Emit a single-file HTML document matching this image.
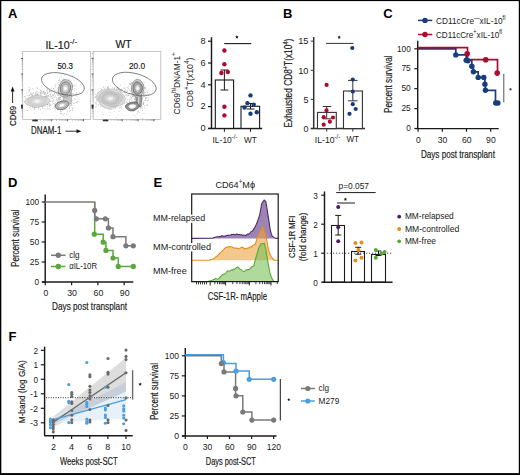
<!DOCTYPE html>
<html><head><meta charset="utf-8"><style>
html,body{margin:0;padding:0;background:#fff;}
svg{display:block;}
text{font-family:"Liberation Sans", sans-serif;} .hv{stroke:#1a1a1a;stroke-width:0.18px;}
</style></head><body>
<svg width="520" height="475" viewBox="0 0 520 475" font-family='"Liberation Sans", sans-serif' fill="#1a1a1a">
<rect x="0" y="0" width="520" height="475" fill="#fff"/>
<text x="7.90" y="18.30" font-size="13" font-weight="bold" fill="#000" >A</text>
<text x="283.10" y="18.10" font-size="13" font-weight="bold" fill="#000" >B</text>
<text x="383.20" y="18.20" font-size="13" font-weight="bold" fill="#000" >C</text>
<text x="8.10" y="187.20" font-size="13" font-weight="bold" fill="#000" >D</text>
<text x="153.40" y="187.20" font-size="13" font-weight="bold" fill="#000" >E</text>
<text x="8.40" y="340.70" font-size="13" font-weight="bold" fill="#000" >F</text>
<rect x="22.70" y="51.50" width="68.00" height="68.00" stroke="#b8b8b8" stroke-width="0.8" fill="none"/>
<line x1="22.70" y1="53.30" x2="21.50" y2="53.30" stroke="#888" stroke-width="0.6" />
<line x1="23.00" y1="58.40" x2="21.10" y2="58.40" stroke="#444" stroke-width="1.0" />
<line x1="22.70" y1="69.23" x2="21.70" y2="69.23" stroke="#888" stroke-width="0.6" />
<line x1="22.70" y1="66.50" x2="21.70" y2="66.50" stroke="#888" stroke-width="0.6" />
<line x1="22.70" y1="64.57" x2="21.70" y2="64.57" stroke="#888" stroke-width="0.6" />
<line x1="22.70" y1="63.07" x2="21.70" y2="63.07" stroke="#888" stroke-width="0.6" />
<line x1="22.70" y1="61.84" x2="21.70" y2="61.84" stroke="#888" stroke-width="0.6" />
<line x1="22.70" y1="60.80" x2="21.70" y2="60.80" stroke="#888" stroke-width="0.6" />
<line x1="22.70" y1="59.90" x2="21.70" y2="59.90" stroke="#888" stroke-width="0.6" />
<line x1="22.70" y1="59.11" x2="21.70" y2="59.11" stroke="#888" stroke-width="0.6" />
<line x1="23.00" y1="74.10" x2="21.10" y2="74.10" stroke="#444" stroke-width="1.0" />
<line x1="22.70" y1="84.93" x2="21.70" y2="84.93" stroke="#888" stroke-width="0.6" />
<line x1="22.70" y1="82.20" x2="21.70" y2="82.20" stroke="#888" stroke-width="0.6" />
<line x1="22.70" y1="80.27" x2="21.70" y2="80.27" stroke="#888" stroke-width="0.6" />
<line x1="22.70" y1="78.77" x2="21.70" y2="78.77" stroke="#888" stroke-width="0.6" />
<line x1="22.70" y1="77.54" x2="21.70" y2="77.54" stroke="#888" stroke-width="0.6" />
<line x1="22.70" y1="76.50" x2="21.70" y2="76.50" stroke="#888" stroke-width="0.6" />
<line x1="22.70" y1="75.60" x2="21.70" y2="75.60" stroke="#888" stroke-width="0.6" />
<line x1="22.70" y1="74.81" x2="21.70" y2="74.81" stroke="#888" stroke-width="0.6" />
<line x1="23.00" y1="89.90" x2="21.10" y2="89.90" stroke="#444" stroke-width="1.0" />
<line x1="22.70" y1="100.73" x2="21.70" y2="100.73" stroke="#888" stroke-width="0.6" />
<line x1="22.70" y1="98.00" x2="21.70" y2="98.00" stroke="#888" stroke-width="0.6" />
<line x1="22.70" y1="96.07" x2="21.70" y2="96.07" stroke="#888" stroke-width="0.6" />
<line x1="22.70" y1="94.57" x2="21.70" y2="94.57" stroke="#888" stroke-width="0.6" />
<line x1="22.70" y1="93.34" x2="21.70" y2="93.34" stroke="#888" stroke-width="0.6" />
<line x1="22.70" y1="92.30" x2="21.70" y2="92.30" stroke="#888" stroke-width="0.6" />
<line x1="22.70" y1="91.40" x2="21.70" y2="91.40" stroke="#888" stroke-width="0.6" />
<line x1="22.70" y1="90.61" x2="21.70" y2="90.61" stroke="#888" stroke-width="0.6" />
<line x1="23.00" y1="105.60" x2="21.10" y2="105.60" stroke="#444" stroke-width="1.0" />
<line x1="22.70" y1="116.43" x2="21.70" y2="116.43" stroke="#888" stroke-width="0.6" />
<line x1="22.70" y1="113.70" x2="21.70" y2="113.70" stroke="#888" stroke-width="0.6" />
<line x1="22.70" y1="111.77" x2="21.70" y2="111.77" stroke="#888" stroke-width="0.6" />
<line x1="22.70" y1="110.27" x2="21.70" y2="110.27" stroke="#888" stroke-width="0.6" />
<line x1="22.70" y1="109.04" x2="21.70" y2="109.04" stroke="#888" stroke-width="0.6" />
<line x1="22.70" y1="108.00" x2="21.70" y2="108.00" stroke="#888" stroke-width="0.6" />
<line x1="22.70" y1="107.10" x2="21.70" y2="107.10" stroke="#888" stroke-width="0.6" />
<line x1="22.70" y1="106.31" x2="21.70" y2="106.31" stroke="#888" stroke-width="0.6" />
<rect x="21.10" y="104.60" width="1.80" height="4.00" stroke="none" stroke-width="0" fill="#333"/>
<line x1="35.80" y1="119.20" x2="35.80" y2="121.30" stroke="#444" stroke-width="0.9" />
<line x1="33.34" y1="119.50" x2="33.34" y2="120.70" stroke="#888" stroke-width="0.6" />
<line x1="34.26" y1="119.50" x2="34.26" y2="120.70" stroke="#888" stroke-width="0.6" />
<line x1="35.07" y1="119.50" x2="35.07" y2="120.70" stroke="#888" stroke-width="0.6" />
<line x1="51.70" y1="119.20" x2="51.70" y2="121.30" stroke="#444" stroke-width="0.9" />
<line x1="40.59" y1="119.50" x2="40.59" y2="120.70" stroke="#888" stroke-width="0.6" />
<line x1="43.39" y1="119.50" x2="43.39" y2="120.70" stroke="#888" stroke-width="0.6" />
<line x1="45.37" y1="119.50" x2="45.37" y2="120.70" stroke="#888" stroke-width="0.6" />
<line x1="46.91" y1="119.50" x2="46.91" y2="120.70" stroke="#888" stroke-width="0.6" />
<line x1="48.17" y1="119.50" x2="48.17" y2="120.70" stroke="#888" stroke-width="0.6" />
<line x1="49.24" y1="119.50" x2="49.24" y2="120.70" stroke="#888" stroke-width="0.6" />
<line x1="50.16" y1="119.50" x2="50.16" y2="120.70" stroke="#888" stroke-width="0.6" />
<line x1="50.97" y1="119.50" x2="50.97" y2="120.70" stroke="#888" stroke-width="0.6" />
<line x1="67.60" y1="119.20" x2="67.60" y2="121.30" stroke="#444" stroke-width="0.9" />
<line x1="56.49" y1="119.50" x2="56.49" y2="120.70" stroke="#888" stroke-width="0.6" />
<line x1="59.29" y1="119.50" x2="59.29" y2="120.70" stroke="#888" stroke-width="0.6" />
<line x1="61.27" y1="119.50" x2="61.27" y2="120.70" stroke="#888" stroke-width="0.6" />
<line x1="62.81" y1="119.50" x2="62.81" y2="120.70" stroke="#888" stroke-width="0.6" />
<line x1="64.07" y1="119.50" x2="64.07" y2="120.70" stroke="#888" stroke-width="0.6" />
<line x1="65.14" y1="119.50" x2="65.14" y2="120.70" stroke="#888" stroke-width="0.6" />
<line x1="66.06" y1="119.50" x2="66.06" y2="120.70" stroke="#888" stroke-width="0.6" />
<line x1="66.87" y1="119.50" x2="66.87" y2="120.70" stroke="#888" stroke-width="0.6" />
<line x1="83.50" y1="119.20" x2="83.50" y2="121.30" stroke="#444" stroke-width="0.9" />
<line x1="72.39" y1="119.50" x2="72.39" y2="120.70" stroke="#888" stroke-width="0.6" />
<line x1="75.19" y1="119.50" x2="75.19" y2="120.70" stroke="#888" stroke-width="0.6" />
<line x1="77.17" y1="119.50" x2="77.17" y2="120.70" stroke="#888" stroke-width="0.6" />
<line x1="78.71" y1="119.50" x2="78.71" y2="120.70" stroke="#888" stroke-width="0.6" />
<line x1="79.97" y1="119.50" x2="79.97" y2="120.70" stroke="#888" stroke-width="0.6" />
<line x1="81.04" y1="119.50" x2="81.04" y2="120.70" stroke="#888" stroke-width="0.6" />
<line x1="81.96" y1="119.50" x2="81.96" y2="120.70" stroke="#888" stroke-width="0.6" />
<line x1="82.77" y1="119.50" x2="82.77" y2="120.70" stroke="#888" stroke-width="0.6" />
<rect x="32.30" y="119.70" width="5.60" height="1.60" stroke="none" stroke-width="0" fill="#333"/>
<rect x="93.20" y="51.50" width="67.60" height="68.00" stroke="#b8b8b8" stroke-width="0.8" fill="none"/>
<line x1="93.20" y1="53.30" x2="92.00" y2="53.30" stroke="#888" stroke-width="0.6" />
<line x1="93.50" y1="58.40" x2="91.60" y2="58.40" stroke="#444" stroke-width="1.0" />
<line x1="93.20" y1="69.23" x2="92.20" y2="69.23" stroke="#888" stroke-width="0.6" />
<line x1="93.20" y1="66.50" x2="92.20" y2="66.50" stroke="#888" stroke-width="0.6" />
<line x1="93.20" y1="64.57" x2="92.20" y2="64.57" stroke="#888" stroke-width="0.6" />
<line x1="93.20" y1="63.07" x2="92.20" y2="63.07" stroke="#888" stroke-width="0.6" />
<line x1="93.20" y1="61.84" x2="92.20" y2="61.84" stroke="#888" stroke-width="0.6" />
<line x1="93.20" y1="60.80" x2="92.20" y2="60.80" stroke="#888" stroke-width="0.6" />
<line x1="93.20" y1="59.90" x2="92.20" y2="59.90" stroke="#888" stroke-width="0.6" />
<line x1="93.20" y1="59.11" x2="92.20" y2="59.11" stroke="#888" stroke-width="0.6" />
<line x1="93.50" y1="74.10" x2="91.60" y2="74.10" stroke="#444" stroke-width="1.0" />
<line x1="93.20" y1="84.93" x2="92.20" y2="84.93" stroke="#888" stroke-width="0.6" />
<line x1="93.20" y1="82.20" x2="92.20" y2="82.20" stroke="#888" stroke-width="0.6" />
<line x1="93.20" y1="80.27" x2="92.20" y2="80.27" stroke="#888" stroke-width="0.6" />
<line x1="93.20" y1="78.77" x2="92.20" y2="78.77" stroke="#888" stroke-width="0.6" />
<line x1="93.20" y1="77.54" x2="92.20" y2="77.54" stroke="#888" stroke-width="0.6" />
<line x1="93.20" y1="76.50" x2="92.20" y2="76.50" stroke="#888" stroke-width="0.6" />
<line x1="93.20" y1="75.60" x2="92.20" y2="75.60" stroke="#888" stroke-width="0.6" />
<line x1="93.20" y1="74.81" x2="92.20" y2="74.81" stroke="#888" stroke-width="0.6" />
<line x1="93.50" y1="89.90" x2="91.60" y2="89.90" stroke="#444" stroke-width="1.0" />
<line x1="93.20" y1="100.73" x2="92.20" y2="100.73" stroke="#888" stroke-width="0.6" />
<line x1="93.20" y1="98.00" x2="92.20" y2="98.00" stroke="#888" stroke-width="0.6" />
<line x1="93.20" y1="96.07" x2="92.20" y2="96.07" stroke="#888" stroke-width="0.6" />
<line x1="93.20" y1="94.57" x2="92.20" y2="94.57" stroke="#888" stroke-width="0.6" />
<line x1="93.20" y1="93.34" x2="92.20" y2="93.34" stroke="#888" stroke-width="0.6" />
<line x1="93.20" y1="92.30" x2="92.20" y2="92.30" stroke="#888" stroke-width="0.6" />
<line x1="93.20" y1="91.40" x2="92.20" y2="91.40" stroke="#888" stroke-width="0.6" />
<line x1="93.20" y1="90.61" x2="92.20" y2="90.61" stroke="#888" stroke-width="0.6" />
<line x1="93.50" y1="105.60" x2="91.60" y2="105.60" stroke="#444" stroke-width="1.0" />
<line x1="93.20" y1="116.43" x2="92.20" y2="116.43" stroke="#888" stroke-width="0.6" />
<line x1="93.20" y1="113.70" x2="92.20" y2="113.70" stroke="#888" stroke-width="0.6" />
<line x1="93.20" y1="111.77" x2="92.20" y2="111.77" stroke="#888" stroke-width="0.6" />
<line x1="93.20" y1="110.27" x2="92.20" y2="110.27" stroke="#888" stroke-width="0.6" />
<line x1="93.20" y1="109.04" x2="92.20" y2="109.04" stroke="#888" stroke-width="0.6" />
<line x1="93.20" y1="108.00" x2="92.20" y2="108.00" stroke="#888" stroke-width="0.6" />
<line x1="93.20" y1="107.10" x2="92.20" y2="107.10" stroke="#888" stroke-width="0.6" />
<line x1="93.20" y1="106.31" x2="92.20" y2="106.31" stroke="#888" stroke-width="0.6" />
<rect x="91.60" y="104.60" width="1.80" height="4.00" stroke="none" stroke-width="0" fill="#333"/>
<line x1="106.30" y1="119.20" x2="106.30" y2="121.30" stroke="#444" stroke-width="0.9" />
<line x1="103.84" y1="119.50" x2="103.84" y2="120.70" stroke="#888" stroke-width="0.6" />
<line x1="104.76" y1="119.50" x2="104.76" y2="120.70" stroke="#888" stroke-width="0.6" />
<line x1="105.57" y1="119.50" x2="105.57" y2="120.70" stroke="#888" stroke-width="0.6" />
<line x1="122.20" y1="119.20" x2="122.20" y2="121.30" stroke="#444" stroke-width="0.9" />
<line x1="111.09" y1="119.50" x2="111.09" y2="120.70" stroke="#888" stroke-width="0.6" />
<line x1="113.89" y1="119.50" x2="113.89" y2="120.70" stroke="#888" stroke-width="0.6" />
<line x1="115.87" y1="119.50" x2="115.87" y2="120.70" stroke="#888" stroke-width="0.6" />
<line x1="117.41" y1="119.50" x2="117.41" y2="120.70" stroke="#888" stroke-width="0.6" />
<line x1="118.67" y1="119.50" x2="118.67" y2="120.70" stroke="#888" stroke-width="0.6" />
<line x1="119.74" y1="119.50" x2="119.74" y2="120.70" stroke="#888" stroke-width="0.6" />
<line x1="120.66" y1="119.50" x2="120.66" y2="120.70" stroke="#888" stroke-width="0.6" />
<line x1="121.47" y1="119.50" x2="121.47" y2="120.70" stroke="#888" stroke-width="0.6" />
<line x1="138.10" y1="119.20" x2="138.10" y2="121.30" stroke="#444" stroke-width="0.9" />
<line x1="126.99" y1="119.50" x2="126.99" y2="120.70" stroke="#888" stroke-width="0.6" />
<line x1="129.79" y1="119.50" x2="129.79" y2="120.70" stroke="#888" stroke-width="0.6" />
<line x1="131.77" y1="119.50" x2="131.77" y2="120.70" stroke="#888" stroke-width="0.6" />
<line x1="133.31" y1="119.50" x2="133.31" y2="120.70" stroke="#888" stroke-width="0.6" />
<line x1="134.57" y1="119.50" x2="134.57" y2="120.70" stroke="#888" stroke-width="0.6" />
<line x1="135.64" y1="119.50" x2="135.64" y2="120.70" stroke="#888" stroke-width="0.6" />
<line x1="136.56" y1="119.50" x2="136.56" y2="120.70" stroke="#888" stroke-width="0.6" />
<line x1="137.37" y1="119.50" x2="137.37" y2="120.70" stroke="#888" stroke-width="0.6" />
<line x1="154.00" y1="119.20" x2="154.00" y2="121.30" stroke="#444" stroke-width="0.9" />
<line x1="142.89" y1="119.50" x2="142.89" y2="120.70" stroke="#888" stroke-width="0.6" />
<line x1="145.69" y1="119.50" x2="145.69" y2="120.70" stroke="#888" stroke-width="0.6" />
<line x1="147.67" y1="119.50" x2="147.67" y2="120.70" stroke="#888" stroke-width="0.6" />
<line x1="149.21" y1="119.50" x2="149.21" y2="120.70" stroke="#888" stroke-width="0.6" />
<line x1="150.47" y1="119.50" x2="150.47" y2="120.70" stroke="#888" stroke-width="0.6" />
<line x1="151.54" y1="119.50" x2="151.54" y2="120.70" stroke="#888" stroke-width="0.6" />
<line x1="152.46" y1="119.50" x2="152.46" y2="120.70" stroke="#888" stroke-width="0.6" />
<line x1="153.27" y1="119.50" x2="153.27" y2="120.70" stroke="#888" stroke-width="0.6" />
<rect x="102.80" y="119.70" width="5.60" height="1.60" stroke="none" stroke-width="0" fill="#333"/>
<circle cx="53.4" cy="99.8" r="0.45" fill="#a8a8a8"/>
<circle cx="57.0" cy="100.9" r="0.45" fill="#a8a8a8"/>
<circle cx="36.0" cy="98.0" r="0.45" fill="#a8a8a8"/>
<circle cx="64.9" cy="108.9" r="0.45" fill="#a8a8a8"/>
<circle cx="30.1" cy="89.8" r="0.45" fill="#a8a8a8"/>
<circle cx="69.1" cy="79.6" r="0.45" fill="#a8a8a8"/>
<circle cx="66.5" cy="102.0" r="0.45" fill="#a8a8a8"/>
<circle cx="58.3" cy="80.3" r="0.45" fill="#a8a8a8"/>
<circle cx="36.4" cy="87.4" r="0.45" fill="#a8a8a8"/>
<circle cx="26.0" cy="96.1" r="0.45" fill="#a8a8a8"/>
<circle cx="57.7" cy="103.0" r="0.45" fill="#a8a8a8"/>
<circle cx="56.5" cy="103.8" r="0.45" fill="#a8a8a8"/>
<circle cx="53.7" cy="88.8" r="0.45" fill="#a8a8a8"/>
<circle cx="73.8" cy="93.6" r="0.45" fill="#a8a8a8"/>
<circle cx="28.7" cy="102.5" r="0.45" fill="#a8a8a8"/>
<circle cx="74.6" cy="88.5" r="0.45" fill="#a8a8a8"/>
<circle cx="29.7" cy="91.0" r="0.45" fill="#a8a8a8"/>
<circle cx="75.8" cy="84.9" r="0.45" fill="#a8a8a8"/>
<circle cx="60.4" cy="95.4" r="0.45" fill="#a8a8a8"/>
<circle cx="36.4" cy="106.5" r="0.45" fill="#a8a8a8"/>
<circle cx="32.5" cy="103.1" r="0.45" fill="#a8a8a8"/>
<circle cx="31.6" cy="94.4" r="0.45" fill="#a8a8a8"/>
<circle cx="37.8" cy="88.5" r="0.45" fill="#a8a8a8"/>
<circle cx="37.7" cy="93.4" r="0.45" fill="#a8a8a8"/>
<circle cx="37.9" cy="88.1" r="0.45" fill="#a8a8a8"/>
<circle cx="74.2" cy="90.8" r="0.45" fill="#a8a8a8"/>
<circle cx="29.9" cy="100.7" r="0.45" fill="#a8a8a8"/>
<circle cx="39.8" cy="101.5" r="0.45" fill="#a8a8a8"/>
<circle cx="48.2" cy="95.7" r="0.45" fill="#a8a8a8"/>
<circle cx="61.3" cy="111.8" r="0.45" fill="#a8a8a8"/>
<circle cx="39.5" cy="105.5" r="0.45" fill="#a8a8a8"/>
<circle cx="40.7" cy="110.1" r="0.45" fill="#a8a8a8"/>
<circle cx="62.8" cy="89.4" r="0.45" fill="#a8a8a8"/>
<circle cx="35.4" cy="106.1" r="0.45" fill="#a8a8a8"/>
<circle cx="60.4" cy="111.2" r="0.45" fill="#a8a8a8"/>
<circle cx="63.9" cy="88.9" r="0.45" fill="#a8a8a8"/>
<circle cx="35.5" cy="92.4" r="0.45" fill="#a8a8a8"/>
<circle cx="61.2" cy="83.1" r="0.45" fill="#a8a8a8"/>
<circle cx="68.9" cy="100.8" r="0.45" fill="#a8a8a8"/>
<circle cx="25.4" cy="102.8" r="0.45" fill="#a8a8a8"/>
<circle cx="55.3" cy="106.5" r="0.45" fill="#a8a8a8"/>
<circle cx="28.9" cy="99.3" r="0.45" fill="#a8a8a8"/>
<circle cx="71.9" cy="105.4" r="0.45" fill="#a8a8a8"/>
<circle cx="46.9" cy="104.7" r="0.45" fill="#a8a8a8"/>
<circle cx="64.6" cy="92.9" r="0.45" fill="#a8a8a8"/>
<circle cx="61.9" cy="101.7" r="0.45" fill="#a8a8a8"/>
<circle cx="29.2" cy="102.9" r="0.45" fill="#a8a8a8"/>
<circle cx="71.3" cy="93.1" r="0.45" fill="#a8a8a8"/>
<circle cx="71.8" cy="100.7" r="0.45" fill="#a8a8a8"/>
<circle cx="29.4" cy="107.3" r="0.45" fill="#a8a8a8"/>
<circle cx="25.9" cy="101.5" r="0.45" fill="#a8a8a8"/>
<circle cx="55.3" cy="87.0" r="0.45" fill="#a8a8a8"/>
<circle cx="69.4" cy="97.4" r="0.45" fill="#a8a8a8"/>
<circle cx="63.9" cy="113.9" r="0.45" fill="#a8a8a8"/>
<circle cx="43.6" cy="104.4" r="0.45" fill="#a8a8a8"/>
<circle cx="45.3" cy="104.0" r="0.45" fill="#a8a8a8"/>
<circle cx="36.9" cy="94.8" r="0.45" fill="#a8a8a8"/>
<circle cx="61.9" cy="90.3" r="0.45" fill="#a8a8a8"/>
<circle cx="32.9" cy="97.4" r="0.45" fill="#a8a8a8"/>
<circle cx="53.3" cy="88.7" r="0.45" fill="#a8a8a8"/>
<circle cx="37.9" cy="94.1" r="0.45" fill="#a8a8a8"/>
<circle cx="64.7" cy="97.3" r="0.45" fill="#a8a8a8"/>
<circle cx="70.1" cy="100.3" r="0.45" fill="#a8a8a8"/>
<circle cx="44.1" cy="108.9" r="0.45" fill="#a8a8a8"/>
<circle cx="64.9" cy="95.4" r="0.45" fill="#a8a8a8"/>
<circle cx="64.9" cy="103.5" r="0.45" fill="#a8a8a8"/>
<circle cx="68.5" cy="85.8" r="0.45" fill="#a8a8a8"/>
<circle cx="54.9" cy="85.0" r="0.45" fill="#a8a8a8"/>
<circle cx="24.7" cy="96.4" r="0.45" fill="#a8a8a8"/>
<circle cx="70.4" cy="85.0" r="0.45" fill="#a8a8a8"/>
<circle cx="41.7" cy="91.5" r="0.45" fill="#a8a8a8"/>
<circle cx="69.3" cy="98.3" r="0.45" fill="#a8a8a8"/>
<circle cx="63.9" cy="107.5" r="0.45" fill="#a8a8a8"/>
<circle cx="49.6" cy="108.9" r="0.45" fill="#a8a8a8"/>
<circle cx="32.4" cy="95.7" r="0.45" fill="#a8a8a8"/>
<circle cx="64.7" cy="113.5" r="0.45" fill="#a8a8a8"/>
<circle cx="48.5" cy="100.2" r="0.45" fill="#a8a8a8"/>
<circle cx="66.3" cy="86.0" r="0.45" fill="#a8a8a8"/>
<circle cx="70.9" cy="109.9" r="0.45" fill="#a8a8a8"/>
<circle cx="65.7" cy="106.0" r="0.45" fill="#a8a8a8"/>
<circle cx="58.9" cy="108.8" r="0.45" fill="#a8a8a8"/>
<circle cx="29.4" cy="95.2" r="0.45" fill="#a8a8a8"/>
<circle cx="59.8" cy="108.0" r="0.45" fill="#a8a8a8"/>
<circle cx="45.8" cy="108.7" r="0.45" fill="#a8a8a8"/>
<circle cx="57.6" cy="106.2" r="0.45" fill="#a8a8a8"/>
<circle cx="38.4" cy="98.5" r="0.45" fill="#a8a8a8"/>
<circle cx="42.9" cy="106.4" r="0.45" fill="#a8a8a8"/>
<circle cx="65.5" cy="98.4" r="0.45" fill="#a8a8a8"/>
<circle cx="44.3" cy="92.9" r="0.45" fill="#a8a8a8"/>
<circle cx="61.2" cy="85.8" r="0.45" fill="#a8a8a8"/>
<circle cx="58.8" cy="97.6" r="0.45" fill="#a8a8a8"/>
<circle cx="63.3" cy="79.1" r="0.45" fill="#a8a8a8"/>
<circle cx="60.6" cy="97.2" r="0.45" fill="#a8a8a8"/>
<circle cx="68.9" cy="80.6" r="0.45" fill="#a8a8a8"/>
<circle cx="59.0" cy="94.1" r="0.45" fill="#a8a8a8"/>
<circle cx="41.5" cy="96.5" r="0.45" fill="#a8a8a8"/>
<circle cx="32.3" cy="94.9" r="0.45" fill="#a8a8a8"/>
<circle cx="55.0" cy="90.4" r="0.45" fill="#a8a8a8"/>
<circle cx="36.4" cy="102.1" r="0.45" fill="#a8a8a8"/>
<circle cx="68.7" cy="90.6" r="0.45" fill="#a8a8a8"/>
<circle cx="47.1" cy="102.2" r="0.45" fill="#a8a8a8"/>
<circle cx="30.8" cy="106.5" r="0.45" fill="#a8a8a8"/>
<circle cx="32.0" cy="97.9" r="0.45" fill="#a8a8a8"/>
<circle cx="58.5" cy="95.0" r="0.45" fill="#a8a8a8"/>
<circle cx="48.4" cy="94.1" r="0.45" fill="#a8a8a8"/>
<circle cx="58.4" cy="84.2" r="0.45" fill="#a8a8a8"/>
<circle cx="37.3" cy="102.6" r="0.45" fill="#a8a8a8"/>
<circle cx="65.5" cy="98.7" r="0.45" fill="#a8a8a8"/>
<circle cx="72.2" cy="109.6" r="0.45" fill="#a8a8a8"/>
<circle cx="39.6" cy="106.3" r="0.45" fill="#a8a8a8"/>
<circle cx="78.1" cy="94.4" r="0.45" fill="#a8a8a8"/>
<circle cx="50.2" cy="104.7" r="0.45" fill="#a8a8a8"/>
<circle cx="56.9" cy="107.6" r="0.45" fill="#a8a8a8"/>
<circle cx="56.7" cy="104.7" r="0.45" fill="#a8a8a8"/>
<circle cx="59.9" cy="98.1" r="0.45" fill="#a8a8a8"/>
<circle cx="61.0" cy="83.7" r="0.45" fill="#a8a8a8"/>
<circle cx="54.0" cy="107.8" r="0.45" fill="#a8a8a8"/>
<circle cx="45.2" cy="96.2" r="0.45" fill="#a8a8a8"/>
<circle cx="57.5" cy="94.8" r="0.45" fill="#a8a8a8"/>
<circle cx="63.1" cy="78.5" r="0.45" fill="#a8a8a8"/>
<circle cx="69.6" cy="110.9" r="0.45" fill="#a8a8a8"/>
<circle cx="35.8" cy="95.7" r="0.45" fill="#a8a8a8"/>
<circle cx="72.1" cy="93.8" r="0.45" fill="#a8a8a8"/>
<circle cx="69.8" cy="111.6" r="0.45" fill="#a8a8a8"/>
<circle cx="64.9" cy="93.8" r="0.45" fill="#a8a8a8"/>
<circle cx="63.0" cy="97.7" r="0.45" fill="#a8a8a8"/>
<circle cx="72.4" cy="108.3" r="0.45" fill="#a8a8a8"/>
<circle cx="77.0" cy="93.8" r="0.45" fill="#a8a8a8"/>
<circle cx="69.2" cy="107.9" r="0.45" fill="#a8a8a8"/>
<circle cx="73.7" cy="93.8" r="0.45" fill="#a8a8a8"/>
<circle cx="71.0" cy="80.8" r="0.45" fill="#a8a8a8"/>
<circle cx="46.2" cy="96.3" r="0.45" fill="#a8a8a8"/>
<circle cx="65.5" cy="102.3" r="0.45" fill="#a8a8a8"/>
<circle cx="67.3" cy="91.2" r="0.45" fill="#a8a8a8"/>
<circle cx="66.9" cy="100.2" r="0.45" fill="#a8a8a8"/>
<circle cx="58.7" cy="93.2" r="0.45" fill="#a8a8a8"/>
<circle cx="69.6" cy="107.7" r="0.45" fill="#a8a8a8"/>
<circle cx="64.0" cy="106.8" r="0.45" fill="#a8a8a8"/>
<circle cx="40.7" cy="93.7" r="0.45" fill="#a8a8a8"/>
<circle cx="59.8" cy="97.8" r="0.45" fill="#a8a8a8"/>
<circle cx="62.8" cy="107.6" r="0.45" fill="#a8a8a8"/>
<circle cx="34.4" cy="96.4" r="0.45" fill="#a8a8a8"/>
<circle cx="35.0" cy="97.3" r="0.45" fill="#a8a8a8"/>
<circle cx="63.7" cy="80.3" r="0.45" fill="#a8a8a8"/>
<circle cx="58.2" cy="101.3" r="0.45" fill="#a8a8a8"/>
<circle cx="47.8" cy="89.1" r="0.45" fill="#a8a8a8"/>
<circle cx="66.6" cy="99.9" r="0.45" fill="#a8a8a8"/>
<circle cx="42.4" cy="105.9" r="0.45" fill="#a8a8a8"/>
<circle cx="34.2" cy="107.4" r="0.45" fill="#a8a8a8"/>
<circle cx="51.9" cy="96.6" r="0.45" fill="#a8a8a8"/>
<circle cx="71.0" cy="96.3" r="0.45" fill="#a8a8a8"/>
<circle cx="63.2" cy="82.5" r="0.45" fill="#a8a8a8"/>
<circle cx="64.6" cy="95.8" r="0.45" fill="#a8a8a8"/>
<circle cx="58.3" cy="82.8" r="0.45" fill="#a8a8a8"/>
<circle cx="52.8" cy="104.0" r="0.45" fill="#a8a8a8"/>
<circle cx="53.6" cy="88.2" r="0.45" fill="#a8a8a8"/>
<circle cx="61.8" cy="94.4" r="0.45" fill="#a8a8a8"/>
<circle cx="74.6" cy="98.7" r="0.45" fill="#a8a8a8"/>
<circle cx="71.7" cy="87.3" r="0.45" fill="#a8a8a8"/>
<circle cx="75.0" cy="102.4" r="0.45" fill="#a8a8a8"/>
<circle cx="47.3" cy="88.6" r="0.45" fill="#a8a8a8"/>
<circle cx="68.5" cy="100.0" r="0.45" fill="#a8a8a8"/>
<circle cx="62.5" cy="102.7" r="0.45" fill="#a8a8a8"/>
<circle cx="73.0" cy="85.4" r="0.45" fill="#a8a8a8"/>
<circle cx="41.6" cy="94.6" r="0.45" fill="#a8a8a8"/>
<circle cx="64.5" cy="82.0" r="0.45" fill="#a8a8a8"/>
<circle cx="59.2" cy="80.8" r="0.45" fill="#a8a8a8"/>
<circle cx="29.6" cy="104.4" r="0.45" fill="#a8a8a8"/>
<circle cx="59.8" cy="102.6" r="0.45" fill="#a8a8a8"/>
<circle cx="48.3" cy="96.7" r="0.45" fill="#a8a8a8"/>
<circle cx="37.7" cy="91.4" r="0.45" fill="#a8a8a8"/>
<circle cx="72.4" cy="110.7" r="0.45" fill="#a8a8a8"/>
<circle cx="76.6" cy="102.3" r="0.45" fill="#a8a8a8"/>
<circle cx="74.0" cy="86.3" r="0.45" fill="#a8a8a8"/>
<circle cx="51.6" cy="88.1" r="0.45" fill="#a8a8a8"/>
<circle cx="76.6" cy="92.4" r="0.45" fill="#a8a8a8"/>
<circle cx="45.2" cy="99.4" r="0.45" fill="#a8a8a8"/>
<circle cx="51.8" cy="92.4" r="0.45" fill="#a8a8a8"/>
<circle cx="60.7" cy="96.9" r="0.45" fill="#a8a8a8"/>
<circle cx="68.5" cy="89.7" r="0.45" fill="#a8a8a8"/>
<circle cx="37.9" cy="103.8" r="0.45" fill="#a8a8a8"/>
<circle cx="29.3" cy="89.8" r="0.45" fill="#a8a8a8"/>
<circle cx="71.1" cy="105.1" r="0.45" fill="#a8a8a8"/>
<circle cx="47.3" cy="106.3" r="0.45" fill="#a8a8a8"/>
<circle cx="70.1" cy="100.2" r="0.45" fill="#a8a8a8"/>
<circle cx="76.2" cy="89.9" r="0.45" fill="#a8a8a8"/>
<circle cx="44.6" cy="93.6" r="0.45" fill="#a8a8a8"/>
<circle cx="40.1" cy="92.1" r="0.45" fill="#a8a8a8"/>
<circle cx="47.8" cy="92.2" r="0.45" fill="#a8a8a8"/>
<circle cx="49.7" cy="93.1" r="0.45" fill="#a8a8a8"/>
<circle cx="36.7" cy="100.0" r="0.45" fill="#a8a8a8"/>
<circle cx="75.8" cy="99.1" r="0.45" fill="#a8a8a8"/>
<circle cx="78.4" cy="99.9" r="0.45" fill="#a8a8a8"/>
<circle cx="35.5" cy="107.6" r="0.45" fill="#a8a8a8"/>
<circle cx="25.4" cy="98.1" r="0.45" fill="#a8a8a8"/>
<circle cx="59.4" cy="100.1" r="0.45" fill="#a8a8a8"/>
<circle cx="59.5" cy="108.7" r="0.45" fill="#a8a8a8"/>
<circle cx="29.5" cy="102.7" r="0.45" fill="#a8a8a8"/>
<circle cx="33.4" cy="107.1" r="0.45" fill="#a8a8a8"/>
<circle cx="66.2" cy="87.6" r="0.45" fill="#a8a8a8"/>
<circle cx="38.3" cy="107.8" r="0.45" fill="#a8a8a8"/>
<circle cx="57.9" cy="107.8" r="0.45" fill="#a8a8a8"/>
<circle cx="49.6" cy="91.2" r="0.45" fill="#a8a8a8"/>
<circle cx="56.1" cy="99.0" r="0.45" fill="#a8a8a8"/>
<circle cx="70.9" cy="105.6" r="0.45" fill="#a8a8a8"/>
<circle cx="58.1" cy="105.7" r="0.45" fill="#a8a8a8"/>
<circle cx="76.1" cy="94.4" r="0.45" fill="#a8a8a8"/>
<circle cx="37.3" cy="94.6" r="0.45" fill="#a8a8a8"/>
<circle cx="31.5" cy="103.3" r="0.45" fill="#a8a8a8"/>
<circle cx="74.4" cy="85.0" r="0.45" fill="#a8a8a8"/>
<circle cx="28.1" cy="95.9" r="0.45" fill="#a8a8a8"/>
<circle cx="62.0" cy="113.5" r="0.45" fill="#a8a8a8"/>
<circle cx="39.3" cy="106.0" r="0.45" fill="#a8a8a8"/>
<circle cx="62.7" cy="86.7" r="0.45" fill="#a8a8a8"/>
<circle cx="36.0" cy="89.0" r="0.45" fill="#a8a8a8"/>
<circle cx="35.2" cy="107.5" r="0.45" fill="#a8a8a8"/>
<circle cx="44.3" cy="99.4" r="0.45" fill="#a8a8a8"/>
<circle cx="77.1" cy="96.7" r="0.45" fill="#a8a8a8"/>
<circle cx="55.4" cy="86.6" r="0.45" fill="#a8a8a8"/>
<circle cx="76.1" cy="93.0" r="0.45" fill="#a8a8a8"/>
<circle cx="58.3" cy="98.1" r="0.45" fill="#a8a8a8"/>
<circle cx="66.7" cy="87.3" r="0.45" fill="#a8a8a8"/>
<circle cx="24.7" cy="96.4" r="0.45" fill="#a8a8a8"/>
<circle cx="48.2" cy="109.1" r="0.45" fill="#a8a8a8"/>
<circle cx="70.4" cy="101.6" r="0.45" fill="#a8a8a8"/>
<circle cx="44.9" cy="88.1" r="0.45" fill="#a8a8a8"/>
<circle cx="41.3" cy="98.8" r="0.45" fill="#a8a8a8"/>
<circle cx="33.8" cy="108.0" r="0.45" fill="#a8a8a8"/>
<circle cx="70.6" cy="81.8" r="0.45" fill="#a8a8a8"/>
<circle cx="55.2" cy="96.3" r="0.45" fill="#a8a8a8"/>
<circle cx="75.3" cy="94.3" r="0.45" fill="#a8a8a8"/>
<circle cx="59.3" cy="98.5" r="0.45" fill="#a8a8a8"/>
<circle cx="44.2" cy="90.1" r="0.45" fill="#a8a8a8"/>
<circle cx="28.9" cy="89.9" r="0.45" fill="#a8a8a8"/>
<circle cx="54.4" cy="105.9" r="0.45" fill="#a8a8a8"/>
<circle cx="47.4" cy="104.8" r="0.45" fill="#a8a8a8"/>
<circle cx="30.9" cy="93.4" r="0.45" fill="#a8a8a8"/>
<circle cx="70.2" cy="87.3" r="0.45" fill="#a8a8a8"/>
<circle cx="60.7" cy="95.9" r="0.45" fill="#a8a8a8"/>
<circle cx="76.0" cy="86.1" r="0.45" fill="#a8a8a8"/>
<circle cx="64.0" cy="89.3" r="0.45" fill="#a8a8a8"/>
<circle cx="48.4" cy="99.1" r="0.45" fill="#a8a8a8"/>
<circle cx="43.4" cy="91.2" r="0.45" fill="#a8a8a8"/>
<circle cx="49.5" cy="104.0" r="0.45" fill="#a8a8a8"/>
<circle cx="71.5" cy="90.8" r="0.45" fill="#a8a8a8"/>
<circle cx="71.0" cy="90.9" r="0.45" fill="#a8a8a8"/>
<circle cx="68.1" cy="105.6" r="0.45" fill="#a8a8a8"/>
<circle cx="35.7" cy="93.7" r="0.45" fill="#a8a8a8"/>
<circle cx="57.3" cy="103.2" r="0.45" fill="#a8a8a8"/>
<circle cx="49.1" cy="90.9" r="0.45" fill="#a8a8a8"/>
<circle cx="50.0" cy="105.3" r="0.45" fill="#a8a8a8"/>
<circle cx="66.9" cy="101.7" r="0.45" fill="#a8a8a8"/>
<circle cx="46.2" cy="103.4" r="0.45" fill="#a8a8a8"/>
<circle cx="30.9" cy="92.7" r="0.45" fill="#a8a8a8"/>
<circle cx="57.1" cy="108.8" r="0.45" fill="#a8a8a8"/>
<circle cx="77.6" cy="101.8" r="0.45" fill="#a8a8a8"/>
<circle cx="34.3" cy="107.9" r="0.45" fill="#a8a8a8"/>
<circle cx="46.9" cy="97.5" r="0.45" fill="#a8a8a8"/>
<circle cx="33.2" cy="105.8" r="0.45" fill="#a8a8a8"/>
<circle cx="70.5" cy="110.6" r="0.45" fill="#a8a8a8"/>
<circle cx="64.8" cy="85.7" r="0.45" fill="#a8a8a8"/>
<circle cx="61.5" cy="105.2" r="0.45" fill="#a8a8a8"/>
<circle cx="47.5" cy="96.1" r="0.45" fill="#a8a8a8"/>
<circle cx="59.3" cy="99.9" r="0.45" fill="#a8a8a8"/>
<circle cx="60.4" cy="88.3" r="0.45" fill="#a8a8a8"/>
<circle cx="77.1" cy="101.5" r="0.45" fill="#a8a8a8"/>
<circle cx="39.7" cy="100.4" r="0.45" fill="#a8a8a8"/>
<circle cx="59.6" cy="81.0" r="0.45" fill="#a8a8a8"/>
<circle cx="66.8" cy="90.0" r="0.45" fill="#a8a8a8"/>
<circle cx="67.6" cy="106.8" r="0.45" fill="#a8a8a8"/>
<circle cx="48.8" cy="101.1" r="0.45" fill="#a8a8a8"/>
<circle cx="37.0" cy="96.3" r="0.45" fill="#a8a8a8"/>
<circle cx="33.3" cy="93.1" r="0.45" fill="#a8a8a8"/>
<circle cx="61.0" cy="84.8" r="0.45" fill="#a8a8a8"/>
<circle cx="57.8" cy="88.3" r="0.45" fill="#a8a8a8"/>
<circle cx="60.9" cy="91.0" r="0.45" fill="#a8a8a8"/>
<circle cx="65.7" cy="79.5" r="0.45" fill="#a8a8a8"/>
<circle cx="67.6" cy="83.6" r="0.45" fill="#a8a8a8"/>
<circle cx="54.5" cy="94.0" r="0.45" fill="#a8a8a8"/>
<circle cx="64.5" cy="104.9" r="0.45" fill="#a8a8a8"/>
<circle cx="73.3" cy="107.3" r="0.45" fill="#a8a8a8"/>
<circle cx="50.6" cy="94.9" r="0.45" fill="#a8a8a8"/>
<circle cx="60.8" cy="113.3" r="0.45" fill="#a8a8a8"/>
<circle cx="58.2" cy="98.5" r="0.45" fill="#a8a8a8"/>
<circle cx="71.6" cy="101.3" r="0.45" fill="#a8a8a8"/>
<circle cx="72.9" cy="89.9" r="0.45" fill="#a8a8a8"/>
<circle cx="62.6" cy="80.7" r="0.45" fill="#a8a8a8"/>
<circle cx="32.1" cy="95.4" r="0.45" fill="#a8a8a8"/>
<circle cx="56.7" cy="93.5" r="0.45" fill="#a8a8a8"/>
<circle cx="27.4" cy="105.1" r="0.45" fill="#a8a8a8"/>
<circle cx="58.2" cy="87.3" r="0.45" fill="#a8a8a8"/>
<circle cx="43.9" cy="93.4" r="0.45" fill="#a8a8a8"/>
<circle cx="67.3" cy="111.8" r="0.45" fill="#a8a8a8"/>
<circle cx="38.4" cy="107.1" r="0.45" fill="#a8a8a8"/>
<circle cx="60.8" cy="113.2" r="0.45" fill="#a8a8a8"/>
<circle cx="30.4" cy="108.9" r="0.45" fill="#a8a8a8"/>
<circle cx="32.0" cy="99.0" r="0.45" fill="#a8a8a8"/>
<circle cx="39.9" cy="89.7" r="0.45" fill="#a8a8a8"/>
<circle cx="49.8" cy="91.9" r="0.45" fill="#a8a8a8"/>
<circle cx="62.1" cy="79.8" r="0.45" fill="#a8a8a8"/>
<circle cx="45.7" cy="100.3" r="0.45" fill="#9c9c9c"/>
<circle cx="55.0" cy="103.3" r="0.45" fill="#9c9c9c"/>
<circle cx="44.1" cy="92.2" r="0.45" fill="#9c9c9c"/>
<circle cx="43.2" cy="92.1" r="0.45" fill="#9c9c9c"/>
<circle cx="56.1" cy="90.3" r="0.45" fill="#9c9c9c"/>
<circle cx="51.7" cy="91.9" r="0.45" fill="#9c9c9c"/>
<circle cx="46.5" cy="95.8" r="0.45" fill="#9c9c9c"/>
<circle cx="58.4" cy="99.0" r="0.45" fill="#9c9c9c"/>
<circle cx="40.3" cy="93.0" r="0.45" fill="#9c9c9c"/>
<circle cx="43.2" cy="103.7" r="0.45" fill="#9c9c9c"/>
<circle cx="57.8" cy="102.5" r="0.45" fill="#9c9c9c"/>
<circle cx="58.2" cy="101.4" r="0.45" fill="#9c9c9c"/>
<circle cx="60.9" cy="102.3" r="0.45" fill="#9c9c9c"/>
<circle cx="45.6" cy="103.3" r="0.45" fill="#9c9c9c"/>
<circle cx="50.7" cy="101.6" r="0.45" fill="#9c9c9c"/>
<circle cx="52.4" cy="95.7" r="0.45" fill="#9c9c9c"/>
<circle cx="48.0" cy="95.7" r="0.45" fill="#9c9c9c"/>
<circle cx="46.9" cy="90.1" r="0.45" fill="#9c9c9c"/>
<circle cx="58.0" cy="102.4" r="0.45" fill="#9c9c9c"/>
<circle cx="61.7" cy="100.4" r="0.45" fill="#9c9c9c"/>
<circle cx="52.2" cy="101.5" r="0.45" fill="#9c9c9c"/>
<circle cx="43.0" cy="100.2" r="0.45" fill="#9c9c9c"/>
<circle cx="49.8" cy="91.2" r="0.45" fill="#9c9c9c"/>
<circle cx="44.5" cy="97.4" r="0.45" fill="#9c9c9c"/>
<circle cx="45.6" cy="96.3" r="0.45" fill="#9c9c9c"/>
<circle cx="53.3" cy="95.1" r="0.45" fill="#9c9c9c"/>
<circle cx="42.9" cy="96.8" r="0.45" fill="#9c9c9c"/>
<circle cx="45.2" cy="92.2" r="0.45" fill="#9c9c9c"/>
<circle cx="44.3" cy="94.6" r="0.45" fill="#9c9c9c"/>
<circle cx="41.6" cy="99.7" r="0.45" fill="#9c9c9c"/>
<circle cx="61.0" cy="95.0" r="0.45" fill="#9c9c9c"/>
<circle cx="55.8" cy="104.8" r="0.45" fill="#9c9c9c"/>
<circle cx="41.0" cy="90.6" r="0.45" fill="#9c9c9c"/>
<circle cx="57.7" cy="103.1" r="0.45" fill="#9c9c9c"/>
<circle cx="54.1" cy="90.9" r="0.45" fill="#9c9c9c"/>
<circle cx="49.1" cy="103.6" r="0.45" fill="#9c9c9c"/>
<circle cx="59.5" cy="102.5" r="0.45" fill="#9c9c9c"/>
<circle cx="44.5" cy="103.4" r="0.45" fill="#9c9c9c"/>
<circle cx="48.2" cy="100.9" r="0.45" fill="#9c9c9c"/>
<circle cx="43.0" cy="105.5" r="0.45" fill="#9c9c9c"/>
<circle cx="53.3" cy="101.0" r="0.45" fill="#9c9c9c"/>
<circle cx="44.7" cy="99.1" r="0.45" fill="#9c9c9c"/>
<circle cx="52.8" cy="98.6" r="0.45" fill="#9c9c9c"/>
<circle cx="47.9" cy="101.1" r="0.45" fill="#9c9c9c"/>
<circle cx="47.5" cy="93.3" r="0.45" fill="#9c9c9c"/>
<circle cx="43.6" cy="100.3" r="0.45" fill="#9c9c9c"/>
<circle cx="42.5" cy="92.1" r="0.45" fill="#9c9c9c"/>
<circle cx="41.5" cy="99.6" r="0.45" fill="#9c9c9c"/>
<circle cx="52.2" cy="97.8" r="0.45" fill="#9c9c9c"/>
<circle cx="40.9" cy="95.9" r="0.45" fill="#9c9c9c"/>
<circle cx="47.5" cy="89.7" r="0.45" fill="#9c9c9c"/>
<circle cx="40.1" cy="106.0" r="0.45" fill="#9c9c9c"/>
<circle cx="42.7" cy="93.4" r="0.45" fill="#9c9c9c"/>
<circle cx="45.9" cy="98.8" r="0.45" fill="#9c9c9c"/>
<circle cx="41.7" cy="96.5" r="0.45" fill="#9c9c9c"/>
<circle cx="48.1" cy="103.0" r="0.45" fill="#9c9c9c"/>
<circle cx="40.1" cy="94.0" r="0.45" fill="#9c9c9c"/>
<circle cx="50.9" cy="105.5" r="0.45" fill="#9c9c9c"/>
<circle cx="51.4" cy="96.5" r="0.45" fill="#9c9c9c"/>
<circle cx="54.7" cy="93.3" r="0.45" fill="#9c9c9c"/>
<circle cx="40.7" cy="97.0" r="0.45" fill="#9c9c9c"/>
<circle cx="60.0" cy="101.3" r="0.45" fill="#9c9c9c"/>
<circle cx="45.7" cy="100.3" r="0.45" fill="#9c9c9c"/>
<circle cx="58.7" cy="92.7" r="0.45" fill="#9c9c9c"/>
<circle cx="52.9" cy="94.4" r="0.45" fill="#9c9c9c"/>
<circle cx="45.4" cy="93.2" r="0.45" fill="#9c9c9c"/>
<circle cx="44.5" cy="94.3" r="0.45" fill="#9c9c9c"/>
<circle cx="40.8" cy="95.2" r="0.45" fill="#9c9c9c"/>
<circle cx="41.9" cy="101.6" r="0.45" fill="#9c9c9c"/>
<circle cx="53.2" cy="88.1" r="0.45" fill="#9c9c9c"/>
<circle cx="57.0" cy="91.4" r="0.45" fill="#9c9c9c"/>
<circle cx="50.6" cy="98.0" r="0.45" fill="#9c9c9c"/>
<circle cx="47.3" cy="93.2" r="0.45" fill="#9c9c9c"/>
<circle cx="49.6" cy="90.5" r="0.45" fill="#9c9c9c"/>
<circle cx="59.0" cy="90.0" r="0.45" fill="#9c9c9c"/>
<circle cx="58.1" cy="91.9" r="0.45" fill="#9c9c9c"/>
<circle cx="46.7" cy="95.0" r="0.45" fill="#9c9c9c"/>
<circle cx="40.7" cy="90.3" r="0.45" fill="#9c9c9c"/>
<circle cx="47.9" cy="96.0" r="0.45" fill="#9c9c9c"/>
<circle cx="59.3" cy="105.8" r="0.45" fill="#9c9c9c"/>
<circle cx="41.0" cy="97.6" r="0.45" fill="#9c9c9c"/>
<circle cx="42.8" cy="102.5" r="0.45" fill="#9c9c9c"/>
<circle cx="47.1" cy="104.1" r="0.45" fill="#9c9c9c"/>
<circle cx="52.0" cy="90.3" r="0.45" fill="#9c9c9c"/>
<circle cx="40.1" cy="92.5" r="0.45" fill="#9c9c9c"/>
<circle cx="59.1" cy="90.7" r="0.45" fill="#9c9c9c"/>
<circle cx="50.5" cy="94.7" r="0.45" fill="#9c9c9c"/>
<circle cx="47.6" cy="102.4" r="0.45" fill="#9c9c9c"/>
<circle cx="44.7" cy="100.9" r="0.45" fill="#9c9c9c"/>
<circle cx="54.7" cy="104.8" r="0.45" fill="#9c9c9c"/>
<circle cx="32.6" cy="98.9" r="0.42" fill="#a0a0a0"/>
<circle cx="56.3" cy="98.0" r="0.42" fill="#a0a0a0"/>
<circle cx="25.2" cy="102.0" r="0.42" fill="#a0a0a0"/>
<circle cx="38.8" cy="104.0" r="0.42" fill="#a0a0a0"/>
<circle cx="34.4" cy="108.0" r="0.42" fill="#a0a0a0"/>
<circle cx="42.8" cy="113.4" r="0.42" fill="#a0a0a0"/>
<circle cx="42.5" cy="101.9" r="0.42" fill="#a0a0a0"/>
<circle cx="49.9" cy="105.0" r="0.42" fill="#a0a0a0"/>
<circle cx="31.1" cy="104.7" r="0.42" fill="#a0a0a0"/>
<circle cx="31.9" cy="106.8" r="0.42" fill="#a0a0a0"/>
<circle cx="32.7" cy="102.4" r="0.42" fill="#a0a0a0"/>
<circle cx="30.9" cy="102.3" r="0.42" fill="#a0a0a0"/>
<circle cx="49.6" cy="106.5" r="0.42" fill="#a0a0a0"/>
<circle cx="32.2" cy="93.8" r="0.42" fill="#a0a0a0"/>
<circle cx="43.8" cy="97.1" r="0.42" fill="#a0a0a0"/>
<circle cx="31.0" cy="104.1" r="0.42" fill="#a0a0a0"/>
<circle cx="27.1" cy="104.7" r="0.42" fill="#a0a0a0"/>
<circle cx="47.0" cy="100.7" r="0.42" fill="#a0a0a0"/>
<circle cx="29.9" cy="99.5" r="0.42" fill="#a0a0a0"/>
<circle cx="50.6" cy="101.6" r="0.42" fill="#a0a0a0"/>
<circle cx="48.4" cy="100.9" r="0.42" fill="#a0a0a0"/>
<circle cx="38.8" cy="101.6" r="0.42" fill="#a0a0a0"/>
<circle cx="38.8" cy="102.2" r="0.42" fill="#a0a0a0"/>
<circle cx="45.0" cy="106.7" r="0.42" fill="#a0a0a0"/>
<circle cx="36.4" cy="95.8" r="0.42" fill="#a0a0a0"/>
<circle cx="31.9" cy="95.9" r="0.42" fill="#a0a0a0"/>
<circle cx="31.0" cy="109.9" r="0.42" fill="#a0a0a0"/>
<circle cx="32.8" cy="93.4" r="0.42" fill="#a0a0a0"/>
<circle cx="41.1" cy="100.6" r="0.42" fill="#a0a0a0"/>
<circle cx="45.2" cy="101.4" r="0.42" fill="#a0a0a0"/>
<circle cx="53.9" cy="97.1" r="0.42" fill="#a0a0a0"/>
<circle cx="39.8" cy="98.4" r="0.42" fill="#a0a0a0"/>
<circle cx="33.5" cy="92.2" r="0.42" fill="#a0a0a0"/>
<circle cx="43.0" cy="92.2" r="0.42" fill="#a0a0a0"/>
<circle cx="40.9" cy="102.9" r="0.42" fill="#a0a0a0"/>
<circle cx="41.2" cy="92.6" r="0.42" fill="#a0a0a0"/>
<circle cx="44.7" cy="97.1" r="0.42" fill="#a0a0a0"/>
<circle cx="41.1" cy="98.7" r="0.42" fill="#a0a0a0"/>
<circle cx="54.5" cy="97.7" r="0.42" fill="#a0a0a0"/>
<circle cx="35.8" cy="102.1" r="0.42" fill="#a0a0a0"/>
<circle cx="25.1" cy="98.2" r="0.42" fill="#a0a0a0"/>
<circle cx="35.8" cy="101.9" r="0.42" fill="#a0a0a0"/>
<circle cx="34.7" cy="109.7" r="0.42" fill="#a0a0a0"/>
<circle cx="54.3" cy="106.8" r="0.42" fill="#a0a0a0"/>
<circle cx="37.5" cy="103.9" r="0.42" fill="#a0a0a0"/>
<circle cx="55.7" cy="109.6" r="0.42" fill="#a0a0a0"/>
<circle cx="43.6" cy="97.9" r="0.42" fill="#a0a0a0"/>
<circle cx="47.7" cy="104.6" r="0.42" fill="#a0a0a0"/>
<circle cx="38.5" cy="100.0" r="0.42" fill="#a0a0a0"/>
<circle cx="26.3" cy="93.2" r="0.42" fill="#a0a0a0"/>
<circle cx="26.8" cy="102.2" r="0.42" fill="#a0a0a0"/>
<circle cx="39.6" cy="97.0" r="0.42" fill="#a0a0a0"/>
<circle cx="35.7" cy="107.8" r="0.42" fill="#a0a0a0"/>
<circle cx="27.5" cy="98.5" r="0.42" fill="#a0a0a0"/>
<circle cx="27.4" cy="110.6" r="0.42" fill="#a0a0a0"/>
<circle cx="34.5" cy="107.8" r="0.42" fill="#a0a0a0"/>
<circle cx="44.3" cy="97.4" r="0.42" fill="#a0a0a0"/>
<circle cx="43.2" cy="101.7" r="0.42" fill="#a0a0a0"/>
<circle cx="41.9" cy="101.6" r="0.42" fill="#a0a0a0"/>
<circle cx="43.2" cy="103.6" r="0.42" fill="#a0a0a0"/>
<circle cx="31.2" cy="104.5" r="0.42" fill="#a0a0a0"/>
<circle cx="31.0" cy="94.0" r="0.42" fill="#a0a0a0"/>
<circle cx="34.4" cy="96.1" r="0.42" fill="#a0a0a0"/>
<circle cx="31.9" cy="95.1" r="0.42" fill="#a0a0a0"/>
<circle cx="44.9" cy="105.0" r="0.42" fill="#a0a0a0"/>
<circle cx="32.2" cy="107.3" r="0.42" fill="#a0a0a0"/>
<circle cx="36.9" cy="96.8" r="0.42" fill="#a0a0a0"/>
<circle cx="28.9" cy="102.7" r="0.42" fill="#a0a0a0"/>
<circle cx="36.8" cy="101.9" r="0.42" fill="#a0a0a0"/>
<circle cx="62.9" cy="105.3" r="0.42" fill="#a0a0a0"/>
<circle cx="36.9" cy="95.1" r="0.42" fill="#a0a0a0"/>
<circle cx="34.1" cy="97.1" r="0.42" fill="#a0a0a0"/>
<circle cx="32.4" cy="88.6" r="0.42" fill="#a0a0a0"/>
<circle cx="38.9" cy="95.0" r="0.42" fill="#a0a0a0"/>
<circle cx="56.6" cy="99.3" r="0.42" fill="#a0a0a0"/>
<circle cx="45.7" cy="102.3" r="0.42" fill="#a0a0a0"/>
<circle cx="31.0" cy="101.7" r="0.42" fill="#a0a0a0"/>
<circle cx="34.0" cy="98.6" r="0.42" fill="#a0a0a0"/>
<circle cx="37.2" cy="90.6" r="0.42" fill="#a0a0a0"/>
<circle cx="49.6" cy="103.4" r="0.42" fill="#a0a0a0"/>
<circle cx="36.3" cy="107.6" r="0.42" fill="#a0a0a0"/>
<circle cx="29.1" cy="87.7" r="0.42" fill="#a0a0a0"/>
<circle cx="39.8" cy="96.2" r="0.42" fill="#a0a0a0"/>
<circle cx="36.9" cy="97.7" r="0.42" fill="#a0a0a0"/>
<circle cx="35.5" cy="95.4" r="0.42" fill="#a0a0a0"/>
<circle cx="36.9" cy="104.2" r="0.42" fill="#a0a0a0"/>
<circle cx="40.6" cy="109.2" r="0.42" fill="#a0a0a0"/>
<circle cx="42.6" cy="102.6" r="0.42" fill="#a0a0a0"/>
<circle cx="39.3" cy="103.2" r="0.42" fill="#a0a0a0"/>
<circle cx="36.1" cy="93.9" r="0.42" fill="#a0a0a0"/>
<circle cx="28.2" cy="91.3" r="0.42" fill="#a0a0a0"/>
<circle cx="35.3" cy="100.9" r="0.42" fill="#a0a0a0"/>
<circle cx="41.3" cy="106.1" r="0.42" fill="#a0a0a0"/>
<circle cx="33.4" cy="89.6" r="0.42" fill="#a0a0a0"/>
<circle cx="31.4" cy="100.2" r="0.42" fill="#a0a0a0"/>
<circle cx="27.7" cy="110.5" r="0.42" fill="#a0a0a0"/>
<circle cx="46.7" cy="96.8" r="0.42" fill="#a0a0a0"/>
<circle cx="33.1" cy="100.8" r="0.42" fill="#a0a0a0"/>
<circle cx="39.4" cy="101.4" r="0.42" fill="#a0a0a0"/>
<circle cx="27.2" cy="95.4" r="0.42" fill="#a0a0a0"/>
<circle cx="49.0" cy="100.2" r="0.42" fill="#a0a0a0"/>
<circle cx="46.1" cy="100.3" r="0.42" fill="#a0a0a0"/>
<circle cx="39.5" cy="101.8" r="0.42" fill="#a0a0a0"/>
<circle cx="35.0" cy="106.5" r="0.42" fill="#a0a0a0"/>
<circle cx="44.6" cy="100.1" r="0.42" fill="#a0a0a0"/>
<circle cx="38.8" cy="108.5" r="0.42" fill="#a0a0a0"/>
<circle cx="29.2" cy="104.6" r="0.42" fill="#a0a0a0"/>
<circle cx="47.2" cy="108.5" r="0.42" fill="#a0a0a0"/>
<circle cx="50.0" cy="96.4" r="0.42" fill="#a0a0a0"/>
<circle cx="44.5" cy="98.7" r="0.42" fill="#a0a0a0"/>
<circle cx="44.6" cy="101.4" r="0.42" fill="#a0a0a0"/>
<circle cx="45.2" cy="97.1" r="0.42" fill="#a0a0a0"/>
<circle cx="39.0" cy="103.2" r="0.42" fill="#a0a0a0"/>
<circle cx="42.2" cy="105.1" r="0.42" fill="#a0a0a0"/>
<circle cx="53.3" cy="95.8" r="0.42" fill="#a0a0a0"/>
<circle cx="38.2" cy="92.1" r="0.42" fill="#a0a0a0"/>
<circle cx="42.9" cy="108.6" r="0.42" fill="#a0a0a0"/>
<circle cx="39.2" cy="106.5" r="0.42" fill="#a0a0a0"/>
<circle cx="55.1" cy="102.7" r="0.42" fill="#a0a0a0"/>
<circle cx="45.4" cy="105.3" r="0.42" fill="#a0a0a0"/>
<circle cx="31.1" cy="94.4" r="0.42" fill="#a0a0a0"/>
<circle cx="34.1" cy="96.1" r="0.42" fill="#a0a0a0"/>
<circle cx="42.8" cy="89.1" r="0.42" fill="#a0a0a0"/>
<circle cx="39.2" cy="99.1" r="0.42" fill="#a0a0a0"/>
<circle cx="35.7" cy="98.6" r="0.42" fill="#a0a0a0"/>
<circle cx="33.2" cy="96.4" r="0.42" fill="#a0a0a0"/>
<circle cx="39.1" cy="99.3" r="0.42" fill="#a0a0a0"/>
<circle cx="39.9" cy="100.0" r="0.42" fill="#a0a0a0"/>
<circle cx="38.1" cy="100.6" r="0.42" fill="#a0a0a0"/>
<circle cx="55.0" cy="110.9" r="0.42" fill="#a0a0a0"/>
<circle cx="47.2" cy="90.9" r="0.42" fill="#a0a0a0"/>
<circle cx="42.5" cy="107.5" r="0.42" fill="#a0a0a0"/>
<circle cx="41.3" cy="92.8" r="0.42" fill="#a0a0a0"/>
<circle cx="34.7" cy="113.7" r="0.42" fill="#a0a0a0"/>
<circle cx="35.7" cy="93.0" r="0.42" fill="#a0a0a0"/>
<circle cx="35.7" cy="105.4" r="0.42" fill="#a0a0a0"/>
<circle cx="38.0" cy="94.5" r="0.42" fill="#a0a0a0"/>
<circle cx="47.5" cy="102.3" r="0.42" fill="#a0a0a0"/>
<circle cx="37.2" cy="99.8" r="0.42" fill="#a0a0a0"/>
<circle cx="35.2" cy="96.6" r="0.42" fill="#a0a0a0"/>
<circle cx="29.1" cy="95.5" r="0.42" fill="#a0a0a0"/>
<circle cx="50.8" cy="109.6" r="0.42" fill="#a0a0a0"/>
<circle cx="37.7" cy="103.2" r="0.42" fill="#a0a0a0"/>
<circle cx="34.6" cy="101.1" r="0.42" fill="#a0a0a0"/>
<circle cx="49.1" cy="105.5" r="0.42" fill="#a0a0a0"/>
<circle cx="46.2" cy="104.1" r="0.42" fill="#a0a0a0"/>
<circle cx="44.5" cy="96.9" r="0.42" fill="#a0a0a0"/>
<circle cx="43.8" cy="91.8" r="0.42" fill="#a0a0a0"/>
<circle cx="39.2" cy="102.2" r="0.42" fill="#a0a0a0"/>
<circle cx="41.1" cy="90.7" r="0.42" fill="#a0a0a0"/>
<circle cx="45.6" cy="94.2" r="0.42" fill="#a0a0a0"/>
<circle cx="36.6" cy="92.0" r="0.42" fill="#a0a0a0"/>
<circle cx="39.9" cy="99.6" r="0.42" fill="#a0a0a0"/>
<circle cx="36.9" cy="93.9" r="0.42" fill="#a0a0a0"/>
<circle cx="44.0" cy="100.8" r="0.42" fill="#a0a0a0"/>
<circle cx="35.3" cy="94.5" r="0.42" fill="#a0a0a0"/>
<circle cx="31.0" cy="98.9" r="0.42" fill="#a0a0a0"/>
<circle cx="48.2" cy="99.7" r="0.42" fill="#a0a0a0"/>
<circle cx="37.1" cy="98.4" r="0.42" fill="#a0a0a0"/>
<circle cx="44.4" cy="105.4" r="0.42" fill="#a0a0a0"/>
<circle cx="69.5" cy="106.0" r="0.42" fill="#a0a0a0"/>
<circle cx="69.2" cy="108.4" r="0.42" fill="#a0a0a0"/>
<circle cx="60.8" cy="90.4" r="0.42" fill="#a0a0a0"/>
<circle cx="59.7" cy="88.2" r="0.42" fill="#a0a0a0"/>
<circle cx="71.5" cy="99.0" r="0.42" fill="#a0a0a0"/>
<circle cx="60.1" cy="88.6" r="0.42" fill="#a0a0a0"/>
<circle cx="71.5" cy="85.9" r="0.42" fill="#a0a0a0"/>
<circle cx="62.2" cy="100.5" r="0.42" fill="#a0a0a0"/>
<circle cx="72.0" cy="107.8" r="0.42" fill="#a0a0a0"/>
<circle cx="62.2" cy="84.5" r="0.42" fill="#a0a0a0"/>
<circle cx="58.9" cy="99.8" r="0.42" fill="#a0a0a0"/>
<circle cx="66.2" cy="106.9" r="0.42" fill="#a0a0a0"/>
<circle cx="69.7" cy="105.9" r="0.42" fill="#a0a0a0"/>
<circle cx="59.4" cy="86.2" r="0.42" fill="#a0a0a0"/>
<circle cx="65.1" cy="100.0" r="0.42" fill="#a0a0a0"/>
<circle cx="60.8" cy="107.9" r="0.42" fill="#a0a0a0"/>
<circle cx="55.9" cy="95.1" r="0.42" fill="#a0a0a0"/>
<circle cx="60.0" cy="99.8" r="0.42" fill="#a0a0a0"/>
<circle cx="67.8" cy="93.0" r="0.42" fill="#a0a0a0"/>
<circle cx="66.9" cy="107.6" r="0.42" fill="#a0a0a0"/>
<circle cx="61.0" cy="89.0" r="0.42" fill="#a0a0a0"/>
<circle cx="59.5" cy="92.5" r="0.42" fill="#a0a0a0"/>
<circle cx="59.4" cy="79.5" r="0.42" fill="#a0a0a0"/>
<circle cx="68.6" cy="84.6" r="0.42" fill="#a0a0a0"/>
<circle cx="51.9" cy="100.1" r="0.42" fill="#a0a0a0"/>
<circle cx="57.7" cy="100.1" r="0.42" fill="#a0a0a0"/>
<circle cx="70.7" cy="86.0" r="0.42" fill="#a0a0a0"/>
<circle cx="58.0" cy="105.4" r="0.42" fill="#a0a0a0"/>
<circle cx="55.1" cy="84.2" r="0.42" fill="#a0a0a0"/>
<circle cx="60.1" cy="88.2" r="0.42" fill="#a0a0a0"/>
<circle cx="71.6" cy="94.2" r="0.42" fill="#a0a0a0"/>
<circle cx="54.6" cy="108.6" r="0.42" fill="#a0a0a0"/>
<circle cx="68.2" cy="94.1" r="0.42" fill="#a0a0a0"/>
<circle cx="74.8" cy="103.8" r="0.42" fill="#a0a0a0"/>
<circle cx="69.0" cy="90.0" r="0.42" fill="#a0a0a0"/>
<circle cx="64.8" cy="109.7" r="0.42" fill="#a0a0a0"/>
<circle cx="68.5" cy="93.7" r="0.42" fill="#a0a0a0"/>
<circle cx="57.3" cy="100.3" r="0.42" fill="#a0a0a0"/>
<circle cx="66.0" cy="105.2" r="0.42" fill="#a0a0a0"/>
<circle cx="68.9" cy="104.0" r="0.42" fill="#a0a0a0"/>
<circle cx="65.3" cy="99.7" r="0.42" fill="#a0a0a0"/>
<circle cx="62.6" cy="99.3" r="0.42" fill="#a0a0a0"/>
<circle cx="67.3" cy="99.5" r="0.42" fill="#a0a0a0"/>
<circle cx="60.8" cy="99.9" r="0.42" fill="#a0a0a0"/>
<circle cx="64.2" cy="86.8" r="0.42" fill="#a0a0a0"/>
<circle cx="65.2" cy="101.8" r="0.42" fill="#a0a0a0"/>
<circle cx="62.4" cy="110.2" r="0.42" fill="#a0a0a0"/>
<circle cx="66.8" cy="105.6" r="0.42" fill="#a0a0a0"/>
<circle cx="68.6" cy="80.1" r="0.42" fill="#a0a0a0"/>
<circle cx="54.7" cy="100.1" r="0.42" fill="#a0a0a0"/>
<circle cx="62.5" cy="91.0" r="0.42" fill="#a0a0a0"/>
<circle cx="67.8" cy="99.0" r="0.42" fill="#a0a0a0"/>
<circle cx="66.4" cy="87.3" r="0.42" fill="#a0a0a0"/>
<circle cx="72.5" cy="75.9" r="0.42" fill="#a0a0a0"/>
<circle cx="70.4" cy="91.1" r="0.42" fill="#a0a0a0"/>
<circle cx="69.4" cy="96.3" r="0.42" fill="#a0a0a0"/>
<circle cx="66.5" cy="108.8" r="0.42" fill="#a0a0a0"/>
<circle cx="61.3" cy="76.6" r="0.42" fill="#a0a0a0"/>
<circle cx="61.1" cy="74.1" r="0.42" fill="#a0a0a0"/>
<circle cx="61.0" cy="88.2" r="0.42" fill="#a0a0a0"/>
<circle cx="67.3" cy="89.8" r="0.42" fill="#a0a0a0"/>
<circle cx="66.6" cy="81.7" r="0.42" fill="#a0a0a0"/>
<circle cx="66.3" cy="93.6" r="0.42" fill="#a0a0a0"/>
<circle cx="70.1" cy="116.4" r="0.42" fill="#a0a0a0"/>
<circle cx="68.8" cy="103.7" r="0.42" fill="#a0a0a0"/>
<circle cx="59.9" cy="89.8" r="0.42" fill="#a0a0a0"/>
<circle cx="75.0" cy="80.6" r="0.42" fill="#a0a0a0"/>
<circle cx="63.4" cy="100.1" r="0.42" fill="#a0a0a0"/>
<circle cx="70.2" cy="90.9" r="0.42" fill="#a0a0a0"/>
<circle cx="65.0" cy="100.9" r="0.42" fill="#a0a0a0"/>
<circle cx="72.3" cy="96.7" r="0.42" fill="#a0a0a0"/>
<circle cx="63.6" cy="107.3" r="0.42" fill="#a0a0a0"/>
<circle cx="70.6" cy="91.3" r="0.42" fill="#a0a0a0"/>
<circle cx="67.0" cy="95.0" r="0.42" fill="#a0a0a0"/>
<circle cx="65.5" cy="80.9" r="0.42" fill="#a0a0a0"/>
<circle cx="66.3" cy="95.4" r="0.42" fill="#a0a0a0"/>
<circle cx="58.0" cy="95.5" r="0.42" fill="#a0a0a0"/>
<circle cx="59.9" cy="90.1" r="0.42" fill="#a0a0a0"/>
<circle cx="63.3" cy="115.2" r="0.42" fill="#a0a0a0"/>
<circle cx="71.2" cy="86.3" r="0.42" fill="#a0a0a0"/>
<circle cx="71.8" cy="93.1" r="0.42" fill="#a0a0a0"/>
<circle cx="72.4" cy="102.6" r="0.42" fill="#a0a0a0"/>
<circle cx="72.2" cy="105.2" r="0.42" fill="#a0a0a0"/>
<circle cx="62.8" cy="91.1" r="0.42" fill="#a0a0a0"/>
<circle cx="66.2" cy="98.8" r="0.42" fill="#a0a0a0"/>
<circle cx="71.7" cy="118.3" r="0.42" fill="#a0a0a0"/>
<circle cx="66.6" cy="114.5" r="0.42" fill="#a0a0a0"/>
<circle cx="68.3" cy="102.1" r="0.42" fill="#a0a0a0"/>
<circle cx="59.9" cy="97.5" r="0.42" fill="#a0a0a0"/>
<circle cx="69.0" cy="94.5" r="0.42" fill="#a0a0a0"/>
<circle cx="61.3" cy="96.6" r="0.42" fill="#a0a0a0"/>
<circle cx="71.5" cy="104.7" r="0.42" fill="#a0a0a0"/>
<circle cx="61.6" cy="104.8" r="0.42" fill="#a0a0a0"/>
<circle cx="64.2" cy="92.4" r="0.42" fill="#a0a0a0"/>
<circle cx="72.9" cy="100.6" r="0.42" fill="#a0a0a0"/>
<circle cx="66.1" cy="95.9" r="0.42" fill="#a0a0a0"/>
<circle cx="48.0" cy="104.6" r="0.42" fill="#a0a0a0"/>
<circle cx="73.3" cy="72.5" r="0.42" fill="#a0a0a0"/>
<circle cx="50.6" cy="91.6" r="0.42" fill="#a0a0a0"/>
<circle cx="70.8" cy="99.5" r="0.42" fill="#a0a0a0"/>
<circle cx="68.2" cy="88.7" r="0.42" fill="#a0a0a0"/>
<circle cx="59.4" cy="99.6" r="0.42" fill="#a0a0a0"/>
<circle cx="57.7" cy="107.3" r="0.42" fill="#a0a0a0"/>
<circle cx="68.9" cy="94.9" r="0.42" fill="#a0a0a0"/>
<circle cx="60.6" cy="110.6" r="0.42" fill="#a0a0a0"/>
<circle cx="64.6" cy="79.5" r="0.42" fill="#a0a0a0"/>
<circle cx="59.9" cy="77.8" r="0.42" fill="#a0a0a0"/>
<circle cx="69.4" cy="85.4" r="0.42" fill="#a0a0a0"/>
<circle cx="64.5" cy="99.7" r="0.42" fill="#a0a0a0"/>
<circle cx="71.9" cy="82.3" r="0.42" fill="#a0a0a0"/>
<circle cx="68.4" cy="91.6" r="0.42" fill="#a0a0a0"/>
<circle cx="64.1" cy="75.3" r="0.42" fill="#a0a0a0"/>
<circle cx="65.3" cy="97.9" r="0.42" fill="#a0a0a0"/>
<circle cx="66.8" cy="101.6" r="0.42" fill="#a0a0a0"/>
<circle cx="60.7" cy="80.9" r="0.42" fill="#a0a0a0"/>
<circle cx="68.5" cy="83.5" r="0.42" fill="#a0a0a0"/>
<circle cx="79.6" cy="92.7" r="0.42" fill="#a0a0a0"/>
<circle cx="53.5" cy="103.5" r="0.42" fill="#a0a0a0"/>
<circle cx="64.2" cy="89.4" r="0.42" fill="#a0a0a0"/>
<circle cx="62.1" cy="93.2" r="0.42" fill="#a0a0a0"/>
<circle cx="56.9" cy="105.7" r="0.42" fill="#a0a0a0"/>
<circle cx="71.8" cy="96.7" r="0.42" fill="#a0a0a0"/>
<circle cx="60.9" cy="98.9" r="0.42" fill="#a0a0a0"/>
<circle cx="71.2" cy="100.3" r="0.42" fill="#a0a0a0"/>
<circle cx="63.8" cy="99.5" r="0.42" fill="#a0a0a0"/>
<circle cx="58.2" cy="103.9" r="0.42" fill="#a0a0a0"/>
<circle cx="73.5" cy="103.6" r="0.42" fill="#a0a0a0"/>
<circle cx="70.4" cy="101.1" r="0.42" fill="#a0a0a0"/>
<circle cx="57.7" cy="109.2" r="0.42" fill="#a0a0a0"/>
<circle cx="72.0" cy="86.8" r="0.42" fill="#a0a0a0"/>
<circle cx="63.7" cy="103.7" r="0.42" fill="#a0a0a0"/>
<circle cx="68.0" cy="86.4" r="0.42" fill="#a0a0a0"/>
<circle cx="59.2" cy="85.2" r="0.42" fill="#a0a0a0"/>
<circle cx="66.9" cy="104.3" r="0.42" fill="#a0a0a0"/>
<circle cx="69.7" cy="93.7" r="0.42" fill="#a0a0a0"/>
<circle cx="66.8" cy="91.7" r="0.42" fill="#a0a0a0"/>
<circle cx="71.5" cy="96.9" r="0.42" fill="#a0a0a0"/>
<circle cx="63.5" cy="107.9" r="0.42" fill="#a0a0a0"/>
<circle cx="65.2" cy="93.5" r="0.42" fill="#a0a0a0"/>
<circle cx="59.7" cy="96.0" r="0.42" fill="#a0a0a0"/>
<path d="M 49.75,100.42 L 49.53,101.25 L 48.99,102.05 L 48.22,102.79 L 47.32,103.47 L 46.36,104.10 L 45.36,104.69 L 44.33,105.27 L 43.22,105.82 L 41.99,106.32 L 40.62,106.74 L 39.14,107.03 L 37.61,107.16 L 36.09,107.14 L 34.65,106.97 L 33.32,106.71 L 32.10,106.38 L 30.96,106.02 L 29.83,105.65 L 28.71,105.26 L 27.60,104.81 L 26.55,104.29 L 25.66,103.68 L 25.02,102.96 L 24.71,102.17 L 24.76,101.35 L 25.15,100.54 L 25.82,99.76 L 26.70,99.05 L 27.70,98.40 L 28.78,97.80 L 29.93,97.26 L 31.15,96.76 L 32.46,96.33 L 33.86,95.99 L 35.32,95.76 L 36.81,95.65 L 38.27,95.67 L 39.67,95.80 L 41.00,96.00 L 42.27,96.25 L 43.51,96.53 L 44.75,96.84 L 45.98,97.21 L 47.17,97.65 L 48.23,98.20 L 49.07,98.86 L 49.60,99.61 Z" stroke="#b0b0b0" stroke-width="0.7" fill="#e0e0e0" />
<path d="M 46.64,100.64 L 46.34,101.26 L 45.99,101.86 L 45.62,102.44 L 45.22,103.02 L 44.75,103.61 L 44.13,104.18 L 43.34,104.72 L 42.37,105.18 L 41.24,105.53 L 40.01,105.76 L 38.75,105.87 L 37.52,105.87 L 36.35,105.79 L 35.24,105.67 L 34.18,105.51 L 33.16,105.32 L 32.18,105.09 L 31.24,104.82 L 30.38,104.48 L 29.61,104.08 L 28.97,103.61 L 28.45,103.10 L 28.06,102.55 L 27.77,101.96 L 27.60,101.34 L 27.57,100.69 L 27.72,100.02 L 28.09,99.35 L 28.72,98.71 L 29.62,98.15 L 30.75,97.71 L 32.02,97.41 L 33.35,97.27 L 34.64,97.24 L 35.84,97.29 L 36.92,97.35 L 37.94,97.39 L 38.96,97.38 L 40.05,97.33 L 41.23,97.29 L 42.49,97.30 L 43.75,97.43 L 44.90,97.71 L 45.83,98.14 L 46.47,98.69 L 46.79,99.33 L 46.82,99.99 Z" stroke="#bdbdbd" stroke-width="0.5" fill="#d4d4d4" />
<path d="M 43.66,100.85 L 43.79,101.27 L 43.76,101.72 L 43.58,102.16 L 43.24,102.59 L 42.76,103.00 L 42.16,103.36 L 41.46,103.67 L 40.70,103.93 L 39.90,104.13 L 39.07,104.27 L 38.24,104.36 L 37.42,104.41 L 36.61,104.42 L 35.81,104.38 L 35.04,104.32 L 34.28,104.21 L 33.56,104.05 L 32.90,103.84 L 32.31,103.58 L 31.82,103.27 L 31.45,102.92 L 31.22,102.53 L 31.10,102.13 L 31.09,101.73 L 31.17,101.32 L 31.29,100.93 L 31.47,100.53 L 31.70,100.12 L 31.99,99.71 L 32.37,99.29 L 32.88,98.89 L 33.51,98.53 L 34.27,98.23 L 35.13,98.01 L 36.05,97.90 L 36.96,97.89 L 37.83,97.97 L 38.63,98.13 L 39.33,98.33 L 39.95,98.56 L 40.51,98.80 L 41.04,99.03 L 41.56,99.27 L 42.07,99.52 L 42.56,99.79 L 43.01,100.10 L 43.39,100.46 Z" stroke="#c4c4c4" stroke-width="0.5" fill="#dcdcdc" />
<path d="M 40.13,101.10 L 40.10,101.29 L 40.00,101.48 L 39.84,101.66 L 39.64,101.82 L 39.43,101.98 L 39.20,102.13 L 38.97,102.28 L 38.72,102.44 L 38.43,102.59 L 38.10,102.73 L 37.72,102.84 L 37.31,102.90 L 36.89,102.91 L 36.50,102.87 L 36.14,102.78 L 35.84,102.65 L 35.60,102.51 L 35.39,102.37 L 35.20,102.23 L 35.01,102.10 L 34.81,101.97 L 34.60,101.84 L 34.41,101.68 L 34.27,101.50 L 34.21,101.31 L 34.23,101.11 L 34.34,100.91 L 34.53,100.73 L 34.78,100.56 L 35.06,100.41 L 35.36,100.28 L 35.68,100.16 L 36.01,100.05 L 36.35,99.96 L 36.72,99.88 L 37.10,99.83 L 37.48,99.81 L 37.86,99.82 L 38.22,99.87 L 38.56,99.95 L 38.86,100.05 L 39.13,100.16 L 39.38,100.28 L 39.61,100.42 L 39.81,100.57 L 39.98,100.73 L 40.09,100.91 Z" stroke="none" stroke-width="0" fill="#f4f4f4" />
<path d="M 63.5 93 L 71.6 93 L 71.2 104 L 63.5 104 Z" stroke="#a0a0a0" stroke-width="0.6" fill="#c6c6c6" />
<path d="M 72.08,89.34 L 71.78,90.37 L 71.42,91.37 L 71.02,92.33 L 70.56,93.27 L 70.03,94.18 L 69.40,95.02 L 68.67,95.74 L 67.85,96.32 L 66.96,96.73 L 66.04,96.95 L 65.12,97.02 L 64.20,96.94 L 63.30,96.76 L 62.42,96.47 L 61.56,96.07 L 60.73,95.54 L 59.98,94.87 L 59.33,94.03 L 58.83,93.06 L 58.50,91.97 L 58.36,90.82 L 58.40,89.66 L 58.57,88.54 L 58.83,87.48 L 59.14,86.46 L 59.48,85.49 L 59.85,84.52 L 60.27,83.56 L 60.77,82.62 L 61.38,81.74 L 62.09,80.97 L 62.91,80.36 L 63.81,79.93 L 64.75,79.71 L 65.69,79.68 L 66.61,79.80 L 67.50,80.04 L 68.37,80.38 L 69.20,80.82 L 70.00,81.37 L 70.73,82.04 L 71.38,82.85 L 71.90,83.80 L 72.25,84.86 L 72.43,85.98 L 72.45,87.13 L 72.32,88.26 Z" stroke="#888888" stroke-width="0.8" fill="#cdcdcd" />
<path d="M 70.41,89.10 L 70.22,89.89 L 69.96,90.65 L 69.64,91.36 L 69.26,92.04 L 68.82,92.67 L 68.33,93.25 L 67.79,93.77 L 67.20,94.22 L 66.56,94.58 L 65.88,94.84 L 65.18,94.98 L 64.47,94.99 L 63.78,94.86 L 63.11,94.58 L 62.50,94.18 L 61.96,93.66 L 61.50,93.05 L 61.13,92.37 L 60.84,91.63 L 60.63,90.87 L 60.49,90.09 L 60.42,89.30 L 60.42,88.50 L 60.49,87.71 L 60.61,86.92 L 60.81,86.14 L 61.09,85.39 L 61.44,84.66 L 61.87,84.00 L 62.38,83.40 L 62.95,82.88 L 63.57,82.47 L 64.23,82.17 L 64.92,81.99 L 65.61,81.92 L 66.30,81.97 L 66.98,82.13 L 67.62,82.40 L 68.22,82.77 L 68.78,83.23 L 69.27,83.78 L 69.70,84.41 L 70.04,85.11 L 70.30,85.87 L 70.46,86.66 L 70.54,87.47 L 70.52,88.29 Z" stroke="#6a6a6a" stroke-width="0.8" fill="#b6b6b6" />
<path d="M 68.77,88.87 L 68.67,89.41 L 68.51,89.93 L 68.28,90.42 L 68.00,90.85 L 67.67,91.24 L 67.31,91.57 L 66.93,91.84 L 66.53,92.06 L 66.12,92.23 L 65.70,92.37 L 65.27,92.46 L 64.83,92.49 L 64.38,92.46 L 63.94,92.34 L 63.52,92.14 L 63.15,91.85 L 62.83,91.47 L 62.57,91.03 L 62.38,90.54 L 62.25,90.03 L 62.18,89.51 L 62.15,88.99 L 62.16,88.47 L 62.20,87.95 L 62.27,87.43 L 62.38,86.91 L 62.55,86.41 L 62.78,85.92 L 63.06,85.48 L 63.41,85.10 L 63.79,84.79 L 64.21,84.55 L 64.65,84.40 L 65.09,84.31 L 65.53,84.30 L 65.97,84.34 L 66.39,84.45 L 66.80,84.61 L 67.19,84.84 L 67.54,85.12 L 67.87,85.46 L 68.15,85.85 L 68.39,86.28 L 68.57,86.76 L 68.71,87.26 L 68.79,87.79 L 68.81,88.33 Z" stroke="#8a8a8a" stroke-width="0.6" fill="#d4d4d4" />
<path d="M 66.79,88.60 L 66.75,88.82 L 66.67,89.03 L 66.58,89.22 L 66.47,89.41 L 66.35,89.58 L 66.21,89.75 L 66.06,89.89 L 65.90,90.01 L 65.72,90.09 L 65.53,90.14 L 65.34,90.14 L 65.16,90.11 L 64.99,90.04 L 64.83,89.95 L 64.68,89.84 L 64.54,89.72 L 64.40,89.59 L 64.27,89.45 L 64.15,89.29 L 64.04,89.10 L 63.96,88.89 L 63.92,88.67 L 63.92,88.43 L 63.96,88.20 L 64.04,87.98 L 64.14,87.78 L 64.25,87.60 L 64.38,87.43 L 64.50,87.28 L 64.63,87.13 L 64.77,86.98 L 64.92,86.85 L 65.09,86.73 L 65.27,86.65 L 65.46,86.61 L 65.65,86.62 L 65.83,86.67 L 66.00,86.77 L 66.16,86.89 L 66.29,87.04 L 66.41,87.19 L 66.52,87.36 L 66.62,87.54 L 66.70,87.73 L 66.76,87.93 L 66.80,88.15 L 66.81,88.37 Z" stroke="none" stroke-width="0" fill="#ffffff" />
<path d="M 68.56,103.54 L 68.59,104.07 L 68.51,104.61 L 68.34,105.16 L 68.08,105.70 L 67.73,106.24 L 67.29,106.76 L 66.77,107.27 L 66.16,107.76 L 65.48,108.21 L 64.73,108.61 L 63.91,108.96 L 63.06,109.24 L 62.17,109.45 L 61.28,109.58 L 60.41,109.63 L 59.58,109.59 L 58.80,109.47 L 58.09,109.28 L 57.46,109.02 L 56.91,108.70 L 56.46,108.33 L 56.08,107.93 L 55.79,107.49 L 55.57,107.02 L 55.45,106.52 L 55.42,106.00 L 55.51,105.45 L 55.71,104.89 L 56.04,104.33 L 56.50,103.78 L 57.08,103.26 L 57.75,102.79 L 58.50,102.38 L 59.30,102.02 L 60.13,101.73 L 60.98,101.49 L 61.83,101.31 L 62.69,101.18 L 63.54,101.11 L 64.37,101.10 L 65.19,101.15 L 65.95,101.28 L 66.65,101.49 L 67.26,101.78 L 67.77,102.14 L 68.16,102.56 L 68.42,103.04 Z" stroke="#686868" stroke-width="1.0" fill="#bfbfbf" />
<path d="M 66.10,104.20 L 66.15,104.53 L 66.16,104.86 L 66.11,105.21 L 66.00,105.56 L 65.81,105.92 L 65.54,106.28 L 65.19,106.62 L 64.76,106.93 L 64.28,107.20 L 63.75,107.42 L 63.21,107.61 L 62.65,107.74 L 62.11,107.85 L 61.56,107.91 L 61.03,107.95 L 60.50,107.95 L 59.99,107.91 L 59.51,107.83 L 59.07,107.70 L 58.68,107.52 L 58.35,107.30 L 58.10,107.03 L 57.91,106.74 L 57.79,106.43 L 57.74,106.10 L 57.75,105.75 L 57.83,105.40 L 57.98,105.04 L 58.21,104.68 L 58.51,104.34 L 58.88,104.01 L 59.31,103.71 L 59.78,103.45 L 60.29,103.22 L 60.81,103.03 L 61.35,102.87 L 61.89,102.74 L 62.44,102.64 L 62.99,102.59 L 63.54,102.58 L 64.06,102.62 L 64.54,102.72 L 64.97,102.87 L 65.33,103.07 L 65.62,103.32 L 65.84,103.59 L 66.00,103.89 Z" stroke="#8a8a8a" stroke-width="0.6" fill="#d6d6d6" />
<path d="M 63.99,104.77 L 64.04,104.92 L 64.05,105.08 L 64.03,105.25 L 63.95,105.43 L 63.83,105.60 L 63.67,105.76 L 63.48,105.91 L 63.26,106.04 L 63.02,106.15 L 62.78,106.25 L 62.54,106.33 L 62.29,106.39 L 62.05,106.45 L 61.80,106.50 L 61.55,106.53 L 61.30,106.54 L 61.05,106.54 L 60.81,106.51 L 60.60,106.45 L 60.40,106.37 L 60.25,106.26 L 60.12,106.13 L 60.04,105.99 L 59.99,105.84 L 59.97,105.68 L 59.99,105.51 L 60.04,105.34 L 60.12,105.18 L 60.24,105.01 L 60.39,104.85 L 60.56,104.70 L 60.76,104.57 L 60.97,104.44 L 61.20,104.33 L 61.44,104.24 L 61.69,104.16 L 61.95,104.10 L 62.21,104.06 L 62.46,104.04 L 62.71,104.04 L 62.94,104.07 L 63.16,104.12 L 63.36,104.19 L 63.53,104.28 L 63.68,104.38 L 63.81,104.50 L 63.91,104.63 Z" stroke="none" stroke-width="0" fill="#ffffff" />
<circle cx="124.8" cy="103.6" r="0.45" fill="#a8a8a8"/>
<circle cx="137.3" cy="83.6" r="0.45" fill="#a8a8a8"/>
<circle cx="111.8" cy="109.6" r="0.45" fill="#a8a8a8"/>
<circle cx="138.9" cy="101.5" r="0.45" fill="#a8a8a8"/>
<circle cx="130.3" cy="103.8" r="0.45" fill="#a8a8a8"/>
<circle cx="103.4" cy="95.2" r="0.45" fill="#a8a8a8"/>
<circle cx="98.8" cy="104.8" r="0.45" fill="#a8a8a8"/>
<circle cx="115.9" cy="93.8" r="0.45" fill="#a8a8a8"/>
<circle cx="101.3" cy="94.5" r="0.45" fill="#a8a8a8"/>
<circle cx="102.8" cy="90.2" r="0.45" fill="#a8a8a8"/>
<circle cx="134.4" cy="84.4" r="0.45" fill="#a8a8a8"/>
<circle cx="139.3" cy="80.0" r="0.45" fill="#a8a8a8"/>
<circle cx="120.0" cy="94.3" r="0.45" fill="#a8a8a8"/>
<circle cx="132.7" cy="96.6" r="0.45" fill="#a8a8a8"/>
<circle cx="117.2" cy="92.2" r="0.45" fill="#a8a8a8"/>
<circle cx="138.9" cy="104.3" r="0.45" fill="#a8a8a8"/>
<circle cx="117.6" cy="97.9" r="0.45" fill="#a8a8a8"/>
<circle cx="146.7" cy="97.5" r="0.45" fill="#a8a8a8"/>
<circle cx="122.0" cy="98.2" r="0.45" fill="#a8a8a8"/>
<circle cx="108.4" cy="94.7" r="0.45" fill="#a8a8a8"/>
<circle cx="119.2" cy="108.1" r="0.45" fill="#a8a8a8"/>
<circle cx="100.7" cy="99.4" r="0.45" fill="#a8a8a8"/>
<circle cx="105.6" cy="105.1" r="0.45" fill="#a8a8a8"/>
<circle cx="116.4" cy="102.8" r="0.45" fill="#a8a8a8"/>
<circle cx="97.4" cy="95.9" r="0.45" fill="#a8a8a8"/>
<circle cx="107.6" cy="89.0" r="0.45" fill="#a8a8a8"/>
<circle cx="144.1" cy="91.3" r="0.45" fill="#a8a8a8"/>
<circle cx="96.6" cy="102.1" r="0.45" fill="#a8a8a8"/>
<circle cx="115.0" cy="108.7" r="0.45" fill="#a8a8a8"/>
<circle cx="108.9" cy="98.6" r="0.45" fill="#a8a8a8"/>
<circle cx="125.0" cy="102.5" r="0.45" fill="#a8a8a8"/>
<circle cx="127.5" cy="105.1" r="0.45" fill="#a8a8a8"/>
<circle cx="139.8" cy="86.3" r="0.45" fill="#a8a8a8"/>
<circle cx="112.5" cy="87.9" r="0.45" fill="#a8a8a8"/>
<circle cx="138.4" cy="105.1" r="0.45" fill="#a8a8a8"/>
<circle cx="130.4" cy="102.4" r="0.45" fill="#a8a8a8"/>
<circle cx="143.4" cy="94.3" r="0.45" fill="#a8a8a8"/>
<circle cx="145.3" cy="100.6" r="0.45" fill="#a8a8a8"/>
<circle cx="116.6" cy="92.4" r="0.45" fill="#a8a8a8"/>
<circle cx="141.8" cy="100.0" r="0.45" fill="#a8a8a8"/>
<circle cx="117.0" cy="90.2" r="0.45" fill="#a8a8a8"/>
<circle cx="129.2" cy="102.3" r="0.45" fill="#a8a8a8"/>
<circle cx="102.1" cy="98.8" r="0.45" fill="#a8a8a8"/>
<circle cx="139.5" cy="93.4" r="0.45" fill="#a8a8a8"/>
<circle cx="110.0" cy="93.9" r="0.45" fill="#a8a8a8"/>
<circle cx="115.0" cy="104.7" r="0.45" fill="#a8a8a8"/>
<circle cx="114.3" cy="105.1" r="0.45" fill="#a8a8a8"/>
<circle cx="143.4" cy="103.7" r="0.45" fill="#a8a8a8"/>
<circle cx="95.9" cy="97.0" r="0.45" fill="#a8a8a8"/>
<circle cx="137.4" cy="91.3" r="0.45" fill="#a8a8a8"/>
<circle cx="109.5" cy="90.8" r="0.45" fill="#a8a8a8"/>
<circle cx="117.4" cy="88.9" r="0.45" fill="#a8a8a8"/>
<circle cx="107.1" cy="94.9" r="0.45" fill="#a8a8a8"/>
<circle cx="104.6" cy="96.1" r="0.45" fill="#a8a8a8"/>
<circle cx="133.4" cy="110.9" r="0.45" fill="#a8a8a8"/>
<circle cx="110.2" cy="95.9" r="0.45" fill="#a8a8a8"/>
<circle cx="108.8" cy="99.0" r="0.45" fill="#a8a8a8"/>
<circle cx="143.5" cy="93.4" r="0.45" fill="#a8a8a8"/>
<circle cx="137.8" cy="103.9" r="0.45" fill="#a8a8a8"/>
<circle cx="138.3" cy="91.7" r="0.45" fill="#a8a8a8"/>
<circle cx="141.6" cy="90.6" r="0.45" fill="#a8a8a8"/>
<circle cx="126.5" cy="92.1" r="0.45" fill="#a8a8a8"/>
<circle cx="108.7" cy="99.2" r="0.45" fill="#a8a8a8"/>
<circle cx="146.2" cy="89.1" r="0.45" fill="#a8a8a8"/>
<circle cx="102.2" cy="103.0" r="0.45" fill="#a8a8a8"/>
<circle cx="145.0" cy="94.1" r="0.45" fill="#a8a8a8"/>
<circle cx="134.2" cy="88.3" r="0.45" fill="#a8a8a8"/>
<circle cx="120.4" cy="92.8" r="0.45" fill="#a8a8a8"/>
<circle cx="119.0" cy="93.6" r="0.45" fill="#a8a8a8"/>
<circle cx="107.3" cy="87.9" r="0.45" fill="#a8a8a8"/>
<circle cx="117.3" cy="106.7" r="0.45" fill="#a8a8a8"/>
<circle cx="104.6" cy="105.9" r="0.45" fill="#a8a8a8"/>
<circle cx="106.0" cy="90.2" r="0.45" fill="#a8a8a8"/>
<circle cx="100.7" cy="104.7" r="0.45" fill="#a8a8a8"/>
<circle cx="128.9" cy="95.5" r="0.45" fill="#a8a8a8"/>
<circle cx="128.3" cy="103.4" r="0.45" fill="#a8a8a8"/>
<circle cx="146.0" cy="97.7" r="0.45" fill="#a8a8a8"/>
<circle cx="135.3" cy="96.2" r="0.45" fill="#a8a8a8"/>
<circle cx="135.2" cy="93.2" r="0.45" fill="#a8a8a8"/>
<circle cx="121.0" cy="98.1" r="0.45" fill="#a8a8a8"/>
<circle cx="140.5" cy="88.9" r="0.45" fill="#a8a8a8"/>
<circle cx="121.7" cy="93.8" r="0.45" fill="#a8a8a8"/>
<circle cx="133.5" cy="107.4" r="0.45" fill="#a8a8a8"/>
<circle cx="101.4" cy="104.7" r="0.45" fill="#a8a8a8"/>
<circle cx="143.2" cy="94.5" r="0.45" fill="#a8a8a8"/>
<circle cx="129.3" cy="90.3" r="0.45" fill="#a8a8a8"/>
<circle cx="133.0" cy="104.1" r="0.45" fill="#a8a8a8"/>
<circle cx="116.1" cy="92.9" r="0.45" fill="#a8a8a8"/>
<circle cx="134.6" cy="98.9" r="0.45" fill="#a8a8a8"/>
<circle cx="117.5" cy="87.0" r="0.45" fill="#a8a8a8"/>
<circle cx="119.0" cy="101.9" r="0.45" fill="#a8a8a8"/>
<circle cx="102.2" cy="99.1" r="0.45" fill="#a8a8a8"/>
<circle cx="110.4" cy="94.3" r="0.45" fill="#a8a8a8"/>
<circle cx="100.7" cy="106.7" r="0.45" fill="#a8a8a8"/>
<circle cx="135.1" cy="84.7" r="0.45" fill="#a8a8a8"/>
<circle cx="129.6" cy="101.2" r="0.45" fill="#a8a8a8"/>
<circle cx="131.5" cy="92.8" r="0.45" fill="#a8a8a8"/>
<circle cx="114.1" cy="91.8" r="0.45" fill="#a8a8a8"/>
<circle cx="126.7" cy="95.9" r="0.45" fill="#a8a8a8"/>
<circle cx="105.2" cy="93.6" r="0.45" fill="#a8a8a8"/>
<circle cx="107.3" cy="90.6" r="0.45" fill="#a8a8a8"/>
<circle cx="117.9" cy="91.6" r="0.45" fill="#a8a8a8"/>
<circle cx="115.6" cy="103.6" r="0.45" fill="#a8a8a8"/>
<circle cx="119.8" cy="98.1" r="0.45" fill="#a8a8a8"/>
<circle cx="136.1" cy="80.9" r="0.45" fill="#a8a8a8"/>
<circle cx="137.7" cy="81.9" r="0.45" fill="#a8a8a8"/>
<circle cx="110.3" cy="109.6" r="0.45" fill="#a8a8a8"/>
<circle cx="105.2" cy="95.1" r="0.45" fill="#a8a8a8"/>
<circle cx="135.5" cy="102.9" r="0.45" fill="#a8a8a8"/>
<circle cx="132.3" cy="96.7" r="0.45" fill="#a8a8a8"/>
<circle cx="124.2" cy="92.0" r="0.45" fill="#a8a8a8"/>
<circle cx="140.5" cy="107.3" r="0.45" fill="#a8a8a8"/>
<circle cx="109.5" cy="98.5" r="0.45" fill="#a8a8a8"/>
<circle cx="141.2" cy="97.6" r="0.45" fill="#a8a8a8"/>
<circle cx="137.1" cy="102.0" r="0.45" fill="#a8a8a8"/>
<circle cx="140.4" cy="91.9" r="0.45" fill="#a8a8a8"/>
<circle cx="148.4" cy="94.4" r="0.45" fill="#a8a8a8"/>
<circle cx="114.4" cy="88.1" r="0.45" fill="#a8a8a8"/>
<circle cx="118.7" cy="97.1" r="0.45" fill="#a8a8a8"/>
<circle cx="129.9" cy="108.9" r="0.45" fill="#a8a8a8"/>
<circle cx="110.9" cy="98.8" r="0.45" fill="#a8a8a8"/>
<circle cx="134.1" cy="85.2" r="0.45" fill="#a8a8a8"/>
<circle cx="135.9" cy="95.0" r="0.45" fill="#a8a8a8"/>
<circle cx="95.4" cy="97.3" r="0.45" fill="#a8a8a8"/>
<circle cx="117.3" cy="93.6" r="0.45" fill="#a8a8a8"/>
<circle cx="127.9" cy="99.9" r="0.45" fill="#a8a8a8"/>
<circle cx="129.7" cy="99.2" r="0.45" fill="#a8a8a8"/>
<circle cx="145.7" cy="98.6" r="0.45" fill="#a8a8a8"/>
<circle cx="108.3" cy="93.9" r="0.45" fill="#a8a8a8"/>
<circle cx="146.0" cy="107.1" r="0.45" fill="#a8a8a8"/>
<circle cx="138.0" cy="111.9" r="0.45" fill="#a8a8a8"/>
<circle cx="136.3" cy="92.2" r="0.45" fill="#a8a8a8"/>
<circle cx="133.2" cy="83.2" r="0.45" fill="#a8a8a8"/>
<circle cx="108.5" cy="93.7" r="0.45" fill="#a8a8a8"/>
<circle cx="137.0" cy="89.0" r="0.45" fill="#a8a8a8"/>
<circle cx="131.0" cy="105.3" r="0.45" fill="#a8a8a8"/>
<circle cx="142.9" cy="110.1" r="0.45" fill="#a8a8a8"/>
<circle cx="142.8" cy="89.1" r="0.45" fill="#a8a8a8"/>
<circle cx="143.1" cy="94.9" r="0.45" fill="#a8a8a8"/>
<circle cx="134.4" cy="92.0" r="0.45" fill="#a8a8a8"/>
<circle cx="100.1" cy="97.1" r="0.45" fill="#a8a8a8"/>
<circle cx="121.0" cy="90.7" r="0.45" fill="#a8a8a8"/>
<circle cx="130.8" cy="99.0" r="0.45" fill="#a8a8a8"/>
<circle cx="137.0" cy="105.6" r="0.45" fill="#a8a8a8"/>
<circle cx="105.4" cy="94.8" r="0.45" fill="#a8a8a8"/>
<circle cx="147.2" cy="104.5" r="0.45" fill="#a8a8a8"/>
<circle cx="136.9" cy="96.7" r="0.45" fill="#a8a8a8"/>
<circle cx="107.2" cy="86.6" r="0.45" fill="#a8a8a8"/>
<circle cx="137.8" cy="96.2" r="0.45" fill="#a8a8a8"/>
<circle cx="144.5" cy="105.5" r="0.45" fill="#a8a8a8"/>
<circle cx="138.1" cy="101.0" r="0.45" fill="#a8a8a8"/>
<circle cx="105.0" cy="96.4" r="0.45" fill="#a8a8a8"/>
<circle cx="107.1" cy="94.0" r="0.45" fill="#a8a8a8"/>
<circle cx="105.4" cy="102.3" r="0.45" fill="#a8a8a8"/>
<circle cx="138.5" cy="98.1" r="0.45" fill="#a8a8a8"/>
<circle cx="122.2" cy="93.3" r="0.45" fill="#a8a8a8"/>
<circle cx="136.3" cy="83.6" r="0.45" fill="#a8a8a8"/>
<circle cx="129.2" cy="84.5" r="0.45" fill="#a8a8a8"/>
<circle cx="115.1" cy="100.9" r="0.45" fill="#a8a8a8"/>
<circle cx="105.1" cy="87.1" r="0.45" fill="#a8a8a8"/>
<circle cx="141.5" cy="96.9" r="0.45" fill="#a8a8a8"/>
<circle cx="133.6" cy="105.0" r="0.45" fill="#a8a8a8"/>
<circle cx="130.2" cy="83.8" r="0.45" fill="#a8a8a8"/>
<circle cx="111.9" cy="99.4" r="0.45" fill="#a8a8a8"/>
<circle cx="104.6" cy="88.6" r="0.45" fill="#a8a8a8"/>
<circle cx="137.5" cy="94.6" r="0.45" fill="#a8a8a8"/>
<circle cx="141.7" cy="83.5" r="0.45" fill="#a8a8a8"/>
<circle cx="148.6" cy="98.9" r="0.45" fill="#a8a8a8"/>
<circle cx="113.2" cy="109.0" r="0.45" fill="#a8a8a8"/>
<circle cx="111.1" cy="106.1" r="0.45" fill="#a8a8a8"/>
<circle cx="101.7" cy="103.7" r="0.45" fill="#a8a8a8"/>
<circle cx="105.0" cy="101.2" r="0.45" fill="#a8a8a8"/>
<circle cx="100.9" cy="88.7" r="0.45" fill="#a8a8a8"/>
<circle cx="139.2" cy="112.5" r="0.45" fill="#a8a8a8"/>
<circle cx="110.7" cy="108.0" r="0.45" fill="#a8a8a8"/>
<circle cx="138.2" cy="111.7" r="0.45" fill="#a8a8a8"/>
<circle cx="139.3" cy="103.5" r="0.45" fill="#a8a8a8"/>
<circle cx="139.0" cy="81.6" r="0.45" fill="#a8a8a8"/>
<circle cx="122.9" cy="104.8" r="0.45" fill="#a8a8a8"/>
<circle cx="142.4" cy="110.2" r="0.45" fill="#a8a8a8"/>
<circle cx="114.3" cy="89.6" r="0.45" fill="#a8a8a8"/>
<circle cx="119.5" cy="90.2" r="0.45" fill="#a8a8a8"/>
<circle cx="140.4" cy="84.8" r="0.45" fill="#a8a8a8"/>
<circle cx="102.5" cy="102.3" r="0.45" fill="#a8a8a8"/>
<circle cx="124.0" cy="91.9" r="0.45" fill="#a8a8a8"/>
<circle cx="114.1" cy="91.4" r="0.45" fill="#a8a8a8"/>
<circle cx="101.0" cy="94.5" r="0.45" fill="#a8a8a8"/>
<circle cx="141.0" cy="83.6" r="0.45" fill="#a8a8a8"/>
<circle cx="145.5" cy="98.9" r="0.45" fill="#a8a8a8"/>
<circle cx="142.8" cy="91.7" r="0.45" fill="#a8a8a8"/>
<circle cx="105.6" cy="97.4" r="0.45" fill="#a8a8a8"/>
<circle cx="103.8" cy="95.3" r="0.45" fill="#a8a8a8"/>
<circle cx="141.7" cy="107.9" r="0.45" fill="#a8a8a8"/>
<circle cx="104.8" cy="94.5" r="0.45" fill="#a8a8a8"/>
<circle cx="144.6" cy="100.6" r="0.45" fill="#a8a8a8"/>
<circle cx="136.1" cy="96.8" r="0.45" fill="#a8a8a8"/>
<circle cx="129.6" cy="93.8" r="0.45" fill="#a8a8a8"/>
<circle cx="134.8" cy="100.9" r="0.45" fill="#a8a8a8"/>
<circle cx="115.4" cy="106.1" r="0.45" fill="#a8a8a8"/>
<circle cx="109.2" cy="96.8" r="0.45" fill="#a8a8a8"/>
<circle cx="128.2" cy="106.4" r="0.45" fill="#a8a8a8"/>
<circle cx="105.9" cy="102.2" r="0.45" fill="#a8a8a8"/>
<circle cx="105.1" cy="99.8" r="0.45" fill="#a8a8a8"/>
<circle cx="108.5" cy="101.3" r="0.45" fill="#a8a8a8"/>
<circle cx="120.7" cy="95.0" r="0.45" fill="#a8a8a8"/>
<circle cx="105.6" cy="104.6" r="0.45" fill="#a8a8a8"/>
<circle cx="145.3" cy="88.0" r="0.45" fill="#a8a8a8"/>
<circle cx="140.5" cy="100.0" r="0.45" fill="#a8a8a8"/>
<circle cx="123.4" cy="102.4" r="0.45" fill="#a8a8a8"/>
<circle cx="123.7" cy="103.6" r="0.45" fill="#a8a8a8"/>
<circle cx="135.5" cy="105.5" r="0.45" fill="#a8a8a8"/>
<circle cx="129.2" cy="83.7" r="0.45" fill="#a8a8a8"/>
<circle cx="102.0" cy="93.0" r="0.45" fill="#a8a8a8"/>
<circle cx="100.8" cy="104.1" r="0.45" fill="#a8a8a8"/>
<circle cx="135.5" cy="88.9" r="0.45" fill="#a8a8a8"/>
<circle cx="130.3" cy="104.8" r="0.45" fill="#a8a8a8"/>
<circle cx="107.5" cy="87.5" r="0.45" fill="#a8a8a8"/>
<circle cx="125.8" cy="95.7" r="0.45" fill="#a8a8a8"/>
<circle cx="143.6" cy="102.4" r="0.45" fill="#a8a8a8"/>
<circle cx="131.3" cy="94.9" r="0.45" fill="#a8a8a8"/>
<circle cx="143.1" cy="92.7" r="0.45" fill="#a8a8a8"/>
<circle cx="101.9" cy="93.0" r="0.45" fill="#a8a8a8"/>
<circle cx="148.0" cy="97.4" r="0.45" fill="#a8a8a8"/>
<circle cx="137.5" cy="80.2" r="0.45" fill="#a8a8a8"/>
<circle cx="108.4" cy="88.4" r="0.45" fill="#a8a8a8"/>
<circle cx="126.6" cy="102.0" r="0.45" fill="#a8a8a8"/>
<circle cx="127.4" cy="103.2" r="0.45" fill="#a8a8a8"/>
<circle cx="133.1" cy="96.6" r="0.45" fill="#a8a8a8"/>
<circle cx="138.8" cy="81.9" r="0.45" fill="#a8a8a8"/>
<circle cx="143.0" cy="84.8" r="0.45" fill="#a8a8a8"/>
<circle cx="132.4" cy="102.3" r="0.45" fill="#a8a8a8"/>
<circle cx="118.3" cy="100.0" r="0.45" fill="#a8a8a8"/>
<circle cx="100.8" cy="95.7" r="0.45" fill="#a8a8a8"/>
<circle cx="145.6" cy="94.3" r="0.45" fill="#a8a8a8"/>
<circle cx="143.6" cy="104.5" r="0.45" fill="#a8a8a8"/>
<circle cx="101.6" cy="89.6" r="0.45" fill="#a8a8a8"/>
<circle cx="119.7" cy="89.7" r="0.45" fill="#a8a8a8"/>
<circle cx="103.2" cy="105.0" r="0.45" fill="#a8a8a8"/>
<circle cx="108.9" cy="108.9" r="0.45" fill="#a8a8a8"/>
<circle cx="142.5" cy="108.0" r="0.45" fill="#a8a8a8"/>
<circle cx="131.9" cy="82.8" r="0.45" fill="#a8a8a8"/>
<circle cx="111.4" cy="96.7" r="0.45" fill="#a8a8a8"/>
<circle cx="137.9" cy="103.2" r="0.45" fill="#a8a8a8"/>
<circle cx="115.0" cy="94.2" r="0.45" fill="#a8a8a8"/>
<circle cx="105.3" cy="104.5" r="0.45" fill="#a8a8a8"/>
<circle cx="142.2" cy="85.7" r="0.45" fill="#a8a8a8"/>
<circle cx="131.5" cy="107.3" r="0.45" fill="#a8a8a8"/>
<circle cx="126.8" cy="102.5" r="0.45" fill="#a8a8a8"/>
<circle cx="101.6" cy="95.9" r="0.45" fill="#a8a8a8"/>
<circle cx="144.9" cy="92.6" r="0.45" fill="#a8a8a8"/>
<circle cx="142.3" cy="101.4" r="0.45" fill="#a8a8a8"/>
<circle cx="147.1" cy="94.7" r="0.45" fill="#a8a8a8"/>
<circle cx="140.7" cy="94.2" r="0.45" fill="#a8a8a8"/>
<circle cx="131.4" cy="90.7" r="0.45" fill="#a8a8a8"/>
<circle cx="133.9" cy="98.4" r="0.45" fill="#a8a8a8"/>
<circle cx="136.0" cy="95.4" r="0.45" fill="#a8a8a8"/>
<circle cx="116.4" cy="98.0" r="0.45" fill="#a8a8a8"/>
<circle cx="102.5" cy="103.3" r="0.45" fill="#a8a8a8"/>
<circle cx="144.9" cy="92.3" r="0.45" fill="#a8a8a8"/>
<circle cx="134.3" cy="90.4" r="0.45" fill="#a8a8a8"/>
<circle cx="99.9" cy="100.4" r="0.45" fill="#a8a8a8"/>
<circle cx="140.6" cy="88.8" r="0.45" fill="#a8a8a8"/>
<circle cx="108.6" cy="99.8" r="0.45" fill="#a8a8a8"/>
<circle cx="118.5" cy="88.9" r="0.45" fill="#a8a8a8"/>
<circle cx="122.9" cy="101.9" r="0.45" fill="#a8a8a8"/>
<circle cx="132.8" cy="103.6" r="0.45" fill="#a8a8a8"/>
<circle cx="130.4" cy="84.2" r="0.45" fill="#a8a8a8"/>
<circle cx="102.7" cy="97.3" r="0.45" fill="#a8a8a8"/>
<circle cx="121.5" cy="102.9" r="0.45" fill="#a8a8a8"/>
<circle cx="108.7" cy="87.4" r="0.45" fill="#a8a8a8"/>
<circle cx="108.8" cy="99.8" r="0.45" fill="#a8a8a8"/>
<circle cx="131.3" cy="108.5" r="0.45" fill="#a8a8a8"/>
<circle cx="120.3" cy="91.3" r="0.45" fill="#a8a8a8"/>
<circle cx="99.8" cy="98.1" r="0.45" fill="#a8a8a8"/>
<circle cx="137.2" cy="82.0" r="0.45" fill="#a8a8a8"/>
<circle cx="121.7" cy="100.2" r="0.45" fill="#a8a8a8"/>
<circle cx="127.2" cy="91.2" r="0.45" fill="#a8a8a8"/>
<circle cx="127.0" cy="90.3" r="0.45" fill="#a8a8a8"/>
<circle cx="137.0" cy="79.2" r="0.45" fill="#a8a8a8"/>
<circle cx="116.4" cy="103.4" r="0.45" fill="#a8a8a8"/>
<circle cx="128.0" cy="106.5" r="0.45" fill="#a8a8a8"/>
<circle cx="134.7" cy="109.7" r="0.45" fill="#a8a8a8"/>
<circle cx="147.7" cy="101.0" r="0.45" fill="#a8a8a8"/>
<circle cx="128.2" cy="86.7" r="0.45" fill="#a8a8a8"/>
<circle cx="133.5" cy="84.2" r="0.45" fill="#a8a8a8"/>
<circle cx="115.3" cy="108.0" r="0.45" fill="#a8a8a8"/>
<circle cx="131.7" cy="83.2" r="0.45" fill="#a8a8a8"/>
<circle cx="120.8" cy="105.8" r="0.45" fill="#a8a8a8"/>
<circle cx="131.8" cy="103.4" r="0.45" fill="#a8a8a8"/>
<circle cx="127.0" cy="87.8" r="0.45" fill="#a8a8a8"/>
<circle cx="133.0" cy="96.1" r="0.45" fill="#a8a8a8"/>
<circle cx="134.9" cy="109.2" r="0.45" fill="#a8a8a8"/>
<circle cx="126.6" cy="94.5" r="0.45" fill="#a8a8a8"/>
<circle cx="130.2" cy="84.6" r="0.45" fill="#a8a8a8"/>
<circle cx="140.0" cy="98.7" r="0.45" fill="#a8a8a8"/>
<circle cx="130.6" cy="104.1" r="0.45" fill="#a8a8a8"/>
<circle cx="113.0" cy="103.8" r="0.45" fill="#a8a8a8"/>
<circle cx="130.5" cy="91.3" r="0.45" fill="#a8a8a8"/>
<circle cx="116.5" cy="87.9" r="0.45" fill="#a8a8a8"/>
<circle cx="130.2" cy="97.3" r="0.45" fill="#a8a8a8"/>
<circle cx="142.4" cy="90.9" r="0.45" fill="#a8a8a8"/>
<circle cx="142.5" cy="84.7" r="0.45" fill="#a8a8a8"/>
<circle cx="133.4" cy="82.3" r="0.45" fill="#a8a8a8"/>
<circle cx="98.8" cy="92.9" r="0.45" fill="#a8a8a8"/>
<circle cx="135.0" cy="86.9" r="0.45" fill="#a8a8a8"/>
<circle cx="145.4" cy="88.2" r="0.45" fill="#a8a8a8"/>
<circle cx="117.7" cy="93.8" r="0.45" fill="#a8a8a8"/>
<circle cx="142.8" cy="98.1" r="0.45" fill="#a8a8a8"/>
<circle cx="137.6" cy="104.8" r="0.45" fill="#a8a8a8"/>
<circle cx="140.4" cy="108.7" r="0.45" fill="#a8a8a8"/>
<circle cx="101.5" cy="97.3" r="0.45" fill="#a8a8a8"/>
<circle cx="127.4" cy="87.9" r="0.45" fill="#a8a8a8"/>
<circle cx="115.1" cy="97.2" r="0.45" fill="#a8a8a8"/>
<circle cx="144.9" cy="87.9" r="0.45" fill="#a8a8a8"/>
<circle cx="107.9" cy="98.6" r="0.45" fill="#a8a8a8"/>
<circle cx="102.4" cy="101.7" r="0.45" fill="#a8a8a8"/>
<circle cx="106.0" cy="100.8" r="0.45" fill="#a8a8a8"/>
<circle cx="114.7" cy="103.2" r="0.45" fill="#a8a8a8"/>
<circle cx="146.6" cy="105.6" r="0.45" fill="#a8a8a8"/>
<circle cx="134.6" cy="99.9" r="0.45" fill="#a8a8a8"/>
<circle cx="141.7" cy="91.0" r="0.45" fill="#a8a8a8"/>
<circle cx="147.0" cy="91.6" r="0.45" fill="#a8a8a8"/>
<circle cx="134.0" cy="110.9" r="0.45" fill="#a8a8a8"/>
<circle cx="148.0" cy="90.0" r="0.45" fill="#a8a8a8"/>
<circle cx="103.5" cy="100.6" r="0.45" fill="#a8a8a8"/>
<circle cx="121.1" cy="106.8" r="0.45" fill="#a8a8a8"/>
<circle cx="105.7" cy="97.9" r="0.45" fill="#a8a8a8"/>
<circle cx="119.3" cy="93.4" r="0.45" fill="#a8a8a8"/>
<circle cx="114.4" cy="99.4" r="0.45" fill="#a8a8a8"/>
<circle cx="102.9" cy="102.7" r="0.45" fill="#a8a8a8"/>
<circle cx="118.3" cy="89.7" r="0.45" fill="#a8a8a8"/>
<circle cx="127.1" cy="103.3" r="0.45" fill="#a8a8a8"/>
<circle cx="143.4" cy="103.8" r="0.45" fill="#a8a8a8"/>
<circle cx="114.2" cy="88.6" r="0.45" fill="#a8a8a8"/>
<circle cx="98.7" cy="89.9" r="0.45" fill="#a8a8a8"/>
<circle cx="127.3" cy="95.4" r="0.45" fill="#a8a8a8"/>
<circle cx="126.1" cy="92.1" r="0.45" fill="#a8a8a8"/>
<circle cx="136.0" cy="105.3" r="0.45" fill="#a8a8a8"/>
<circle cx="110.6" cy="106.6" r="0.45" fill="#a8a8a8"/>
<circle cx="119.0" cy="107.7" r="0.45" fill="#a8a8a8"/>
<circle cx="120.9" cy="97.6" r="0.42" fill="#a0a0a0"/>
<circle cx="107.5" cy="88.1" r="0.42" fill="#a0a0a0"/>
<circle cx="111.3" cy="101.1" r="0.42" fill="#a0a0a0"/>
<circle cx="106.6" cy="96.5" r="0.42" fill="#a0a0a0"/>
<circle cx="95.8" cy="107.7" r="0.42" fill="#a0a0a0"/>
<circle cx="113.8" cy="96.1" r="0.42" fill="#a0a0a0"/>
<circle cx="116.4" cy="100.8" r="0.42" fill="#a0a0a0"/>
<circle cx="111.5" cy="97.2" r="0.42" fill="#a0a0a0"/>
<circle cx="111.2" cy="101.6" r="0.42" fill="#a0a0a0"/>
<circle cx="118.5" cy="104.2" r="0.42" fill="#a0a0a0"/>
<circle cx="114.5" cy="104.6" r="0.42" fill="#a0a0a0"/>
<circle cx="108.9" cy="88.1" r="0.42" fill="#a0a0a0"/>
<circle cx="96.1" cy="104.3" r="0.42" fill="#a0a0a0"/>
<circle cx="94.5" cy="93.1" r="0.42" fill="#a0a0a0"/>
<circle cx="110.6" cy="104.7" r="0.42" fill="#a0a0a0"/>
<circle cx="102.6" cy="93.5" r="0.42" fill="#a0a0a0"/>
<circle cx="110.5" cy="103.8" r="0.42" fill="#a0a0a0"/>
<circle cx="116.4" cy="117.1" r="0.42" fill="#a0a0a0"/>
<circle cx="125.7" cy="89.5" r="0.42" fill="#a0a0a0"/>
<circle cx="95.8" cy="96.7" r="0.42" fill="#a0a0a0"/>
<circle cx="107.4" cy="105.6" r="0.42" fill="#a0a0a0"/>
<circle cx="116.6" cy="103.9" r="0.42" fill="#a0a0a0"/>
<circle cx="110.4" cy="101.5" r="0.42" fill="#a0a0a0"/>
<circle cx="114.2" cy="97.1" r="0.42" fill="#a0a0a0"/>
<circle cx="116.2" cy="89.2" r="0.42" fill="#a0a0a0"/>
<circle cx="119.7" cy="102.5" r="0.42" fill="#a0a0a0"/>
<circle cx="138.5" cy="98.0" r="0.42" fill="#a0a0a0"/>
<circle cx="95.4" cy="94.2" r="0.42" fill="#a0a0a0"/>
<circle cx="108.5" cy="93.3" r="0.42" fill="#a0a0a0"/>
<circle cx="98.3" cy="95.8" r="0.42" fill="#a0a0a0"/>
<circle cx="96.7" cy="105.9" r="0.42" fill="#a0a0a0"/>
<circle cx="95.7" cy="102.2" r="0.42" fill="#a0a0a0"/>
<circle cx="120.0" cy="101.3" r="0.42" fill="#a0a0a0"/>
<circle cx="123.7" cy="101.1" r="0.42" fill="#a0a0a0"/>
<circle cx="118.8" cy="92.7" r="0.42" fill="#a0a0a0"/>
<circle cx="98.3" cy="94.9" r="0.42" fill="#a0a0a0"/>
<circle cx="111.7" cy="104.9" r="0.42" fill="#a0a0a0"/>
<circle cx="98.4" cy="94.1" r="0.42" fill="#a0a0a0"/>
<circle cx="102.6" cy="103.6" r="0.42" fill="#a0a0a0"/>
<circle cx="104.6" cy="105.7" r="0.42" fill="#a0a0a0"/>
<circle cx="106.7" cy="93.3" r="0.42" fill="#a0a0a0"/>
<circle cx="103.2" cy="86.9" r="0.42" fill="#a0a0a0"/>
<circle cx="102.7" cy="112.1" r="0.42" fill="#a0a0a0"/>
<circle cx="114.2" cy="104.1" r="0.42" fill="#a0a0a0"/>
<circle cx="111.5" cy="97.0" r="0.42" fill="#a0a0a0"/>
<circle cx="96.0" cy="89.8" r="0.42" fill="#a0a0a0"/>
<circle cx="124.0" cy="95.1" r="0.42" fill="#a0a0a0"/>
<circle cx="105.7" cy="103.3" r="0.42" fill="#a0a0a0"/>
<circle cx="108.1" cy="96.7" r="0.42" fill="#a0a0a0"/>
<circle cx="129.8" cy="100.9" r="0.42" fill="#a0a0a0"/>
<circle cx="106.5" cy="95.7" r="0.42" fill="#a0a0a0"/>
<circle cx="103.4" cy="100.8" r="0.42" fill="#a0a0a0"/>
<circle cx="115.8" cy="94.6" r="0.42" fill="#a0a0a0"/>
<circle cx="108.0" cy="87.9" r="0.42" fill="#a0a0a0"/>
<circle cx="107.5" cy="103.0" r="0.42" fill="#a0a0a0"/>
<circle cx="101.0" cy="97.6" r="0.42" fill="#a0a0a0"/>
<circle cx="103.5" cy="95.3" r="0.42" fill="#a0a0a0"/>
<circle cx="113.2" cy="92.0" r="0.42" fill="#a0a0a0"/>
<circle cx="121.3" cy="107.0" r="0.42" fill="#a0a0a0"/>
<circle cx="121.9" cy="92.5" r="0.42" fill="#a0a0a0"/>
<circle cx="111.7" cy="98.1" r="0.42" fill="#a0a0a0"/>
<circle cx="108.6" cy="98.6" r="0.42" fill="#a0a0a0"/>
<circle cx="107.0" cy="102.7" r="0.42" fill="#a0a0a0"/>
<circle cx="96.6" cy="100.8" r="0.42" fill="#a0a0a0"/>
<circle cx="115.2" cy="94.6" r="0.42" fill="#a0a0a0"/>
<circle cx="145.8" cy="100.3" r="0.42" fill="#a0a0a0"/>
<circle cx="112.9" cy="90.4" r="0.42" fill="#a0a0a0"/>
<circle cx="112.9" cy="99.9" r="0.42" fill="#a0a0a0"/>
<circle cx="121.2" cy="95.3" r="0.42" fill="#a0a0a0"/>
<circle cx="121.1" cy="89.7" r="0.42" fill="#a0a0a0"/>
<circle cx="110.6" cy="86.7" r="0.42" fill="#a0a0a0"/>
<circle cx="110.3" cy="103.4" r="0.42" fill="#a0a0a0"/>
<circle cx="95.7" cy="103.0" r="0.42" fill="#a0a0a0"/>
<circle cx="114.9" cy="88.0" r="0.42" fill="#a0a0a0"/>
<circle cx="101.0" cy="95.0" r="0.42" fill="#a0a0a0"/>
<circle cx="115.3" cy="107.5" r="0.42" fill="#a0a0a0"/>
<circle cx="104.0" cy="92.1" r="0.42" fill="#a0a0a0"/>
<circle cx="106.7" cy="80.6" r="0.42" fill="#a0a0a0"/>
<circle cx="114.7" cy="97.4" r="0.42" fill="#a0a0a0"/>
<circle cx="107.4" cy="107.2" r="0.42" fill="#a0a0a0"/>
<circle cx="107.6" cy="93.6" r="0.42" fill="#a0a0a0"/>
<circle cx="120.1" cy="95.5" r="0.42" fill="#a0a0a0"/>
<circle cx="110.8" cy="96.4" r="0.42" fill="#a0a0a0"/>
<circle cx="110.1" cy="99.9" r="0.42" fill="#a0a0a0"/>
<circle cx="113.4" cy="90.9" r="0.42" fill="#a0a0a0"/>
<circle cx="122.9" cy="95.9" r="0.42" fill="#a0a0a0"/>
<circle cx="106.4" cy="103.9" r="0.42" fill="#a0a0a0"/>
<circle cx="106.0" cy="101.6" r="0.42" fill="#a0a0a0"/>
<circle cx="121.2" cy="104.4" r="0.42" fill="#a0a0a0"/>
<circle cx="106.4" cy="105.1" r="0.42" fill="#a0a0a0"/>
<circle cx="108.6" cy="93.5" r="0.42" fill="#a0a0a0"/>
<circle cx="102.7" cy="100.6" r="0.42" fill="#a0a0a0"/>
<circle cx="104.2" cy="107.1" r="0.42" fill="#a0a0a0"/>
<circle cx="118.3" cy="102.3" r="0.42" fill="#a0a0a0"/>
<circle cx="121.4" cy="104.7" r="0.42" fill="#a0a0a0"/>
<circle cx="103.2" cy="114.6" r="0.42" fill="#a0a0a0"/>
<circle cx="96.6" cy="99.5" r="0.42" fill="#a0a0a0"/>
<circle cx="106.4" cy="89.6" r="0.42" fill="#a0a0a0"/>
<circle cx="115.7" cy="99.2" r="0.42" fill="#a0a0a0"/>
<circle cx="110.6" cy="91.8" r="0.42" fill="#a0a0a0"/>
<circle cx="123.8" cy="97.1" r="0.42" fill="#a0a0a0"/>
<circle cx="117.5" cy="88.9" r="0.42" fill="#a0a0a0"/>
<circle cx="124.0" cy="96.3" r="0.42" fill="#a0a0a0"/>
<circle cx="119.7" cy="95.9" r="0.42" fill="#a0a0a0"/>
<circle cx="110.0" cy="101.6" r="0.42" fill="#a0a0a0"/>
<circle cx="110.2" cy="112.3" r="0.42" fill="#a0a0a0"/>
<circle cx="109.0" cy="96.9" r="0.42" fill="#a0a0a0"/>
<circle cx="120.9" cy="99.8" r="0.42" fill="#a0a0a0"/>
<circle cx="101.9" cy="96.8" r="0.42" fill="#a0a0a0"/>
<circle cx="117.8" cy="99.1" r="0.42" fill="#a0a0a0"/>
<circle cx="121.4" cy="91.2" r="0.42" fill="#a0a0a0"/>
<circle cx="113.6" cy="93.8" r="0.42" fill="#a0a0a0"/>
<circle cx="107.4" cy="94.8" r="0.42" fill="#a0a0a0"/>
<circle cx="102.9" cy="113.9" r="0.42" fill="#a0a0a0"/>
<circle cx="112.3" cy="103.8" r="0.42" fill="#a0a0a0"/>
<circle cx="114.4" cy="111.3" r="0.42" fill="#a0a0a0"/>
<circle cx="105.6" cy="90.5" r="0.42" fill="#a0a0a0"/>
<circle cx="116.8" cy="92.7" r="0.42" fill="#a0a0a0"/>
<circle cx="124.7" cy="92.8" r="0.42" fill="#a0a0a0"/>
<circle cx="108.4" cy="103.0" r="0.42" fill="#a0a0a0"/>
<circle cx="100.5" cy="96.9" r="0.42" fill="#a0a0a0"/>
<circle cx="113.9" cy="89.3" r="0.42" fill="#a0a0a0"/>
<circle cx="109.9" cy="89.7" r="0.42" fill="#a0a0a0"/>
<circle cx="109.1" cy="109.2" r="0.42" fill="#a0a0a0"/>
<circle cx="123.9" cy="97.4" r="0.42" fill="#a0a0a0"/>
<circle cx="108.8" cy="93.9" r="0.42" fill="#a0a0a0"/>
<circle cx="118.1" cy="103.3" r="0.42" fill="#a0a0a0"/>
<circle cx="97.8" cy="92.7" r="0.42" fill="#a0a0a0"/>
<circle cx="98.8" cy="99.8" r="0.42" fill="#a0a0a0"/>
<circle cx="113.0" cy="99.6" r="0.42" fill="#a0a0a0"/>
<circle cx="116.5" cy="102.4" r="0.42" fill="#a0a0a0"/>
<circle cx="110.7" cy="102.1" r="0.42" fill="#a0a0a0"/>
<circle cx="106.0" cy="103.5" r="0.42" fill="#a0a0a0"/>
<circle cx="120.5" cy="84.9" r="0.42" fill="#a0a0a0"/>
<circle cx="126.0" cy="98.1" r="0.42" fill="#a0a0a0"/>
<circle cx="117.5" cy="98.8" r="0.42" fill="#a0a0a0"/>
<circle cx="125.2" cy="98.4" r="0.42" fill="#a0a0a0"/>
<circle cx="114.5" cy="95.1" r="0.42" fill="#a0a0a0"/>
<circle cx="110.8" cy="101.4" r="0.42" fill="#a0a0a0"/>
<circle cx="101.5" cy="97.5" r="0.42" fill="#a0a0a0"/>
<circle cx="105.4" cy="99.1" r="0.42" fill="#a0a0a0"/>
<circle cx="119.8" cy="99.5" r="0.42" fill="#a0a0a0"/>
<circle cx="122.9" cy="94.3" r="0.42" fill="#a0a0a0"/>
<circle cx="107.4" cy="97.5" r="0.42" fill="#a0a0a0"/>
<circle cx="102.2" cy="101.0" r="0.42" fill="#a0a0a0"/>
<circle cx="103.9" cy="93.7" r="0.42" fill="#a0a0a0"/>
<circle cx="112.9" cy="93.6" r="0.42" fill="#a0a0a0"/>
<circle cx="110.4" cy="97.9" r="0.42" fill="#a0a0a0"/>
<circle cx="120.8" cy="107.7" r="0.42" fill="#a0a0a0"/>
<circle cx="115.4" cy="94.1" r="0.42" fill="#a0a0a0"/>
<circle cx="118.2" cy="114.2" r="0.42" fill="#a0a0a0"/>
<circle cx="107.1" cy="97.0" r="0.42" fill="#a0a0a0"/>
<circle cx="122.7" cy="97.9" r="0.42" fill="#a0a0a0"/>
<circle cx="107.1" cy="105.8" r="0.42" fill="#a0a0a0"/>
<circle cx="102.0" cy="104.7" r="0.42" fill="#a0a0a0"/>
<circle cx="102.6" cy="101.8" r="0.42" fill="#a0a0a0"/>
<circle cx="109.6" cy="93.0" r="0.42" fill="#a0a0a0"/>
<circle cx="118.1" cy="89.1" r="0.42" fill="#a0a0a0"/>
<circle cx="115.7" cy="97.2" r="0.42" fill="#a0a0a0"/>
<circle cx="120.2" cy="90.6" r="0.42" fill="#a0a0a0"/>
<circle cx="119.1" cy="111.5" r="0.42" fill="#a0a0a0"/>
<circle cx="104.6" cy="98.4" r="0.42" fill="#a0a0a0"/>
<circle cx="112.7" cy="94.0" r="0.42" fill="#a0a0a0"/>
<circle cx="112.6" cy="97.4" r="0.42" fill="#a0a0a0"/>
<circle cx="106.1" cy="89.8" r="0.42" fill="#a0a0a0"/>
<circle cx="124.6" cy="88.1" r="0.42" fill="#a0a0a0"/>
<circle cx="108.4" cy="86.1" r="0.42" fill="#a0a0a0"/>
<circle cx="96.6" cy="103.0" r="0.42" fill="#a0a0a0"/>
<circle cx="110.6" cy="91.9" r="0.42" fill="#a0a0a0"/>
<circle cx="116.9" cy="89.1" r="0.42" fill="#a0a0a0"/>
<circle cx="117.3" cy="105.8" r="0.42" fill="#a0a0a0"/>
<circle cx="97.8" cy="99.3" r="0.42" fill="#a0a0a0"/>
<circle cx="125.0" cy="100.3" r="0.42" fill="#a0a0a0"/>
<circle cx="98.1" cy="104.9" r="0.42" fill="#a0a0a0"/>
<circle cx="110.6" cy="99.8" r="0.42" fill="#a0a0a0"/>
<circle cx="97.3" cy="100.5" r="0.42" fill="#a0a0a0"/>
<circle cx="112.6" cy="90.5" r="0.42" fill="#a0a0a0"/>
<circle cx="114.7" cy="95.8" r="0.42" fill="#a0a0a0"/>
<circle cx="117.4" cy="103.1" r="0.42" fill="#a0a0a0"/>
<circle cx="101.6" cy="89.2" r="0.42" fill="#a0a0a0"/>
<circle cx="122.3" cy="102.0" r="0.42" fill="#a0a0a0"/>
<circle cx="103.7" cy="105.0" r="0.42" fill="#a0a0a0"/>
<circle cx="115.1" cy="100.7" r="0.42" fill="#a0a0a0"/>
<circle cx="104.8" cy="94.0" r="0.42" fill="#a0a0a0"/>
<circle cx="121.7" cy="97.3" r="0.42" fill="#a0a0a0"/>
<circle cx="106.9" cy="101.9" r="0.42" fill="#a0a0a0"/>
<circle cx="99.3" cy="97.2" r="0.42" fill="#a0a0a0"/>
<circle cx="109.5" cy="115.6" r="0.42" fill="#a0a0a0"/>
<circle cx="94.2" cy="97.9" r="0.42" fill="#a0a0a0"/>
<circle cx="103.3" cy="87.2" r="0.42" fill="#a0a0a0"/>
<circle cx="129.9" cy="108.6" r="0.42" fill="#a0a0a0"/>
<circle cx="105.8" cy="96.2" r="0.42" fill="#a0a0a0"/>
<circle cx="107.8" cy="97.2" r="0.42" fill="#a0a0a0"/>
<circle cx="106.7" cy="99.9" r="0.42" fill="#a0a0a0"/>
<circle cx="120.4" cy="100.6" r="0.42" fill="#a0a0a0"/>
<circle cx="119.0" cy="89.2" r="0.42" fill="#a0a0a0"/>
<circle cx="125.7" cy="94.0" r="0.42" fill="#a0a0a0"/>
<circle cx="101.0" cy="92.6" r="0.42" fill="#a0a0a0"/>
<circle cx="115.3" cy="97.6" r="0.42" fill="#a0a0a0"/>
<circle cx="98.7" cy="97.5" r="0.42" fill="#a0a0a0"/>
<circle cx="147.8" cy="92.5" r="0.42" fill="#a0a0a0"/>
<circle cx="136.6" cy="90.6" r="0.42" fill="#a0a0a0"/>
<circle cx="132.8" cy="109.4" r="0.42" fill="#a0a0a0"/>
<circle cx="137.4" cy="95.5" r="0.42" fill="#a0a0a0"/>
<circle cx="142.8" cy="113.6" r="0.42" fill="#a0a0a0"/>
<circle cx="142.9" cy="105.9" r="0.42" fill="#a0a0a0"/>
<circle cx="133.2" cy="108.4" r="0.42" fill="#a0a0a0"/>
<circle cx="141.7" cy="88.0" r="0.42" fill="#a0a0a0"/>
<circle cx="133.2" cy="102.0" r="0.42" fill="#a0a0a0"/>
<circle cx="131.4" cy="88.2" r="0.42" fill="#a0a0a0"/>
<circle cx="131.8" cy="102.4" r="0.42" fill="#a0a0a0"/>
<circle cx="132.9" cy="95.4" r="0.42" fill="#a0a0a0"/>
<circle cx="140.0" cy="107.6" r="0.42" fill="#a0a0a0"/>
<circle cx="143.0" cy="104.2" r="0.42" fill="#a0a0a0"/>
<circle cx="140.3" cy="81.0" r="0.42" fill="#a0a0a0"/>
<circle cx="136.9" cy="106.3" r="0.42" fill="#a0a0a0"/>
<circle cx="141.5" cy="93.1" r="0.42" fill="#a0a0a0"/>
<circle cx="140.7" cy="96.7" r="0.42" fill="#a0a0a0"/>
<circle cx="137.9" cy="94.8" r="0.42" fill="#a0a0a0"/>
<circle cx="132.1" cy="82.8" r="0.42" fill="#a0a0a0"/>
<circle cx="129.6" cy="93.2" r="0.42" fill="#a0a0a0"/>
<circle cx="152.8" cy="81.5" r="0.42" fill="#a0a0a0"/>
<circle cx="139.9" cy="106.9" r="0.42" fill="#a0a0a0"/>
<circle cx="142.2" cy="99.2" r="0.42" fill="#a0a0a0"/>
<circle cx="139.0" cy="101.2" r="0.42" fill="#a0a0a0"/>
<circle cx="135.4" cy="94.3" r="0.42" fill="#a0a0a0"/>
<circle cx="137.4" cy="98.0" r="0.42" fill="#a0a0a0"/>
<circle cx="138.6" cy="90.8" r="0.42" fill="#a0a0a0"/>
<circle cx="143.9" cy="102.5" r="0.42" fill="#a0a0a0"/>
<circle cx="135.4" cy="84.6" r="0.42" fill="#a0a0a0"/>
<circle cx="130.5" cy="93.7" r="0.42" fill="#a0a0a0"/>
<circle cx="136.1" cy="89.4" r="0.42" fill="#a0a0a0"/>
<circle cx="141.7" cy="85.4" r="0.42" fill="#a0a0a0"/>
<circle cx="144.3" cy="82.3" r="0.42" fill="#a0a0a0"/>
<circle cx="140.6" cy="87.8" r="0.42" fill="#a0a0a0"/>
<circle cx="128.1" cy="95.0" r="0.42" fill="#a0a0a0"/>
<circle cx="135.8" cy="96.0" r="0.42" fill="#a0a0a0"/>
<circle cx="140.2" cy="94.0" r="0.42" fill="#a0a0a0"/>
<circle cx="131.0" cy="98.0" r="0.42" fill="#a0a0a0"/>
<circle cx="143.0" cy="103.5" r="0.42" fill="#a0a0a0"/>
<circle cx="128.5" cy="88.1" r="0.42" fill="#a0a0a0"/>
<circle cx="133.4" cy="92.0" r="0.42" fill="#a0a0a0"/>
<circle cx="124.2" cy="88.0" r="0.42" fill="#a0a0a0"/>
<circle cx="130.1" cy="83.9" r="0.42" fill="#a0a0a0"/>
<circle cx="145.4" cy="98.0" r="0.42" fill="#a0a0a0"/>
<circle cx="137.8" cy="102.2" r="0.42" fill="#a0a0a0"/>
<circle cx="135.3" cy="101.9" r="0.42" fill="#a0a0a0"/>
<circle cx="140.3" cy="100.2" r="0.42" fill="#a0a0a0"/>
<circle cx="137.5" cy="103.8" r="0.42" fill="#a0a0a0"/>
<circle cx="137.7" cy="93.4" r="0.42" fill="#a0a0a0"/>
<circle cx="137.6" cy="99.9" r="0.42" fill="#a0a0a0"/>
<circle cx="133.0" cy="96.7" r="0.42" fill="#a0a0a0"/>
<circle cx="133.0" cy="95.7" r="0.42" fill="#a0a0a0"/>
<circle cx="139.1" cy="106.8" r="0.42" fill="#a0a0a0"/>
<circle cx="147.3" cy="105.1" r="0.42" fill="#a0a0a0"/>
<circle cx="131.9" cy="93.5" r="0.42" fill="#a0a0a0"/>
<circle cx="124.3" cy="90.3" r="0.42" fill="#a0a0a0"/>
<circle cx="131.5" cy="97.3" r="0.42" fill="#a0a0a0"/>
<circle cx="138.1" cy="105.6" r="0.42" fill="#a0a0a0"/>
<circle cx="138.1" cy="84.7" r="0.42" fill="#a0a0a0"/>
<circle cx="135.1" cy="116.0" r="0.42" fill="#a0a0a0"/>
<circle cx="140.5" cy="103.3" r="0.42" fill="#a0a0a0"/>
<circle cx="139.0" cy="77.3" r="0.42" fill="#a0a0a0"/>
<circle cx="136.2" cy="97.3" r="0.42" fill="#a0a0a0"/>
<circle cx="131.6" cy="93.5" r="0.42" fill="#a0a0a0"/>
<circle cx="142.0" cy="98.5" r="0.42" fill="#a0a0a0"/>
<circle cx="138.1" cy="95.3" r="0.42" fill="#a0a0a0"/>
<circle cx="138.5" cy="101.9" r="0.42" fill="#a0a0a0"/>
<circle cx="138.4" cy="89.6" r="0.42" fill="#a0a0a0"/>
<circle cx="133.7" cy="84.6" r="0.42" fill="#a0a0a0"/>
<circle cx="142.9" cy="97.7" r="0.42" fill="#a0a0a0"/>
<circle cx="144.2" cy="108.0" r="0.42" fill="#a0a0a0"/>
<circle cx="131.7" cy="97.6" r="0.42" fill="#a0a0a0"/>
<circle cx="140.9" cy="81.5" r="0.42" fill="#a0a0a0"/>
<circle cx="139.2" cy="98.7" r="0.42" fill="#a0a0a0"/>
<circle cx="134.9" cy="104.0" r="0.42" fill="#a0a0a0"/>
<circle cx="131.6" cy="100.5" r="0.42" fill="#a0a0a0"/>
<circle cx="145.1" cy="94.7" r="0.42" fill="#a0a0a0"/>
<circle cx="144.4" cy="94.0" r="0.42" fill="#a0a0a0"/>
<circle cx="137.7" cy="108.6" r="0.42" fill="#a0a0a0"/>
<circle cx="140.9" cy="107.1" r="0.42" fill="#a0a0a0"/>
<circle cx="144.9" cy="113.3" r="0.42" fill="#a0a0a0"/>
<circle cx="133.2" cy="115.0" r="0.42" fill="#a0a0a0"/>
<circle cx="137.7" cy="103.0" r="0.42" fill="#a0a0a0"/>
<circle cx="137.2" cy="113.8" r="0.42" fill="#a0a0a0"/>
<circle cx="141.3" cy="83.9" r="0.42" fill="#a0a0a0"/>
<circle cx="134.2" cy="94.7" r="0.42" fill="#a0a0a0"/>
<circle cx="137.1" cy="99.3" r="0.42" fill="#a0a0a0"/>
<circle cx="139.6" cy="95.0" r="0.42" fill="#a0a0a0"/>
<circle cx="137.0" cy="96.7" r="0.42" fill="#a0a0a0"/>
<circle cx="135.4" cy="108.9" r="0.42" fill="#a0a0a0"/>
<circle cx="137.9" cy="100.1" r="0.42" fill="#a0a0a0"/>
<circle cx="140.6" cy="92.5" r="0.42" fill="#a0a0a0"/>
<circle cx="145.6" cy="97.6" r="0.42" fill="#a0a0a0"/>
<circle cx="143.9" cy="96.2" r="0.42" fill="#a0a0a0"/>
<circle cx="142.6" cy="99.1" r="0.42" fill="#a0a0a0"/>
<circle cx="133.8" cy="92.7" r="0.42" fill="#a0a0a0"/>
<circle cx="129.2" cy="104.4" r="0.42" fill="#a0a0a0"/>
<circle cx="131.3" cy="82.8" r="0.42" fill="#a0a0a0"/>
<circle cx="143.3" cy="93.7" r="0.42" fill="#a0a0a0"/>
<circle cx="139.7" cy="96.5" r="0.42" fill="#a0a0a0"/>
<circle cx="128.8" cy="95.5" r="0.42" fill="#a0a0a0"/>
<circle cx="142.6" cy="92.6" r="0.42" fill="#a0a0a0"/>
<circle cx="126.3" cy="104.4" r="0.42" fill="#a0a0a0"/>
<circle cx="135.1" cy="97.6" r="0.42" fill="#a0a0a0"/>
<circle cx="132.8" cy="99.1" r="0.42" fill="#a0a0a0"/>
<circle cx="131.4" cy="83.2" r="0.42" fill="#a0a0a0"/>
<circle cx="141.6" cy="99.3" r="0.42" fill="#a0a0a0"/>
<circle cx="145.1" cy="87.3" r="0.42" fill="#a0a0a0"/>
<circle cx="138.1" cy="88.3" r="0.42" fill="#a0a0a0"/>
<circle cx="147.2" cy="92.0" r="0.42" fill="#a0a0a0"/>
<circle cx="139.9" cy="86.8" r="0.42" fill="#a0a0a0"/>
<circle cx="135.2" cy="93.3" r="0.42" fill="#a0a0a0"/>
<circle cx="137.9" cy="97.3" r="0.42" fill="#a0a0a0"/>
<circle cx="143.2" cy="100.6" r="0.42" fill="#a0a0a0"/>
<circle cx="143.8" cy="93.0" r="0.42" fill="#a0a0a0"/>
<circle cx="139.2" cy="82.3" r="0.42" fill="#a0a0a0"/>
<circle cx="141.2" cy="94.5" r="0.42" fill="#a0a0a0"/>
<circle cx="124.5" cy="97.4" r="0.42" fill="#a0a0a0"/>
<circle cx="132.9" cy="109.2" r="0.42" fill="#a0a0a0"/>
<circle cx="134.3" cy="99.7" r="0.42" fill="#a0a0a0"/>
<circle cx="138.5" cy="105.1" r="0.42" fill="#a0a0a0"/>
<circle cx="148.2" cy="100.3" r="0.42" fill="#a0a0a0"/>
<circle cx="134.5" cy="102.3" r="0.42" fill="#a0a0a0"/>
<circle cx="137.2" cy="96.1" r="0.42" fill="#a0a0a0"/>
<circle cx="137.5" cy="87.2" r="0.42" fill="#a0a0a0"/>
<circle cx="141.7" cy="101.9" r="0.42" fill="#a0a0a0"/>
<circle cx="138.6" cy="96.8" r="0.42" fill="#a0a0a0"/>
<circle cx="136.3" cy="102.5" r="0.42" fill="#a0a0a0"/>
<circle cx="133.9" cy="93.7" r="0.42" fill="#a0a0a0"/>
<circle cx="140.0" cy="90.0" r="0.42" fill="#a0a0a0"/>
<circle cx="139.7" cy="95.6" r="0.42" fill="#a0a0a0"/>
<circle cx="137.2" cy="99.1" r="0.42" fill="#a0a0a0"/>
<circle cx="140.4" cy="98.6" r="0.42" fill="#a0a0a0"/>
<circle cx="131.1" cy="91.0" r="0.42" fill="#a0a0a0"/>
<circle cx="136.4" cy="90.5" r="0.42" fill="#a0a0a0"/>
<circle cx="124.1" cy="81.9" r="0.42" fill="#a0a0a0"/>
<circle cx="135.3" cy="102.9" r="0.42" fill="#a0a0a0"/>
<circle cx="142.6" cy="118.4" r="0.42" fill="#a0a0a0"/>
<circle cx="132.8" cy="89.1" r="0.42" fill="#a0a0a0"/>
<circle cx="134.8" cy="97.1" r="0.42" fill="#a0a0a0"/>
<circle cx="138.3" cy="110.8" r="0.42" fill="#a0a0a0"/>
<circle cx="136.9" cy="107.8" r="0.42" fill="#a0a0a0"/>
<circle cx="139.9" cy="93.8" r="0.42" fill="#a0a0a0"/>
<circle cx="127.8" cy="99.6" r="0.42" fill="#a0a0a0"/>
<circle cx="136.6" cy="80.2" r="0.42" fill="#a0a0a0"/>
<circle cx="143.1" cy="90.7" r="0.42" fill="#a0a0a0"/>
<circle cx="138.0" cy="107.6" r="0.42" fill="#a0a0a0"/>
<circle cx="140.3" cy="94.4" r="0.42" fill="#a0a0a0"/>
<circle cx="136.0" cy="102.7" r="0.42" fill="#a0a0a0"/>
<path d="M 125.16,98.50 L 125.21,99.83 L 124.85,101.14 L 124.09,102.36 L 123.00,103.45 L 121.67,104.38 L 120.22,105.17 L 118.72,105.85 L 117.21,106.47 L 115.66,107.05 L 114.05,107.59 L 112.33,108.05 L 110.50,108.36 L 108.59,108.46 L 106.68,108.27 L 104.88,107.80 L 103.28,107.07 L 101.95,106.14 L 100.87,105.10 L 100.01,104.02 L 99.29,102.94 L 98.63,101.87 L 97.99,100.80 L 97.37,99.68 L 96.86,98.50 L 96.54,97.24 L 96.52,95.93 L 96.86,94.63 L 97.58,93.39 L 98.66,92.27 L 100.02,91.31 L 101.59,90.53 L 103.28,89.92 L 105.05,89.47 L 106.85,89.16 L 108.67,88.99 L 110.50,88.97 L 112.30,89.12 L 114.04,89.43 L 115.69,89.91 L 117.20,90.54 L 118.59,91.27 L 119.86,92.08 L 121.03,92.96 L 122.13,93.89 L 123.15,94.91 L 124.05,96.01 L 124.75,97.21 Z" stroke="#bcbcbc" stroke-width="0.7" fill="#dcdcdc" />
<path d="M 122.28,98.50 L 121.92,99.53 L 121.35,100.49 L 120.68,101.39 L 119.97,102.25 L 119.24,103.10 L 118.45,103.95 L 117.53,104.78 L 116.42,105.54 L 115.11,106.14 L 113.63,106.51 L 112.06,106.62 L 110.50,106.46 L 109.04,106.09 L 107.74,105.58 L 106.57,105.01 L 105.50,104.44 L 104.45,103.91 L 103.38,103.38 L 102.28,102.83 L 101.19,102.18 L 100.22,101.42 L 99.45,100.53 L 98.96,99.54 L 98.79,98.50 L 98.91,97.45 L 99.28,96.44 L 99.83,95.47 L 100.50,94.54 L 101.30,93.66 L 102.22,92.82 L 103.29,92.06 L 104.54,91.43 L 105.95,90.97 L 107.47,90.74 L 109.01,90.74 L 110.50,90.95 L 111.88,91.31 L 113.14,91.74 L 114.32,92.18 L 115.47,92.59 L 116.66,93.00 L 117.89,93.43 L 119.15,93.95 L 120.33,94.61 L 121.32,95.43 L 122.01,96.39 L 122.33,97.43 Z" stroke="#a8a8a8" stroke-width="0.5" fill="#cdcdcd" />
<path d="M 118.81,98.50 L 118.56,99.23 L 118.24,99.92 L 117.89,100.60 L 117.52,101.28 L 117.08,101.96 L 116.53,102.63 L 115.82,103.25 L 114.94,103.77 L 113.91,104.15 L 112.78,104.34 L 111.63,104.37 L 110.50,104.27 L 109.43,104.07 L 108.42,103.82 L 107.44,103.56 L 106.47,103.28 L 105.50,102.96 L 104.56,102.57 L 103.69,102.08 L 102.97,101.48 L 102.45,100.79 L 102.18,100.03 L 102.13,99.26 L 102.27,98.50 L 102.53,97.78 L 102.83,97.09 L 103.16,96.41 L 103.50,95.73 L 103.91,95.03 L 104.44,94.34 L 105.14,93.71 L 106.02,93.18 L 107.06,92.80 L 108.20,92.61 L 109.37,92.59 L 110.50,92.72 L 111.57,92.94 L 112.57,93.21 L 113.53,93.48 L 114.48,93.77 L 115.44,94.08 L 116.39,94.46 L 117.27,94.94 L 118.02,95.52 L 118.56,96.21 L 118.87,96.96 L 118.94,97.74 Z" stroke="#ababab" stroke-width="0.5" fill="#c6c6c6" />
<path d="M 116.53,98.50 L 116.36,99.03 L 116.06,99.52 L 115.69,99.97 L 115.28,100.39 L 114.86,100.80 L 114.42,101.19 L 113.93,101.56 L 113.37,101.91 L 112.72,102.18 L 112.01,102.36 L 111.25,102.42 L 110.50,102.37 L 109.79,102.21 L 109.14,101.99 L 108.54,101.74 L 107.98,101.49 L 107.42,101.26 L 106.83,101.01 L 106.23,100.74 L 105.65,100.42 L 105.13,100.02 L 104.74,99.56 L 104.52,99.04 L 104.48,98.50 L 104.62,97.97 L 104.89,97.47 L 105.25,97.01 L 105.65,96.58 L 106.08,96.17 L 106.54,95.79 L 107.05,95.42 L 107.63,95.09 L 108.28,94.83 L 109.00,94.67 L 109.76,94.62 L 110.50,94.69 L 111.20,94.84 L 111.85,95.05 L 112.44,95.28 L 113.02,95.51 L 113.60,95.73 L 114.20,95.96 L 114.82,96.23 L 115.42,96.55 L 115.94,96.96 L 116.32,97.43 L 116.52,97.96 Z" stroke="#b8b8b8" stroke-width="0.4" fill="#d6d6d6" />
<path d="M 113.06,98.50 L 113.01,98.73 L 112.93,98.95 L 112.82,99.16 L 112.66,99.36 L 112.46,99.53 L 112.22,99.68 L 111.96,99.80 L 111.67,99.89 L 111.38,99.96 L 111.09,100.02 L 110.80,100.08 L 110.50,100.13 L 110.18,100.17 L 109.84,100.20 L 109.48,100.19 L 109.12,100.14 L 108.79,100.03 L 108.51,99.87 L 108.29,99.66 L 108.16,99.43 L 108.10,99.18 L 108.09,98.94 L 108.12,98.72 L 108.15,98.50 L 108.18,98.29 L 108.22,98.08 L 108.27,97.87 L 108.35,97.65 L 108.49,97.44 L 108.68,97.25 L 108.93,97.10 L 109.22,96.98 L 109.54,96.91 L 109.86,96.87 L 110.19,96.86 L 110.50,96.86 L 110.81,96.88 L 111.13,96.90 L 111.45,96.93 L 111.77,96.99 L 112.09,97.08 L 112.38,97.21 L 112.63,97.38 L 112.83,97.58 L 112.96,97.80 L 113.04,98.03 L 113.07,98.27 Z" stroke="none" stroke-width="0" fill="#f0f0f0" />
<path d="M 135.6 94 L 141.8 94 L 141.2 106.5 L 136.2 106.5 Z" stroke="#6a6a6a" stroke-width="0.6" fill="#9a9a9a" />
<path d="M 138.2 95 L 139.4 95 L 139.2 105 L 138.3 105 Z" stroke="none" stroke-width="1.0" fill="#e8e8e8" />
<path d="M 144.02,88.42 L 143.89,89.60 L 143.62,90.73 L 143.23,91.78 L 142.75,92.73 L 142.20,93.58 L 141.61,94.34 L 140.99,95.04 L 140.34,95.67 L 139.64,96.23 L 138.90,96.70 L 138.11,97.04 L 137.29,97.20 L 136.45,97.17 L 135.63,96.93 L 134.87,96.48 L 134.17,95.86 L 133.56,95.09 L 133.03,94.23 L 132.58,93.30 L 132.20,92.32 L 131.90,91.29 L 131.66,90.22 L 131.51,89.12 L 131.46,87.99 L 131.51,86.84 L 131.68,85.71 L 131.96,84.61 L 132.34,83.58 L 132.83,82.62 L 133.39,81.76 L 134.03,81.01 L 134.73,80.39 L 135.49,79.90 L 136.28,79.56 L 137.09,79.38 L 137.91,79.38 L 138.71,79.55 L 139.48,79.87 L 140.20,80.32 L 140.88,80.88 L 141.51,81.53 L 142.10,82.27 L 142.64,83.09 L 143.12,83.99 L 143.52,84.99 L 143.82,86.08 L 143.99,87.23 Z" stroke="#8e8e8e" stroke-width="0.8" fill="#c8c8c8" />
<path d="M 142.37,88.37 L 142.30,89.25 L 142.11,90.10 L 141.83,90.89 L 141.46,91.60 L 141.04,92.21 L 140.57,92.74 L 140.07,93.18 L 139.56,93.55 L 139.04,93.85 L 138.50,94.09 L 137.95,94.25 L 137.39,94.33 L 136.82,94.32 L 136.25,94.21 L 135.69,93.98 L 135.16,93.64 L 134.68,93.18 L 134.25,92.62 L 133.89,91.97 L 133.60,91.25 L 133.39,90.48 L 133.25,89.68 L 133.17,88.87 L 133.16,88.05 L 133.21,87.22 L 133.33,86.40 L 133.51,85.60 L 133.76,84.82 L 134.08,84.09 L 134.49,83.43 L 134.96,82.87 L 135.48,82.43 L 136.06,82.13 L 136.65,81.96 L 137.24,81.94 L 137.82,82.03 L 138.37,82.22 L 138.89,82.49 L 139.38,82.81 L 139.85,83.17 L 140.31,83.57 L 140.76,84.03 L 141.18,84.56 L 141.57,85.17 L 141.91,85.87 L 142.17,86.64 L 142.33,87.49 Z" stroke="#5c5c5c" stroke-width="0.8" fill="#a6a6a6" />
<path d="M 140.48,88.30 L 140.39,88.82 L 140.24,89.31 L 140.05,89.75 L 139.83,90.16 L 139.60,90.54 L 139.37,90.90 L 139.12,91.26 L 138.85,91.62 L 138.55,91.94 L 138.21,92.21 L 137.84,92.38 L 137.45,92.43 L 137.07,92.36 L 136.71,92.17 L 136.38,91.88 L 136.10,91.54 L 135.86,91.16 L 135.64,90.78 L 135.44,90.39 L 135.25,90.00 L 135.06,89.57 L 134.91,89.12 L 134.79,88.62 L 134.74,88.10 L 134.76,87.57 L 134.85,87.04 L 135.01,86.55 L 135.22,86.11 L 135.47,85.71 L 135.74,85.35 L 136.03,85.04 L 136.34,84.76 L 136.67,84.53 L 137.01,84.35 L 137.37,84.25 L 137.74,84.22 L 138.10,84.28 L 138.45,84.42 L 138.78,84.63 L 139.09,84.88 L 139.37,85.18 L 139.64,85.51 L 139.89,85.87 L 140.12,86.28 L 140.30,86.74 L 140.43,87.23 L 140.49,87.76 Z" stroke="#858585" stroke-width="0.5" fill="#cdcdcd" />
<path d="M 138.85,88.24 L 138.80,88.47 L 138.74,88.68 L 138.67,88.88 L 138.60,89.08 L 138.52,89.27 L 138.43,89.46 L 138.31,89.64 L 138.18,89.79 L 138.03,89.90 L 137.87,89.97 L 137.70,89.99 L 137.54,89.97 L 137.38,89.92 L 137.23,89.84 L 137.09,89.75 L 136.95,89.65 L 136.82,89.54 L 136.69,89.41 L 136.57,89.25 L 136.47,89.06 L 136.40,88.85 L 136.35,88.63 L 136.34,88.39 L 136.36,88.16 L 136.40,87.93 L 136.45,87.72 L 136.51,87.51 L 136.58,87.31 L 136.67,87.11 L 136.76,86.92 L 136.88,86.74 L 137.01,86.60 L 137.17,86.49 L 137.33,86.43 L 137.50,86.42 L 137.66,86.45 L 137.82,86.51 L 137.96,86.58 L 138.11,86.67 L 138.25,86.76 L 138.38,86.86 L 138.52,86.99 L 138.64,87.14 L 138.75,87.33 L 138.82,87.54 L 138.86,87.77 L 138.87,88.01 Z" stroke="none" stroke-width="0" fill="#ffffff" />
<path d="M 138.97,105.24 L 139.01,105.80 L 138.92,106.36 L 138.71,106.93 L 138.38,107.47 L 137.95,107.99 L 137.43,108.48 L 136.85,108.94 L 136.22,109.36 L 135.53,109.75 L 134.78,110.10 L 133.99,110.39 L 133.15,110.63 L 132.27,110.77 L 131.39,110.82 L 130.54,110.76 L 129.76,110.60 L 129.05,110.35 L 128.43,110.04 L 127.88,109.69 L 127.39,109.31 L 126.95,108.91 L 126.54,108.50 L 126.17,108.04 L 125.88,107.55 L 125.69,107.01 L 125.64,106.44 L 125.77,105.85 L 126.07,105.26 L 126.53,104.71 L 127.13,104.22 L 127.82,103.79 L 128.56,103.42 L 129.32,103.11 L 130.10,102.84 L 130.89,102.61 L 131.70,102.42 L 132.52,102.27 L 133.36,102.18 L 134.20,102.16 L 135.03,102.23 L 135.81,102.39 L 136.52,102.62 L 137.16,102.94 L 137.71,103.31 L 138.18,103.74 L 138.54,104.20 L 138.81,104.71 Z" stroke="#5a5a5a" stroke-width="1.0" fill="#9a9a9a" />
<path d="M 136.86,105.61 L 136.87,105.99 L 136.79,106.38 L 136.62,106.75 L 136.38,107.11 L 136.09,107.46 L 135.74,107.78 L 135.36,108.08 L 134.93,108.36 L 134.47,108.61 L 133.97,108.83 L 133.44,109.01 L 132.88,109.14 L 132.32,109.22 L 131.75,109.25 L 131.20,109.22 L 130.68,109.13 L 130.19,109.00 L 129.75,108.82 L 129.36,108.61 L 129.02,108.37 L 128.72,108.10 L 128.48,107.80 L 128.29,107.49 L 128.15,107.15 L 128.07,106.80 L 128.06,106.42 L 128.13,106.04 L 128.29,105.66 L 128.53,105.29 L 128.86,104.94 L 129.27,104.62 L 129.75,104.34 L 130.27,104.12 L 130.81,103.94 L 131.37,103.82 L 131.93,103.75 L 132.48,103.72 L 133.01,103.72 L 133.53,103.75 L 134.04,103.80 L 134.53,103.89 L 135.02,104.01 L 135.47,104.16 L 135.89,104.37 L 136.26,104.62 L 136.55,104.92 L 136.76,105.25 Z" stroke="#606060" stroke-width="0.7" fill="#e6e6e6" />
<path d="M 134.74,105.99 L 134.76,106.19 L 134.73,106.39 L 134.66,106.59 L 134.56,106.79 L 134.43,106.98 L 134.26,107.17 L 134.05,107.34 L 133.82,107.50 L 133.56,107.64 L 133.27,107.75 L 132.97,107.84 L 132.66,107.89 L 132.35,107.93 L 132.05,107.93 L 131.76,107.91 L 131.47,107.87 L 131.20,107.81 L 130.95,107.72 L 130.73,107.62 L 130.53,107.49 L 130.35,107.34 L 130.22,107.18 L 130.12,107.00 L 130.06,106.81 L 130.04,106.62 L 130.06,106.41 L 130.12,106.21 L 130.22,106.01 L 130.36,105.81 L 130.53,105.63 L 130.74,105.45 L 130.98,105.30 L 131.25,105.17 L 131.53,105.06 L 131.83,104.97 L 132.14,104.92 L 132.44,104.88 L 132.75,104.88 L 133.04,104.89 L 133.33,104.93 L 133.60,104.99 L 133.85,105.07 L 134.08,105.18 L 134.29,105.30 L 134.46,105.45 L 134.60,105.61 L 134.69,105.80 Z" stroke="none" stroke-width="0" fill="#ffffff" />
<ellipse cx="62.9" cy="84" rx="22" ry="10.2" transform="rotate(15 62.9 84)" fill="none" stroke="#5a5a5a" stroke-width="0.7"/>
<ellipse cx="134.3" cy="84.05" rx="22.5" ry="10.6" transform="rotate(15 134.3 84.05)" fill="none" stroke="#5a5a5a" stroke-width="0.7"/>
<text x="0" y="0" font-size="10.6" fill="#1a1a1a" transform="translate(45.40 48.50) scale(1.0085 1)" class="hv">IL-10<tspan font-size="7.6" dy="-4.2">-/-</tspan></text>
<text x="115.40" y="47.90" font-size="10.6" class="hv" textLength="16.20" lengthAdjust="spacingAndGlyphs" >WT</text>
<text x="57.40" y="69.20" font-size="9.3" class="hv" textLength="15.60" lengthAdjust="spacingAndGlyphs" >50.3</text>
<text x="128.90" y="68.90" font-size="9.3" class="hv" textLength="16.20" lengthAdjust="spacingAndGlyphs" >20.0</text>
<text x="15.80" y="126.00" font-size="9.6" class="hv" textLength="20.20" lengthAdjust="spacingAndGlyphs" transform="rotate(-90 15.80 126.00)" >CD69</text>
<line x1="12.60" y1="103.00" x2="12.60" y2="90.00" stroke="#1a1a1a" stroke-width="0.9" />
<path d="M 12.6 86.5 L 10.6 91.5 L 14.6 91.5 Z" stroke="none" stroke-width="1.0" fill="#1a1a1a" />
<text x="31.00" y="133.80" font-size="10" class="hv" textLength="30.40" lengthAdjust="spacingAndGlyphs" >DNAM-1</text>
<line x1="65.40" y1="131.20" x2="78.00" y2="131.20" stroke="#1a1a1a" stroke-width="0.9" />
<path d="M 81.5 131.2 L 76.5 129.2 L 76.5 133.2 Z" stroke="none" stroke-width="1.0" fill="#1a1a1a" />
<line x1="211.50" y1="37.20" x2="211.50" y2="128.40" stroke="#1a1a1a" stroke-width="1.45" />
<line x1="208.00" y1="128.40" x2="211.50" y2="128.40" stroke="#1a1a1a" stroke-width="1.2" />
<text x="205.60" y="131.10" font-size="9.2" text-anchor="end" >0</text>
<line x1="208.00" y1="106.60" x2="211.50" y2="106.60" stroke="#1a1a1a" stroke-width="1.2" />
<text x="205.60" y="109.30" font-size="9.2" text-anchor="end" >2</text>
<line x1="208.00" y1="84.80" x2="211.50" y2="84.80" stroke="#1a1a1a" stroke-width="1.2" />
<text x="205.60" y="87.50" font-size="9.2" text-anchor="end" >4</text>
<line x1="208.00" y1="63.00" x2="211.50" y2="63.00" stroke="#1a1a1a" stroke-width="1.2" />
<text x="205.60" y="65.70" font-size="9.2" text-anchor="end" >6</text>
<line x1="208.00" y1="41.20" x2="211.50" y2="41.20" stroke="#1a1a1a" stroke-width="1.2" />
<text x="205.60" y="43.90" font-size="9.2" text-anchor="end" >8</text>
<line x1="208.40" y1="128.40" x2="262.20" y2="128.40" stroke="#1a1a1a" stroke-width="1.45" />
<rect x="215.30" y="80.00" width="18.30" height="48.40" stroke="#1a1a1a" stroke-width="1.1" fill="#fff"/>
<rect x="241.00" y="106.30" width="18.60" height="22.10" stroke="#1a1a1a" stroke-width="1.1" fill="#fff"/>
<line x1="224.40" y1="128.40" x2="224.40" y2="131.80" stroke="#1a1a1a" stroke-width="1.0" />
<line x1="250.50" y1="128.40" x2="250.50" y2="131.80" stroke="#1a1a1a" stroke-width="1.0" />
<line x1="224.40" y1="70.00" x2="224.40" y2="90.00" stroke="#1a1a1a" stroke-width="1.0" />
<line x1="220.50" y1="70.00" x2="228.30" y2="70.00" stroke="#1a1a1a" stroke-width="1.0" />
<line x1="220.50" y1="90.00" x2="228.30" y2="90.00" stroke="#1a1a1a" stroke-width="1.0" />
<line x1="250.50" y1="103.50" x2="250.50" y2="109.00" stroke="#1a1a1a" stroke-width="1.0" />
<line x1="246.50" y1="103.50" x2="254.50" y2="103.50" stroke="#1a1a1a" stroke-width="1.0" />
<line x1="246.50" y1="109.00" x2="254.50" y2="109.00" stroke="#1a1a1a" stroke-width="1.0" />
<circle cx="224.40" cy="50.50" r="2.2" fill="#ad0a32"/>
<circle cx="224.40" cy="64.20" r="2.2" fill="#ad0a32"/>
<circle cx="221.40" cy="73.00" r="2.2" fill="#ad0a32"/>
<circle cx="227.80" cy="72.00" r="2.2" fill="#ad0a32"/>
<circle cx="224.40" cy="106.80" r="2.2" fill="#ad0a32"/>
<circle cx="224.40" cy="115.40" r="2.2" fill="#ad0a32"/>
<circle cx="250.50" cy="95.40" r="2.2" fill="#193c7c"/>
<circle cx="247.40" cy="103.10" r="2.2" fill="#193c7c"/>
<circle cx="253.70" cy="104.60" r="2.2" fill="#193c7c"/>
<circle cx="244.50" cy="107.50" r="2.2" fill="#193c7c"/>
<circle cx="250.50" cy="113.70" r="2.2" fill="#193c7c"/>
<circle cx="256.80" cy="112.20" r="2.2" fill="#193c7c"/>
<line x1="224.20" y1="43.60" x2="251.20" y2="43.60" stroke="#1a1a1a" stroke-width="1.1" />
<path d="M 236.90,35.20 L 237.43,36.27 L 238.61,36.44 L 237.76,37.28 L 237.96,38.46 L 236.90,37.90 L 235.84,38.46 L 236.04,37.28 L 235.19,36.44 L 236.37,36.27 Z" fill="#1a1a1a"/>
<text x="0" y="0" font-size="9.0" fill="#1a1a1a" transform="translate(212.50 142.80) scale(0.9414 1)">IL-10<tspan font-size="6.4" dy="-3.8">-/-</tspan></text>
<text x="244.00" y="142.50" font-size="8.7" textLength="12.80" lengthAdjust="spacingAndGlyphs" >WT</text>
<text x="0" y="0" font-size="9.6" fill="#1a1a1a" transform="translate(179.90 114.40) rotate(-90) scale(0.8722 1)">CD69<tspan font-size="7.4" dy="-4.0">hi</tspan><tspan dy="4.0">DNAM-1</tspan><tspan font-size="7.4" dy="-4.0">+</tspan></text>
<text x="0" y="0" font-size="9.6" fill="#1a1a1a" transform="translate(192.60 107.50) rotate(-90) scale(0.9066 1)">CD8<tspan font-size="7.2" dy="-4.0">+</tspan><tspan dy="4.0">T(x10</tspan><tspan font-size="7.2" dy="-4.0">4</tspan><tspan dy="4.0">)</tspan></text>
<line x1="313.70" y1="37.00" x2="313.70" y2="128.60" stroke="#333" stroke-width="1.5" />
<line x1="310.80" y1="128.60" x2="313.70" y2="128.60" stroke="#333" stroke-width="1.0" />
<text x="308.50" y="131.90" font-size="9.2" text-anchor="end" textLength="5.00" lengthAdjust="spacingAndGlyphs" >0</text>
<line x1="310.80" y1="99.45" x2="313.70" y2="99.45" stroke="#333" stroke-width="1.0" />
<text x="308.50" y="102.75" font-size="9.2" text-anchor="end" textLength="5.00" lengthAdjust="spacingAndGlyphs" >5</text>
<line x1="310.80" y1="70.30" x2="313.70" y2="70.30" stroke="#333" stroke-width="1.0" />
<text x="308.50" y="73.60" font-size="9.2" text-anchor="end" textLength="10.30" lengthAdjust="spacingAndGlyphs" >10</text>
<line x1="310.80" y1="41.15" x2="313.70" y2="41.15" stroke="#333" stroke-width="1.0" />
<text x="308.50" y="44.45" font-size="9.2" text-anchor="end" textLength="10.30" lengthAdjust="spacingAndGlyphs" >15</text>
<line x1="310.80" y1="128.60" x2="365.00" y2="128.60" stroke="#333" stroke-width="1.5" />
<rect x="317.50" y="112.40" width="18.80" height="16.20" stroke="#333" stroke-width="1.1" fill="#fff"/>
<rect x="343.50" y="91.00" width="18.90" height="37.60" stroke="#333" stroke-width="1.1" fill="#fff"/>
<line x1="326.70" y1="128.60" x2="326.70" y2="131.60" stroke="#333" stroke-width="1.0" />
<line x1="352.80" y1="128.60" x2="352.80" y2="131.60" stroke="#333" stroke-width="1.0" />
<line x1="326.70" y1="106.50" x2="326.70" y2="118.80" stroke="#333" stroke-width="1.0" />
<line x1="322.80" y1="106.50" x2="331.30" y2="106.50" stroke="#333" stroke-width="1.0" />
<line x1="322.80" y1="118.80" x2="331.30" y2="118.80" stroke="#333" stroke-width="1.0" />
<line x1="352.80" y1="80.40" x2="352.80" y2="100.80" stroke="#333" stroke-width="1.0" />
<line x1="348.00" y1="80.40" x2="357.50" y2="80.40" stroke="#333" stroke-width="1.0" />
<line x1="348.00" y1="100.80" x2="357.50" y2="100.80" stroke="#333" stroke-width="1.0" />
<circle cx="326.60" cy="84.90" r="2.1" fill="#ad0a32"/>
<circle cx="326.50" cy="110.40" r="2.1" fill="#ad0a32"/>
<circle cx="323.70" cy="117.20" r="2.1" fill="#ad0a32"/>
<circle cx="333.00" cy="117.50" r="2.1" fill="#ad0a32"/>
<circle cx="329.90" cy="121.70" r="2.1" fill="#ad0a32"/>
<circle cx="323.70" cy="124.70" r="2.1" fill="#ad0a32"/>
<circle cx="352.30" cy="48.00" r="2.1" fill="#193c7c"/>
<circle cx="352.80" cy="79.60" r="2.1" fill="#193c7c"/>
<circle cx="352.80" cy="91.60" r="2.1" fill="#193c7c"/>
<circle cx="352.80" cy="104.20" r="2.1" fill="#193c7c"/>
<circle cx="355.70" cy="109.00" r="2.1" fill="#193c7c"/>
<circle cx="349.50" cy="113.80" r="2.1" fill="#193c7c"/>
<line x1="326.00" y1="43.40" x2="353.50" y2="43.40" stroke="#333" stroke-width="1.0" />
<path d="M 339.20,35.50 L 339.73,36.57 L 340.91,36.74 L 340.06,37.58 L 340.26,38.76 L 339.20,38.20 L 338.14,38.76 L 338.34,37.58 L 337.49,36.74 L 338.67,36.57 Z" fill="#1a1a1a"/>
<text x="0" y="0" font-size="9.0" fill="#1a1a1a" transform="translate(314.80 142.50) scale(0.9640 1)">IL-10<tspan font-size="6.4" dy="-3.8">-/-</tspan></text>
<text x="346.40" y="141.60" font-size="8.7" textLength="12.60" lengthAdjust="spacingAndGlyphs" >WT</text>
<text x="0" y="0" font-size="10.6" fill="#1a1a1a" transform="translate(291.70 127.60) rotate(-90) scale(0.7878 1)" class="hv">Exhausted CD8<tspan font-size="7.0" dy="-4.2">+</tspan><tspan dy="4.2">T(x10</tspan><tspan font-size="7.0" dy="-4.2">4</tspan><tspan dy="4.2">)</tspan></text>
<line x1="418.00" y1="20.40" x2="432.30" y2="20.40" stroke="#193c7c" stroke-width="1.5" />
<circle cx="425.00" cy="20.40" r="2.7" fill="#193c7c"/>
<line x1="418.00" y1="34.50" x2="432.30" y2="34.50" stroke="#ad0a32" stroke-width="1.5" />
<circle cx="425.00" cy="34.50" r="2.7" fill="#ad0a32"/>
<text x="0" y="0" font-size="9.4" fill="#1a1a1a" transform="translate(436.00 24.00) scale(0.8808 1)">CD11cCre<tspan font-size="6.4" dy="-4.0">&#8212;</tspan><tspan dy="4.0">xIL-10</tspan><tspan font-size="6.4" dy="-4.0">fl</tspan></text>
<text x="0" y="0" font-size="9.4" fill="#1a1a1a" transform="translate(436.00 37.90) scale(0.8656 1)">CD11cCre<tspan font-size="6.4" dy="-4.0">+</tspan><tspan dy="4.0">xIL-10</tspan><tspan font-size="6.4" dy="-4.0">fl</tspan></text>
<line x1="417.70" y1="40.70" x2="417.70" y2="128.60" stroke="#1a1a1a" stroke-width="1.45" />
<line x1="414.30" y1="128.50" x2="417.70" y2="128.50" stroke="#1a1a1a" stroke-width="1.2" />
<text x="410.80" y="131.20" font-size="9.2" text-anchor="end" textLength="4.60" lengthAdjust="spacingAndGlyphs" >0</text>
<line x1="414.30" y1="108.58" x2="417.70" y2="108.58" stroke="#1a1a1a" stroke-width="1.2" />
<text x="410.80" y="111.28" font-size="9.2" text-anchor="end" textLength="9.40" lengthAdjust="spacingAndGlyphs" >25</text>
<line x1="414.30" y1="88.65" x2="417.70" y2="88.65" stroke="#1a1a1a" stroke-width="1.2" />
<text x="410.80" y="91.35" font-size="9.2" text-anchor="end" textLength="9.40" lengthAdjust="spacingAndGlyphs" >50</text>
<line x1="414.30" y1="68.72" x2="417.70" y2="68.72" stroke="#1a1a1a" stroke-width="1.2" />
<text x="410.80" y="71.42" font-size="9.2" text-anchor="end" textLength="9.40" lengthAdjust="spacingAndGlyphs" >75</text>
<line x1="414.30" y1="48.80" x2="417.70" y2="48.80" stroke="#1a1a1a" stroke-width="1.2" />
<text x="410.80" y="51.50" font-size="9.2" text-anchor="end" textLength="13.80" lengthAdjust="spacingAndGlyphs" >100</text>
<line x1="415.60" y1="128.60" x2="498.70" y2="128.60" stroke="#1a1a1a" stroke-width="1.45" />
<line x1="418.10" y1="128.60" x2="418.10" y2="131.80" stroke="#1a1a1a" stroke-width="1.2" />
<text x="418.30" y="143.00" font-size="9.9" text-anchor="middle" textLength="4.80" lengthAdjust="spacingAndGlyphs" >0</text>
<line x1="442.30" y1="128.60" x2="442.30" y2="131.80" stroke="#1a1a1a" stroke-width="1.2" />
<text x="442.50" y="143.00" font-size="9.9" text-anchor="middle" textLength="9.60" lengthAdjust="spacingAndGlyphs" >30</text>
<line x1="466.50" y1="128.60" x2="466.50" y2="131.80" stroke="#1a1a1a" stroke-width="1.2" />
<text x="466.70" y="143.00" font-size="9.9" text-anchor="middle" textLength="9.60" lengthAdjust="spacingAndGlyphs" >60</text>
<line x1="490.70" y1="128.60" x2="490.70" y2="131.80" stroke="#1a1a1a" stroke-width="1.2" />
<text x="490.90" y="143.00" font-size="9.9" text-anchor="middle" textLength="9.60" lengthAdjust="spacingAndGlyphs" >90</text>
<text x="420.90" y="157.70" font-size="10.2" class="hv" textLength="74.00" lengthAdjust="spacingAndGlyphs" >Days post transplant</text>
<text x="391.60" y="113.00" font-size="10.2" class="hv" textLength="57.50" lengthAdjust="spacingAndGlyphs" transform="rotate(-90 391.60 113.00)" >Percent survival</text>
<path d="M 417.7,48.9 L 455.8,48.9 L 455.8,54.9 L 466.2,54.9 L 466.2,60.3 L 471.8,60.3 L 471.8,66.2 L 473.4,66.2 L 473.4,71.8 L 478.2,71.8 L 478.2,77.4 L 484.9,77.4 L 484.9,84.3 L 485.4,84.3 L 485.4,90.3 L 495.5,90.3 L 495.5,103 L 497.7,103" stroke="#193c7c" stroke-width="1.7" fill="none" stroke-linejoin="miter"/>
<path d="M 417.7,47.7 L 467.5,47.7 L 467.5,59.7 L 497.5,59.7 L 497.5,73" stroke="#ad0a32" stroke-width="1.7" fill="none" />
<circle cx="455.80" cy="54.90" r="2.7" fill="#193c7c"/>
<circle cx="466.20" cy="60.30" r="2.7" fill="#193c7c"/>
<circle cx="467.80" cy="60.80" r="2.7" fill="#193c7c"/>
<circle cx="471.80" cy="66.20" r="2.7" fill="#193c7c"/>
<circle cx="473.40" cy="71.80" r="2.7" fill="#193c7c"/>
<circle cx="478.20" cy="77.40" r="2.7" fill="#193c7c"/>
<circle cx="483.80" cy="77.40" r="2.7" fill="#193c7c"/>
<circle cx="484.90" cy="84.30" r="2.7" fill="#193c7c"/>
<circle cx="485.40" cy="90.30" r="2.7" fill="#193c7c"/>
<circle cx="495.70" cy="103.00" r="2.7" fill="#193c7c"/>
<circle cx="497.90" cy="103.00" r="2.7" fill="#193c7c"/>
<circle cx="467.20" cy="53.80" r="2.8" fill="#ad0a32"/>
<circle cx="485.70" cy="59.70" r="2.8" fill="#ad0a32"/>
<circle cx="497.20" cy="73.10" r="2.8" fill="#ad0a32"/>
<line x1="503.80" y1="73.80" x2="503.80" y2="102.30" stroke="#555" stroke-width="1.0" />
<path d="M 510.50,87.70 L 510.97,88.65 L 512.02,88.81 L 511.26,89.55 L 511.44,90.59 L 510.50,90.10 L 509.56,90.59 L 509.74,89.55 L 508.98,88.81 L 510.03,88.65 Z" fill="#1a1a1a"/>
<line x1="45.20" y1="194.50" x2="45.20" y2="282.00" stroke="#1a1a1a" stroke-width="1.45" />
<line x1="41.80" y1="282.00" x2="45.20" y2="282.00" stroke="#1a1a1a" stroke-width="1.2" />
<text x="39.20" y="285.30" font-size="9.2" text-anchor="end" textLength="4.60" lengthAdjust="spacingAndGlyphs" >0</text>
<line x1="41.80" y1="262.00" x2="45.20" y2="262.00" stroke="#1a1a1a" stroke-width="1.2" />
<text x="39.20" y="265.30" font-size="9.2" text-anchor="end" textLength="9.40" lengthAdjust="spacingAndGlyphs" >25</text>
<line x1="41.80" y1="242.00" x2="45.20" y2="242.00" stroke="#1a1a1a" stroke-width="1.2" />
<text x="39.20" y="245.30" font-size="9.2" text-anchor="end" textLength="9.40" lengthAdjust="spacingAndGlyphs" >50</text>
<line x1="41.80" y1="222.00" x2="45.20" y2="222.00" stroke="#1a1a1a" stroke-width="1.2" />
<text x="39.20" y="225.30" font-size="9.2" text-anchor="end" textLength="9.40" lengthAdjust="spacingAndGlyphs" >75</text>
<line x1="41.80" y1="202.00" x2="45.20" y2="202.00" stroke="#1a1a1a" stroke-width="1.2" />
<text x="39.20" y="205.30" font-size="9.2" text-anchor="end" textLength="13.80" lengthAdjust="spacingAndGlyphs" >100</text>
<line x1="42.00" y1="282.00" x2="133.30" y2="282.00" stroke="#1a1a1a" stroke-width="1.45" />
<line x1="45.30" y1="282.00" x2="45.30" y2="285.30" stroke="#1a1a1a" stroke-width="1.2" />
<text x="45.80" y="296.40" font-size="9.9" text-anchor="middle" textLength="4.80" lengthAdjust="spacingAndGlyphs" >0</text>
<line x1="71.60" y1="282.00" x2="71.60" y2="285.30" stroke="#1a1a1a" stroke-width="1.2" />
<text x="72.10" y="296.40" font-size="9.9" text-anchor="middle" textLength="9.80" lengthAdjust="spacingAndGlyphs" >30</text>
<line x1="97.90" y1="282.00" x2="97.90" y2="285.30" stroke="#1a1a1a" stroke-width="1.2" />
<text x="98.40" y="296.40" font-size="9.9" text-anchor="middle" textLength="9.80" lengthAdjust="spacingAndGlyphs" >60</text>
<line x1="124.20" y1="282.00" x2="124.20" y2="285.30" stroke="#1a1a1a" stroke-width="1.2" />
<text x="124.70" y="296.40" font-size="9.9" text-anchor="middle" textLength="9.80" lengthAdjust="spacingAndGlyphs" >90</text>
<text x="52.00" y="310.40" font-size="10.2" class="hv" textLength="75.00" lengthAdjust="spacingAndGlyphs" >Days post transplant</text>
<text x="19.40" y="267.00" font-size="10.2" class="hv" textLength="57.50" lengthAdjust="spacingAndGlyphs" transform="rotate(-90 19.40 267.00)" >Percent survival</text>
<path d="M 94.7,202.1 L 94.7,234.2 L 103.2,234.2 L 103.2,242.2 L 105.9,242.2 L 105.9,250.4 L 113,250.4 L 113,258 L 118.3,258 L 118.3,266.4 L 133.3,266.4" stroke="#5aa83a" stroke-width="1.5" fill="none" />
<path d="M 45.2,202.1 L 94.7,202.1 L 94.7,218.8 L 108.4,218.8 L 108.4,227.9 L 113,227.9 L 113,236.7 L 125.9,236.7 L 125.9,245.8 L 133.3,245.8" stroke="#7a7a7a" stroke-width="1.5" fill="none" />
<circle cx="94.30" cy="234.20" r="2.6" fill="#5aa83a"/>
<circle cx="103.20" cy="242.20" r="2.6" fill="#5aa83a"/>
<circle cx="105.90" cy="250.40" r="2.6" fill="#5aa83a"/>
<circle cx="113.00" cy="258.00" r="2.6" fill="#5aa83a"/>
<circle cx="118.30" cy="266.40" r="2.6" fill="#5aa83a"/>
<circle cx="133.30" cy="266.40" r="2.6" fill="#5aa83a"/>
<circle cx="94.70" cy="210.40" r="2.6" fill="#7a7a7a"/>
<circle cx="96.40" cy="218.80" r="2.6" fill="#7a7a7a"/>
<circle cx="105.30" cy="218.80" r="2.6" fill="#7a7a7a"/>
<circle cx="108.40" cy="227.90" r="2.6" fill="#7a7a7a"/>
<circle cx="113.00" cy="236.70" r="2.6" fill="#7a7a7a"/>
<circle cx="125.90" cy="245.80" r="2.6" fill="#7a7a7a"/>
<circle cx="133.30" cy="245.80" r="2.6" fill="#7a7a7a"/>
<line x1="51.00" y1="255.30" x2="65.50" y2="255.30" stroke="#7a7a7a" stroke-width="1.5" />
<circle cx="58.30" cy="255.30" r="2.7" fill="#7a7a7a"/>
<line x1="51.00" y1="266.50" x2="65.50" y2="266.50" stroke="#5aa83a" stroke-width="1.5" />
<circle cx="58.30" cy="266.50" r="2.7" fill="#5aa83a"/>
<text x="69.20" y="258.30" font-size="9.4" textLength="10.40" lengthAdjust="spacingAndGlyphs" >clg</text>
<text x="69.20" y="269.30" font-size="9.4" textLength="27.90" lengthAdjust="spacingAndGlyphs" >&#945;IL-10R</text>
<path d="M 191.7,238.4 L 212.3,238.3 L 213.22,237.96 L 214.14,237.62 L 215.06,237.28 L 215.98,237.05 L 216.9,236.82 L 217.86,236.78 L 218.82,236.82 L 219.79,236.55 L 220.75,236.63 L 221.71,235.74 L 222.68,236.04 L 223.64,236.39 L 224.6,236.03 L 225.63,236.11 L 226.67,235.25 L 227.7,235.42 L 228.73,235.07 L 229.77,235.19 L 230.8,235.07 L 231.82,234.43 L 232.83,234.48 L 233.85,234.4 L 234.87,234.84 L 235.88,234.57 L 236.9,233.89 L 237.93,234.7 L 238.97,234.34 L 240.0,235.01 L 240.92,234.68 L 241.84,234.69 L 242.76,235.59 L 243.68,235.12 L 244.6,235.24 L 245.52,235.55 L 246.44,235.08 L 247.36,234.17 L 248.28,234.4 L 249.2,233.64 L 250.17,232.86 L 251.15,231.53 L 252.12,231.3 L 253.1,230.17 L 254.25,228.42 L 255.4,226.35 L 257.2,222.12 L 258.45,218.63 L 259.7,214.9 L 260.7,209.33 L 261.7,203.71 L 262.95,201.92 L 264.2,200.19 L 265.8,201.65 L 267.3,210.36 L 268.8,220.15 L 270.3,230.23 L 271.3,233.69 L 272.3,236.38 L 273.33,236.87 L 274.37,237.67 L 275.4,238.3 L 278.2,238.4 Z" stroke="none" stroke-width="1.0" fill="#9c84b4" fill-opacity="1"/>
<path d="M 191.7,238.4 L 212.3,238.3 L 213.22,237.96 L 214.14,237.62 L 215.06,237.28 L 215.98,237.05 L 216.9,236.82 L 217.86,236.78 L 218.82,236.82 L 219.79,236.55 L 220.75,236.63 L 221.71,235.74 L 222.68,236.04 L 223.64,236.39 L 224.6,236.03 L 225.63,236.11 L 226.67,235.25 L 227.7,235.42 L 228.73,235.07 L 229.77,235.19 L 230.8,235.07 L 231.82,234.43 L 232.83,234.48 L 233.85,234.4 L 234.87,234.84 L 235.88,234.57 L 236.9,233.89 L 237.93,234.7 L 238.97,234.34 L 240.0,235.01 L 240.92,234.68 L 241.84,234.69 L 242.76,235.59 L 243.68,235.12 L 244.6,235.24 L 245.52,235.55 L 246.44,235.08 L 247.36,234.17 L 248.28,234.4 L 249.2,233.64 L 250.17,232.86 L 251.15,231.53 L 252.12,231.3 L 253.1,230.17 L 254.25,228.42 L 255.4,226.35 L 257.2,222.12 L 258.45,218.63 L 259.7,214.9 L 260.7,209.33 L 261.7,203.71 L 262.95,201.92 L 264.2,200.19 L 265.8,201.65 L 267.3,210.36 L 268.8,220.15 L 270.3,230.23 L 271.3,233.69 L 272.3,236.38 L 273.33,236.87 L 274.37,237.67 L 275.4,238.3 L 278.2,238.4" stroke="#4e2a6e" stroke-width="1.1" fill="none" />
<path d="M 191.7,260.3 L 209.2,260.3 L 210.23,259.87 L 211.27,259.43 L 212.3,259.26 L 213.33,258.86 L 214.37,258.12 L 215.4,257.49 L 216.32,256.33 L 217.24,256.01 L 218.16,254.91 L 219.08,254.25 L 220.0,252.99 L 220.92,252.42 L 221.84,251.06 L 222.76,250.61 L 223.68,249.63 L 224.6,248.42 L 226.2,247.23 L 227.35,247.21 L 228.5,246.62 L 229.65,246.75 L 230.8,246.77 L 231.9,246.74 L 233.0,247.67 L 233.97,247.84 L 234.95,248.26 L 235.93,248.08 L 236.9,248.13 L 238.5,248.87 L 239.65,248.42 L 240.8,247.65 L 242.3,247.13 L 243.45,247.93 L 244.6,249.02 L 245.52,248.49 L 246.44,248.87 L 247.36,248.32 L 248.28,247.75 L 249.2,247.94 L 250.17,247.02 L 251.15,246.89 L 252.12,246.22 L 253.1,245.21 L 254.15,244.83 L 255.2,244.38 L 256.2,241.22 L 257.2,238.13 L 258.13,235.21 L 259.07,233.44 L 260.0,231.59 L 260.93,229.66 L 261.87,228.25 L 262.8,226.13 L 263.7,229.34 L 264.6,231.52 L 265.55,235.01 L 266.5,239.35 L 267.5,244.43 L 268.5,249.73 L 269.8,253.44 L 271.1,256.57 L 272.45,258.14 L 273.8,259.9 L 274.9,260.1 L 276,260.3 L 278.2,260.3 Z" stroke="none" stroke-width="1.0" fill="#eda440" fill-opacity="0.6"/>
<path d="M 191.7,260.3 L 209.2,260.3 L 210.23,259.87 L 211.27,259.43 L 212.3,259.26 L 213.33,258.86 L 214.37,258.12 L 215.4,257.49 L 216.32,256.33 L 217.24,256.01 L 218.16,254.91 L 219.08,254.25 L 220.0,252.99 L 220.92,252.42 L 221.84,251.06 L 222.76,250.61 L 223.68,249.63 L 224.6,248.42 L 226.2,247.23 L 227.35,247.21 L 228.5,246.62 L 229.65,246.75 L 230.8,246.77 L 231.9,246.74 L 233.0,247.67 L 233.97,247.84 L 234.95,248.26 L 235.93,248.08 L 236.9,248.13 L 238.5,248.87 L 239.65,248.42 L 240.8,247.65 L 242.3,247.13 L 243.45,247.93 L 244.6,249.02 L 245.52,248.49 L 246.44,248.87 L 247.36,248.32 L 248.28,247.75 L 249.2,247.94 L 250.17,247.02 L 251.15,246.89 L 252.12,246.22 L 253.1,245.21 L 254.15,244.83 L 255.2,244.38 L 256.2,241.22 L 257.2,238.13 L 258.13,235.21 L 259.07,233.44 L 260.0,231.59 L 260.93,229.66 L 261.87,228.25 L 262.8,226.13 L 263.7,229.34 L 264.6,231.52 L 265.55,235.01 L 266.5,239.35 L 267.5,244.43 L 268.5,249.73 L 269.8,253.44 L 271.1,256.57 L 272.45,258.14 L 273.8,259.9 L 274.9,260.1 L 276,260.3 L 278.2,260.3" stroke="#e0901c" stroke-width="1.1" fill="none" />
<path d="M 191.7,281.6 L 207.7,281.6 L 208.62,281.34 L 209.54,281.08 L 210.46,280.82 L 211.38,280.56 L 212.3,280.14 L 213.33,279.49 L 214.37,279.44 L 215.4,278.42 L 216.43,278.97 L 217.47,278.95 L 218.5,278.8 L 219.5,278.04 L 220.5,276.45 L 221.5,275.64 L 222.53,274.81 L 223.57,274.33 L 224.6,274.13 L 225.63,273.46 L 226.67,271.79 L 227.7,270.85 L 228.73,270.95 L 229.77,270.97 L 230.8,270.37 L 231.8,269.94 L 232.8,270.2 L 233.8,269.09 L 234.78,269.25 L 235.75,268.16 L 236.72,267.45 L 237.7,266.86 L 238.73,267.79 L 239.77,269.02 L 240.8,269.21 L 241.8,270.34 L 242.8,271.16 L 243.8,271.69 L 245.0,271.09 L 246.2,269.91 L 247.2,269.64 L 248.2,269.5 L 249.2,269.66 L 250.35,268.28 L 251.5,267.03 L 252.65,266.53 L 253.8,265.66 L 255.0,260.92 L 256.2,256.76 L 257.35,252.83 L 258.5,248.57 L 259.65,246.37 L 260.8,243.82 L 262.3,243.74 L 263.3,243.61 L 264.3,243.21 L 265.8,249.23 L 266.75,254.61 L 267.7,261.03 L 268.85,267.48 L 270.0,273.09 L 271.15,276.44 L 272.3,279.09 L 273.8,281.6 L 278.2,281.6 Z" stroke="none" stroke-width="1.0" fill="#7cc05a" fill-opacity="0.6"/>
<path d="M 191.7,281.6 L 207.7,281.6 L 208.62,281.34 L 209.54,281.08 L 210.46,280.82 L 211.38,280.56 L 212.3,280.14 L 213.33,279.49 L 214.37,279.44 L 215.4,278.42 L 216.43,278.97 L 217.47,278.95 L 218.5,278.8 L 219.5,278.04 L 220.5,276.45 L 221.5,275.64 L 222.53,274.81 L 223.57,274.33 L 224.6,274.13 L 225.63,273.46 L 226.67,271.79 L 227.7,270.85 L 228.73,270.95 L 229.77,270.97 L 230.8,270.37 L 231.8,269.94 L 232.8,270.2 L 233.8,269.09 L 234.78,269.25 L 235.75,268.16 L 236.72,267.45 L 237.7,266.86 L 238.73,267.79 L 239.77,269.02 L 240.8,269.21 L 241.8,270.34 L 242.8,271.16 L 243.8,271.69 L 245.0,271.09 L 246.2,269.91 L 247.2,269.64 L 248.2,269.5 L 249.2,269.66 L 250.35,268.28 L 251.5,267.03 L 252.65,266.53 L 253.8,265.66 L 255.0,260.92 L 256.2,256.76 L 257.35,252.83 L 258.5,248.57 L 259.65,246.37 L 260.8,243.82 L 262.3,243.74 L 263.3,243.61 L 264.3,243.21 L 265.8,249.23 L 266.75,254.61 L 267.7,261.03 L 268.85,267.48 L 270.0,273.09 L 271.15,276.44 L 272.3,279.09 L 273.8,281.6 L 278.2,281.6" stroke="#5ba83a" stroke-width="1.1" fill="none" />
<rect x="191.70" y="194.00" width="86.50" height="87.60" stroke="#1a1a1a" stroke-width="1.2" fill="none"/>
<line x1="196.50" y1="281.60" x2="196.50" y2="284.40" stroke="#2a2a2a" stroke-width="0.9" />
<line x1="198.50" y1="281.60" x2="198.50" y2="284.40" stroke="#2a2a2a" stroke-width="0.9" />
<line x1="200.50" y1="281.60" x2="200.50" y2="284.40" stroke="#2a2a2a" stroke-width="0.9" />
<line x1="202.50" y1="281.60" x2="202.50" y2="284.40" stroke="#2a2a2a" stroke-width="0.9" />
<line x1="204.50" y1="281.60" x2="204.50" y2="284.40" stroke="#2a2a2a" stroke-width="0.9" />
<line x1="206.50" y1="281.60" x2="206.50" y2="284.40" stroke="#2a2a2a" stroke-width="0.9" />
<line x1="210.20" y1="281.60" x2="210.20" y2="285.40" stroke="#222" stroke-width="1.0" />
<line x1="214.84" y1="281.60" x2="214.84" y2="284.20" stroke="#2a2a2a" stroke-width="0.9" />
<line x1="217.55" y1="281.60" x2="217.55" y2="284.20" stroke="#2a2a2a" stroke-width="0.9" />
<line x1="219.47" y1="281.60" x2="219.47" y2="284.20" stroke="#2a2a2a" stroke-width="0.9" />
<line x1="220.96" y1="281.60" x2="220.96" y2="284.20" stroke="#2a2a2a" stroke-width="0.9" />
<line x1="222.18" y1="281.60" x2="222.18" y2="284.20" stroke="#2a2a2a" stroke-width="0.9" />
<line x1="223.21" y1="281.60" x2="223.21" y2="284.20" stroke="#2a2a2a" stroke-width="0.9" />
<line x1="224.11" y1="281.60" x2="224.11" y2="284.20" stroke="#2a2a2a" stroke-width="0.9" />
<line x1="224.90" y1="281.60" x2="224.90" y2="284.20" stroke="#2a2a2a" stroke-width="0.9" />
<line x1="225.60" y1="281.60" x2="225.60" y2="285.40" stroke="#222" stroke-width="1.0" />
<line x1="232.76" y1="281.60" x2="232.76" y2="284.20" stroke="#2a2a2a" stroke-width="0.9" />
<line x1="236.96" y1="281.60" x2="236.96" y2="284.20" stroke="#2a2a2a" stroke-width="0.9" />
<line x1="239.93" y1="281.60" x2="239.93" y2="284.20" stroke="#2a2a2a" stroke-width="0.9" />
<line x1="242.24" y1="281.60" x2="242.24" y2="284.20" stroke="#2a2a2a" stroke-width="0.9" />
<line x1="244.12" y1="281.60" x2="244.12" y2="284.20" stroke="#2a2a2a" stroke-width="0.9" />
<line x1="245.71" y1="281.60" x2="245.71" y2="284.20" stroke="#2a2a2a" stroke-width="0.9" />
<line x1="247.09" y1="281.60" x2="247.09" y2="284.20" stroke="#2a2a2a" stroke-width="0.9" />
<line x1="248.31" y1="281.60" x2="248.31" y2="284.20" stroke="#2a2a2a" stroke-width="0.9" />
<line x1="249.40" y1="281.60" x2="249.40" y2="285.40" stroke="#222" stroke-width="1.0" />
<line x1="255.90" y1="281.60" x2="255.90" y2="284.20" stroke="#2a2a2a" stroke-width="0.9" />
<line x1="259.71" y1="281.60" x2="259.71" y2="284.20" stroke="#2a2a2a" stroke-width="0.9" />
<line x1="262.40" y1="281.60" x2="262.40" y2="284.20" stroke="#2a2a2a" stroke-width="0.9" />
<line x1="264.50" y1="281.60" x2="264.50" y2="284.20" stroke="#2a2a2a" stroke-width="0.9" />
<line x1="266.21" y1="281.60" x2="266.21" y2="284.20" stroke="#2a2a2a" stroke-width="0.9" />
<line x1="267.65" y1="281.60" x2="267.65" y2="284.20" stroke="#2a2a2a" stroke-width="0.9" />
<line x1="268.91" y1="281.60" x2="268.91" y2="284.20" stroke="#2a2a2a" stroke-width="0.9" />
<line x1="270.01" y1="281.60" x2="270.01" y2="284.20" stroke="#2a2a2a" stroke-width="0.9" />
<line x1="271.00" y1="281.60" x2="271.00" y2="285.40" stroke="#222" stroke-width="1.0" />
<line x1="277.32" y1="281.60" x2="277.32" y2="284.20" stroke="#2a2a2a" stroke-width="0.9" />
<text x="215.40" y="187.70" font-size="9.4" textLength="39.60" lengthAdjust="spacingAndGlyphs" >CD64<tspan font-size="6.4" dy="-3.5">+</tspan><tspan dy="3.5">M&#981;</tspan></text>
<rect x="189.80" y="214.60" width="4.00" height="8.20" stroke="none" stroke-width="0" fill="#fff"/>
<rect x="189.80" y="243.00" width="4.00" height="8.40" stroke="none" stroke-width="0" fill="#fff"/>
<text x="153.00" y="220.90" font-size="9.1" textLength="52.20" lengthAdjust="spacingAndGlyphs" >MM-relapsed</text>
<text x="153.00" y="249.60" font-size="9.1" textLength="58.00" lengthAdjust="spacingAndGlyphs" >MM-controlled</text>
<text x="153.00" y="274.00" font-size="9.1" textLength="33.70" lengthAdjust="spacingAndGlyphs" >MM-free</text>
<text x="207.70" y="300.00" font-size="11" class="hv" textLength="59.30" lengthAdjust="spacingAndGlyphs" >CSF-1R- mApple</text>
<line x1="324.50" y1="191.50" x2="324.50" y2="282.20" stroke="#1a1a1a" stroke-width="1.45" />
<line x1="321.20" y1="282.20" x2="324.60" y2="282.20" stroke="#1a1a1a" stroke-width="1.2" />
<text x="317.80" y="285.50" font-size="9.2" text-anchor="end" textLength="4.60" lengthAdjust="spacingAndGlyphs" >0</text>
<line x1="321.20" y1="253.20" x2="324.60" y2="253.20" stroke="#1a1a1a" stroke-width="1.2" />
<text x="317.80" y="256.50" font-size="9.2" text-anchor="end" textLength="4.60" lengthAdjust="spacingAndGlyphs" >1</text>
<line x1="321.20" y1="224.20" x2="324.60" y2="224.20" stroke="#1a1a1a" stroke-width="1.2" />
<text x="317.80" y="227.50" font-size="9.2" text-anchor="end" textLength="4.60" lengthAdjust="spacingAndGlyphs" >2</text>
<line x1="321.20" y1="195.20" x2="324.60" y2="195.20" stroke="#1a1a1a" stroke-width="1.2" />
<text x="317.80" y="198.50" font-size="9.2" text-anchor="end" textLength="4.60" lengthAdjust="spacingAndGlyphs" >3</text>
<line x1="322.30" y1="282.20" x2="392.60" y2="282.20" stroke="#1a1a1a" stroke-width="1.45" />
<line x1="327" y1="253.2" x2="391.6" y2="253.2" stroke="#333" stroke-width="0.9" stroke-dasharray="1.2 1.8"/>
<rect x="331.50" y="225.50" width="13.00" height="56.70" stroke="#1a1a1a" stroke-width="1.1" fill="none"/>
<rect x="351.50" y="251.50" width="13.00" height="30.70" stroke="#1a1a1a" stroke-width="1.1" fill="none"/>
<rect x="371.50" y="254.50" width="14.00" height="27.70" stroke="#1a1a1a" stroke-width="1.1" fill="none"/>
<line x1="338.20" y1="215.40" x2="338.20" y2="235.00" stroke="#1a1a1a" stroke-width="1.0" />
<line x1="335.20" y1="215.40" x2="341.20" y2="215.40" stroke="#1a1a1a" stroke-width="1.0" />
<line x1="335.20" y1="235.00" x2="341.20" y2="235.00" stroke="#1a1a1a" stroke-width="1.0" />
<line x1="358.20" y1="247.30" x2="358.20" y2="254.20" stroke="#1a1a1a" stroke-width="1.0" />
<line x1="355.20" y1="247.30" x2="361.20" y2="247.30" stroke="#1a1a1a" stroke-width="1.0" />
<line x1="355.20" y1="254.20" x2="361.20" y2="254.20" stroke="#1a1a1a" stroke-width="1.0" />
<line x1="378.50" y1="251.00" x2="378.50" y2="255.50" stroke="#1a1a1a" stroke-width="1.0" />
<line x1="375.50" y1="251.00" x2="381.50" y2="251.00" stroke="#1a1a1a" stroke-width="1.0" />
<line x1="375.50" y1="255.50" x2="381.50" y2="255.50" stroke="#1a1a1a" stroke-width="1.0" />
<circle cx="338.20" cy="206.90" r="2.0" fill="#4a1c6c"/>
<circle cx="338.20" cy="227.30" r="2.0" fill="#4a1c6c"/>
<circle cx="338.20" cy="241.20" r="2.0" fill="#4a1c6c"/>
<circle cx="355.40" cy="243.00" r="2.0" fill="#e48c1c"/>
<circle cx="361.50" cy="242.40" r="2.0" fill="#e48c1c"/>
<circle cx="358.50" cy="250.00" r="2.0" fill="#e48c1c"/>
<circle cx="361.50" cy="257.80" r="2.0" fill="#e48c1c"/>
<circle cx="355.40" cy="260.40" r="2.0" fill="#e48c1c"/>
<circle cx="375.80" cy="249.90" r="2.0" fill="#5aa83a"/>
<circle cx="384.60" cy="251.90" r="2.0" fill="#5aa83a"/>
<circle cx="381.50" cy="253.50" r="2.0" fill="#5aa83a"/>
<circle cx="375.80" cy="257.80" r="2.0" fill="#5aa83a"/>
<text x="338.50" y="188.50" font-size="9" textLength="30.50" lengthAdjust="spacingAndGlyphs" >p=0.057</text>
<line x1="336.20" y1="192.60" x2="375.70" y2="192.60" stroke="#1a1a1a" stroke-width="1.0" />
<line x1="337.00" y1="203.00" x2="355.00" y2="203.00" stroke="#1a1a1a" stroke-width="1.0" />
<path d="M 345.40,197.60 L 345.90,198.61 L 347.02,198.77 L 346.21,199.56 L 346.40,200.68 L 345.40,200.15 L 344.40,200.68 L 344.59,199.56 L 343.78,198.77 L 344.90,198.61 Z" fill="#1a1a1a"/>
<text x="294.60" y="258.00" font-size="9.9" class="hv" textLength="42.30" lengthAdjust="spacingAndGlyphs" transform="rotate(-90 294.60 258.00)" >CSF-1R  MFI</text>
<text x="306.40" y="261.20" font-size="9.9" class="hv" textLength="48.60" lengthAdjust="spacingAndGlyphs" transform="rotate(-90 306.40 261.20)" >(fold change)</text>
<circle cx="399.20" cy="216.70" r="1.9" fill="#4a1c6c"/>
<text x="404.90" y="219.40" font-size="8.8" textLength="48.90" lengthAdjust="spacingAndGlyphs" >MM-relapsed</text>
<circle cx="399.20" cy="229.00" r="1.9" fill="#e48c1c"/>
<text x="404.90" y="231.70" font-size="8.8" textLength="54.30" lengthAdjust="spacingAndGlyphs" >MM-controlled</text>
<circle cx="399.20" cy="241.30" r="1.9" fill="#5aa83a"/>
<text x="404.90" y="244.00" font-size="8.8" textLength="31.10" lengthAdjust="spacingAndGlyphs" >MM-free</text>
<path d="M 53.5,416.5 L 125.98,357.8 L 125.98,391.5 L 53.5,427 Z" stroke="none" stroke-width="1.0" fill="#dddddd" />
<path d="M 53.5,417.5 L 125.98,382 L 125.98,418.5 L 53.5,423 Z" stroke="none" stroke-width="1.0" fill="#e3eef9" fill-opacity="0.85"/>
<path d="M 53.5,419 L 125.98,382 L 125.98,391.5 L 53.5,424 Z" stroke="none" stroke-width="1.0" fill="#c6ced8" />
<line x1="44.60" y1="346.60" x2="44.60" y2="435.80" stroke="#1a1a1a" stroke-width="1.45" />
<line x1="40.80" y1="350.30" x2="44.60" y2="350.30" stroke="#1a1a1a" stroke-width="1.2" />
<text x="38.00" y="353.60" font-size="9.2" text-anchor="end" textLength="4.60" lengthAdjust="spacingAndGlyphs" >2</text>
<line x1="40.80" y1="364.80" x2="44.60" y2="364.80" stroke="#1a1a1a" stroke-width="1.2" />
<text x="38.00" y="368.10" font-size="9.2" text-anchor="end" textLength="4.60" lengthAdjust="spacingAndGlyphs" >1</text>
<line x1="40.80" y1="379.30" x2="44.60" y2="379.30" stroke="#1a1a1a" stroke-width="1.2" />
<text x="38.00" y="382.60" font-size="9.2" text-anchor="end" textLength="4.60" lengthAdjust="spacingAndGlyphs" >0</text>
<line x1="40.80" y1="393.80" x2="44.60" y2="393.80" stroke="#1a1a1a" stroke-width="1.2" />
<text x="38.00" y="397.10" font-size="9.2" text-anchor="end" textLength="8.00" lengthAdjust="spacingAndGlyphs" >-1</text>
<line x1="40.80" y1="408.30" x2="44.60" y2="408.30" stroke="#1a1a1a" stroke-width="1.2" />
<text x="38.00" y="411.60" font-size="9.2" text-anchor="end" textLength="8.00" lengthAdjust="spacingAndGlyphs" >-2</text>
<line x1="40.80" y1="422.80" x2="44.60" y2="422.80" stroke="#1a1a1a" stroke-width="1.2" />
<text x="38.00" y="426.10" font-size="9.2" text-anchor="end" textLength="8.00" lengthAdjust="spacingAndGlyphs" >-3</text>
<line x1="44.30" y1="435.80" x2="132.70" y2="435.80" stroke="#1a1a1a" stroke-width="1.45" />
<line x1="53.50" y1="435.80" x2="53.50" y2="438.90" stroke="#1a1a1a" stroke-width="1.2" />
<text x="53.50" y="449.90" font-size="9.4" text-anchor="middle" textLength="5.00" lengthAdjust="spacingAndGlyphs" >2</text>
<line x1="71.62" y1="435.80" x2="71.62" y2="438.90" stroke="#1a1a1a" stroke-width="1.2" />
<text x="71.62" y="449.90" font-size="9.4" text-anchor="middle" textLength="5.00" lengthAdjust="spacingAndGlyphs" >4</text>
<line x1="89.74" y1="435.80" x2="89.74" y2="438.90" stroke="#1a1a1a" stroke-width="1.2" />
<text x="89.74" y="449.90" font-size="9.4" text-anchor="middle" textLength="5.00" lengthAdjust="spacingAndGlyphs" >6</text>
<line x1="107.86" y1="435.80" x2="107.86" y2="438.90" stroke="#1a1a1a" stroke-width="1.2" />
<text x="107.86" y="449.90" font-size="9.4" text-anchor="middle" textLength="5.00" lengthAdjust="spacingAndGlyphs" >8</text>
<line x1="125.98" y1="435.80" x2="125.98" y2="438.90" stroke="#1a1a1a" stroke-width="1.2" />
<text x="125.98" y="449.90" font-size="9.4" text-anchor="middle" textLength="9.60" lengthAdjust="spacingAndGlyphs" >10</text>
<text x="60.00" y="464.60" font-size="10.2" class="hv" textLength="57.70" lengthAdjust="spacingAndGlyphs" >Weeks post-SCT</text>
<text x="24.90" y="423.20" font-size="9.9" class="hv" textLength="63.00" lengthAdjust="spacingAndGlyphs" transform="rotate(-90 24.90 423.20)" >M-band (log G/A)</text>
<line x1="46" y1="397.6" x2="133" y2="397.6" stroke="#444" stroke-width="1.2" stroke-dasharray="0.9 1.5"/>
<line x1="53.50" y1="422.00" x2="125.98" y2="372.80" stroke="#666" stroke-width="1.35" />
<line x1="50.50" y1="420.40" x2="125.98" y2="399.60" stroke="#4a9fe0" stroke-width="1.45" />
<circle cx="50.40" cy="419.00" r="1.55" fill="#4a9fe0"/>
<circle cx="50.40" cy="420.90" r="1.55" fill="#4a9fe0"/>
<circle cx="50.40" cy="422.60" r="1.55" fill="#4a9fe0"/>
<circle cx="50.40" cy="425.00" r="1.55" fill="#4a9fe0"/>
<circle cx="50.40" cy="427.80" r="1.55" fill="#4a9fe0"/>
<circle cx="68.80" cy="384.60" r="1.55" fill="#4a9fe0"/>
<circle cx="68.80" cy="401.20" r="1.55" fill="#4a9fe0"/>
<circle cx="68.80" cy="402.60" r="1.55" fill="#4a9fe0"/>
<circle cx="68.80" cy="422.60" r="1.55" fill="#4a9fe0"/>
<circle cx="86.80" cy="362.50" r="1.55" fill="#4a9fe0"/>
<circle cx="86.80" cy="402.40" r="1.55" fill="#4a9fe0"/>
<circle cx="86.80" cy="404.10" r="1.55" fill="#4a9fe0"/>
<circle cx="86.80" cy="406.40" r="1.55" fill="#4a9fe0"/>
<circle cx="86.80" cy="419.10" r="1.55" fill="#4a9fe0"/>
<circle cx="86.80" cy="421.50" r="1.55" fill="#4a9fe0"/>
<circle cx="86.80" cy="423.20" r="1.55" fill="#4a9fe0"/>
<circle cx="105.40" cy="387.30" r="1.55" fill="#4a9fe0"/>
<circle cx="105.40" cy="408.10" r="1.55" fill="#4a9fe0"/>
<circle cx="105.40" cy="409.90" r="1.55" fill="#4a9fe0"/>
<circle cx="105.40" cy="415.10" r="1.55" fill="#4a9fe0"/>
<circle cx="105.40" cy="417.40" r="1.55" fill="#4a9fe0"/>
<circle cx="105.40" cy="423.20" r="1.55" fill="#4a9fe0"/>
<circle cx="123.70" cy="405.80" r="1.55" fill="#4a9fe0"/>
<circle cx="123.70" cy="408.70" r="1.55" fill="#4a9fe0"/>
<circle cx="123.70" cy="411.00" r="1.55" fill="#4a9fe0"/>
<circle cx="123.70" cy="415.30" r="1.55" fill="#4a9fe0"/>
<circle cx="123.70" cy="418.00" r="1.55" fill="#4a9fe0"/>
<circle cx="123.70" cy="423.80" r="1.55" fill="#4a9fe0"/>
<circle cx="53.30" cy="419.70" r="1.55" fill="#6a6a6a"/>
<circle cx="53.30" cy="422.00" r="1.55" fill="#6a6a6a"/>
<circle cx="53.30" cy="424.40" r="1.55" fill="#6a6a6a"/>
<circle cx="53.30" cy="426.70" r="1.55" fill="#6a6a6a"/>
<circle cx="53.30" cy="429.00" r="1.55" fill="#6a6a6a"/>
<circle cx="53.30" cy="431.90" r="1.55" fill="#6a6a6a"/>
<circle cx="71.80" cy="392.50" r="1.55" fill="#6a6a6a"/>
<circle cx="71.80" cy="394.30" r="1.55" fill="#6a6a6a"/>
<circle cx="71.80" cy="396.50" r="1.55" fill="#6a6a6a"/>
<circle cx="71.80" cy="401.80" r="1.55" fill="#6a6a6a"/>
<circle cx="71.80" cy="403.50" r="1.55" fill="#6a6a6a"/>
<circle cx="71.80" cy="410.50" r="1.55" fill="#6a6a6a"/>
<circle cx="71.80" cy="415.30" r="1.55" fill="#6a6a6a"/>
<circle cx="71.80" cy="419.70" r="1.55" fill="#6a6a6a"/>
<circle cx="71.80" cy="422.60" r="1.55" fill="#6a6a6a"/>
<circle cx="89.90" cy="374.70" r="1.55" fill="#6a6a6a"/>
<circle cx="89.90" cy="376.80" r="1.55" fill="#6a6a6a"/>
<circle cx="89.90" cy="386.30" r="1.55" fill="#6a6a6a"/>
<circle cx="89.90" cy="390.00" r="1.55" fill="#6a6a6a"/>
<circle cx="89.90" cy="392.60" r="1.55" fill="#6a6a6a"/>
<circle cx="89.90" cy="395.80" r="1.55" fill="#6a6a6a"/>
<circle cx="89.90" cy="399.00" r="1.55" fill="#6a6a6a"/>
<circle cx="89.90" cy="409.50" r="1.55" fill="#6a6a6a"/>
<circle cx="89.90" cy="420.00" r="1.55" fill="#6a6a6a"/>
<circle cx="89.90" cy="422.00" r="1.55" fill="#6a6a6a"/>
<circle cx="108.00" cy="358.50" r="1.55" fill="#6a6a6a"/>
<circle cx="108.00" cy="372.20" r="1.55" fill="#6a6a6a"/>
<circle cx="108.00" cy="374.10" r="1.55" fill="#6a6a6a"/>
<circle cx="108.00" cy="387.20" r="1.55" fill="#6a6a6a"/>
<circle cx="108.00" cy="405.50" r="1.55" fill="#6a6a6a"/>
<circle cx="108.00" cy="419.70" r="1.55" fill="#6a6a6a"/>
<circle cx="108.00" cy="422.60" r="1.55" fill="#6a6a6a"/>
<circle cx="126.00" cy="350.10" r="1.55" fill="#6a6a6a"/>
<circle cx="126.00" cy="356.40" r="1.55" fill="#6a6a6a"/>
<circle cx="126.00" cy="359.60" r="1.55" fill="#6a6a6a"/>
<circle cx="126.00" cy="372.80" r="1.55" fill="#6a6a6a"/>
<circle cx="126.00" cy="397.90" r="1.55" fill="#6a6a6a"/>
<circle cx="126.00" cy="420.00" r="1.55" fill="#6a6a6a"/>
<circle cx="126.00" cy="430.40" r="1.55" fill="#6a6a6a"/>
<line x1="132.60" y1="370.20" x2="132.60" y2="399.60" stroke="#6a6a6a" stroke-width="1.4" />
<path d="M 140.20,382.40 L 140.73,383.47 L 141.91,383.64 L 141.06,384.48 L 141.26,385.66 L 140.20,385.10 L 139.14,385.66 L 139.34,384.48 L 138.49,383.64 L 139.67,383.47 Z" fill="#1a1a1a"/>
<line x1="185.30" y1="348.00" x2="185.30" y2="436.00" stroke="#1a1a1a" stroke-width="1.45" />
<line x1="181.80" y1="436.00" x2="185.30" y2="436.00" stroke="#1a1a1a" stroke-width="1.2" />
<text x="179.00" y="439.30" font-size="9.4" text-anchor="end" textLength="4.80" lengthAdjust="spacingAndGlyphs" >0</text>
<line x1="181.80" y1="415.95" x2="185.30" y2="415.95" stroke="#1a1a1a" stroke-width="1.2" />
<text x="179.00" y="419.25" font-size="9.4" text-anchor="end" textLength="9.60" lengthAdjust="spacingAndGlyphs" >25</text>
<line x1="181.80" y1="395.90" x2="185.30" y2="395.90" stroke="#1a1a1a" stroke-width="1.2" />
<text x="179.00" y="399.20" font-size="9.4" text-anchor="end" textLength="9.60" lengthAdjust="spacingAndGlyphs" >50</text>
<line x1="181.80" y1="375.85" x2="185.30" y2="375.85" stroke="#1a1a1a" stroke-width="1.2" />
<text x="179.00" y="379.15" font-size="9.4" text-anchor="end" textLength="9.60" lengthAdjust="spacingAndGlyphs" >75</text>
<line x1="181.80" y1="355.80" x2="185.30" y2="355.80" stroke="#1a1a1a" stroke-width="1.2" />
<text x="179.00" y="359.10" font-size="9.4" text-anchor="end" textLength="14.20" lengthAdjust="spacingAndGlyphs" >100</text>
<line x1="182.00" y1="436.00" x2="276.50" y2="436.00" stroke="#1a1a1a" stroke-width="1.45" />
<line x1="185.30" y1="436.00" x2="185.30" y2="439.10" stroke="#1a1a1a" stroke-width="1.2" />
<text x="185.50" y="449.90" font-size="9.6" text-anchor="middle" textLength="4.80" lengthAdjust="spacingAndGlyphs" >0</text>
<line x1="207.40" y1="436.00" x2="207.40" y2="439.10" stroke="#1a1a1a" stroke-width="1.2" />
<text x="207.60" y="449.90" font-size="9.6" text-anchor="middle" textLength="9.60" lengthAdjust="spacingAndGlyphs" >30</text>
<line x1="229.50" y1="436.00" x2="229.50" y2="439.10" stroke="#1a1a1a" stroke-width="1.2" />
<text x="229.70" y="449.90" font-size="9.6" text-anchor="middle" textLength="9.60" lengthAdjust="spacingAndGlyphs" >60</text>
<line x1="251.60" y1="436.00" x2="251.60" y2="439.10" stroke="#1a1a1a" stroke-width="1.2" />
<text x="251.80" y="449.90" font-size="9.6" text-anchor="middle" textLength="9.60" lengthAdjust="spacingAndGlyphs" >90</text>
<line x1="273.70" y1="436.00" x2="273.70" y2="439.10" stroke="#1a1a1a" stroke-width="1.2" />
<text x="273.90" y="449.90" font-size="9.6" text-anchor="middle" textLength="14.20" lengthAdjust="spacingAndGlyphs" >120</text>
<text x="205.80" y="464.60" font-size="10.2" class="hv" textLength="50.10" lengthAdjust="spacingAndGlyphs" >Days post-SCT</text>
<text x="158.20" y="420.00" font-size="10.2" class="hv" textLength="57.00" lengthAdjust="spacingAndGlyphs" transform="rotate(-90 158.20 420.00)" >Percent survival</text>
<path d="M 185.3,354.8 L 223.4,354.8 L 223.4,363.4 L 236,363.4 L 236,371 L 249.2,371 L 249.2,379.3 L 273.7,379.3" stroke="#4a9fe0" stroke-width="1.5" fill="none" />
<path d="M 185.3,355.8 L 221.3,355.8 L 221.3,363.6 L 224,363.6 L 224,371.9 L 235.6,371.9 L 235.6,395.8 L 242.8,395.8 L 242.8,412 L 251.9,412 L 251.9,420.1 L 273.7,420.1" stroke="#7a7a7a" stroke-width="1.5" fill="none" />
<circle cx="236.00" cy="371.00" r="2.6" fill="#4a9fe0"/>
<circle cx="249.20" cy="379.30" r="2.6" fill="#4a9fe0"/>
<circle cx="273.70" cy="379.30" r="2.6" fill="#4a9fe0"/>
<circle cx="223.40" cy="362.50" r="2.6" fill="#4a9fe0"/>
<circle cx="221.30" cy="363.60" r="2.6" fill="#7a7a7a"/>
<circle cx="224.00" cy="371.90" r="2.6" fill="#7a7a7a"/>
<circle cx="235.60" cy="388.40" r="2.6" fill="#7a7a7a"/>
<circle cx="236.00" cy="395.80" r="2.6" fill="#7a7a7a"/>
<circle cx="242.80" cy="412.00" r="2.6" fill="#7a7a7a"/>
<circle cx="251.90" cy="420.10" r="2.6" fill="#7a7a7a"/>
<circle cx="273.70" cy="420.10" r="2.6" fill="#7a7a7a"/>
<line x1="280.30" y1="379.00" x2="280.30" y2="420.50" stroke="#1a1a1a" stroke-width="1.0" />
<path d="M 288.80,398.00 L 289.27,398.95 L 290.32,399.11 L 289.56,399.85 L 289.74,400.89 L 288.80,400.40 L 287.86,400.89 L 288.04,399.85 L 287.28,399.11 L 288.33,398.95 Z" fill="#1a1a1a"/>
<line x1="301.00" y1="388.50" x2="314.80" y2="388.50" stroke="#7a7a7a" stroke-width="1.5" />
<circle cx="307.80" cy="388.50" r="2.6" fill="#7a7a7a"/>
<line x1="301.00" y1="401.00" x2="314.80" y2="401.00" stroke="#4a9fe0" stroke-width="1.5" />
<circle cx="307.80" cy="401.00" r="2.6" fill="#4a9fe0"/>
<text x="318.60" y="390.80" font-size="8.6" textLength="10.40" lengthAdjust="spacingAndGlyphs" >clg</text>
<text x="318.60" y="403.70" font-size="8.2" textLength="20.70" lengthAdjust="spacingAndGlyphs" >M279</text>
<rect x="0" y="0" width="520" height="1.1" fill="#000"/>
<rect x="0" y="0" width="1.3" height="475" fill="#000"/>
<rect x="518.8" y="0" width="1.2" height="475" fill="#000"/>
<rect x="0" y="473.1" width="520" height="1.9" fill="#000"/>
</svg>
</body></html>
